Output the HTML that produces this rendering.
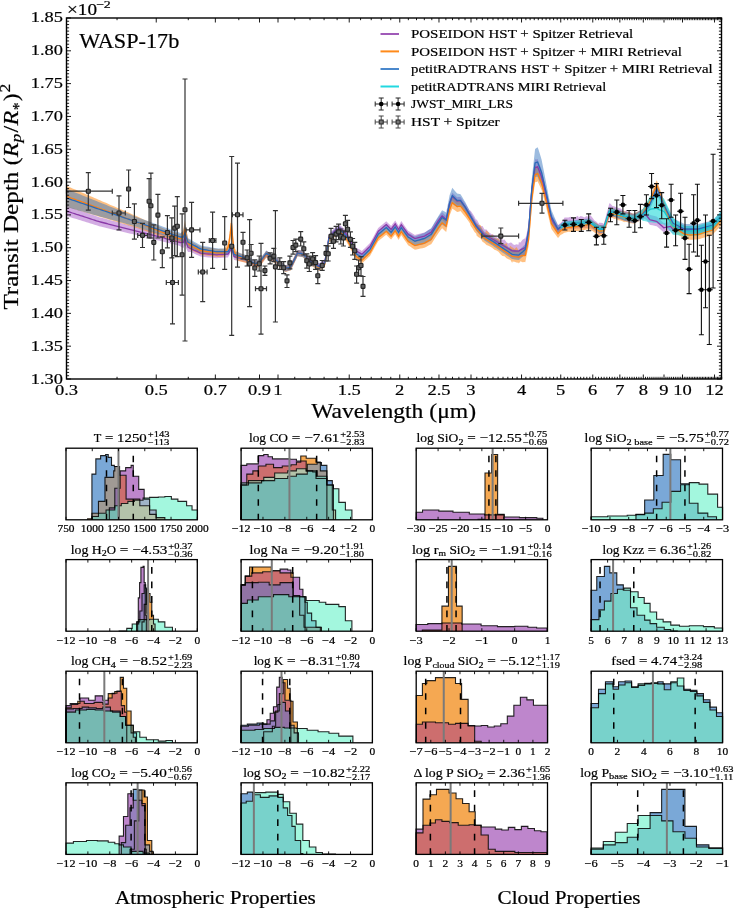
<!DOCTYPE html>
<html><head><meta charset="utf-8"><style>
html,body{margin:0;padding:0;background:#fff;width:735px;height:909px;overflow:hidden}
svg{display:block;will-change:transform}
text{font-family:"Liberation Serif", serif;white-space:pre}
.tk{stroke:#000;stroke-width:0.9}
</style></head><body>
<svg width="735" height="909" viewBox="0 0 735 909">
<rect width="735" height="909" fill="#fff"/>
<path d="M66.5 206.0 L68.5 206.7 L70.5 207.4 L72.5 208.0 L74.5 208.7 L76.5 209.4 L78.5 210.1 L80.5 210.8 L82.5 211.4 L84.5 212.1 L86.5 212.8 L88.5 213.5 L90.5 214.2 L92.5 214.8 L94.5 215.5 L96.5 216.2 L98.5 216.9 L100.0 217.4 L100.5 217.5 L102.5 218.1 L104.5 218.6 L106.5 219.1 L108.5 219.7 L110.5 220.2 L112.5 220.7 L114.5 221.3 L116.5 221.8 L118.5 222.3 L120.5 222.9 L122.5 223.4 L124.5 224.0 L126.5 224.5 L128.5 225.0 L130.5 225.6 L132.5 226.1 L134.0 226.5 L134.5 226.6 L136.5 227.2 L138.5 227.7 L140.5 228.2 L142.5 228.8 L144.5 229.3 L146.5 229.8 L148.5 230.3 L150.5 230.9 L152.5 231.4 L154.5 231.9 L156.5 232.5 L158.5 233.0 L160.0 233.4 L160.5 233.5 L162.5 234.1 L164.5 234.6 L166.5 235.1 L168.5 235.6 L170.5 236.2 L172.5 236.7 L174.5 237.3 L176.5 237.9 L178.5 238.5 L180.4 238.7 L180.5 238.7 L182.5 237.1 L183.3 236.5 L184.5 232.5 L184.9 231.2 L186.5 237.2 L188.0 242.4 L188.5 242.9 L190.5 244.9 L192.5 245.8 L194.5 246.8 L196.5 247.7 L198.5 248.7 L200.5 249.6 L200.8 249.7 L202.5 249.9 L204.5 250.1 L206.5 250.3 L208.5 250.6 L210.5 250.8 L212.5 251.0 L214.5 251.2 L216.5 251.4 L217.1 251.5 L218.5 251.4 L220.5 251.3 L222.5 251.1 L224.5 251.0 L226.5 250.9 L228.0 250.8 L228.5 250.0 L230.3 247.0 L230.5 246.2 L231.4 242.9 L232.5 247.4 L232.6 247.8 L234.0 253.1 L234.5 253.3 L236.5 253.8 L238.5 254.3 L240.5 254.8 L242.5 255.3 L244.5 255.8 L246.5 256.3 L247.0 256.5 L248.5 257.4 L250.5 258.6 L252.5 259.9 L254.5 261.2 L255.2 261.7 L256.5 261.1 L258.5 260.2 L260.0 259.5 L260.5 258.8 L262.5 256.1 L264.5 253.4 L266.3 250.9 L266.5 251.1 L268.5 252.3 L270.5 253.6 L272.5 254.9 L274.5 256.2 L276.5 257.9 L278.5 259.6 L280.5 261.3 L282.5 263.0 L284.5 264.7 L285.4 265.4 L286.5 265.1 L288.5 264.6 L290.5 264.0 L290.8 263.9 L292.5 260.4 L294.5 256.2 L296.5 252.1 L297.6 249.8 L298.5 249.9 L300.5 250.3 L302.5 250.6 L303.0 250.7 L304.5 252.3 L306.5 254.4 L308.5 256.6 L309.9 258.1 L310.5 258.4 L312.5 259.5 L314.5 260.5 L316.5 261.6 L318.5 262.7 L319.4 263.2 L320.5 262.3 L322.5 260.8 L324.5 259.2 L324.8 259.0 L326.5 248.8 L328.5 236.8 L328.9 234.4 L330.5 232.6 L332.5 230.2 L334.4 228.0 L334.5 228.0 L336.5 226.8 L338.5 225.7 L339.9 224.8 L340.5 225.4 L342.5 227.3 L344.5 229.1 L346.5 231.0 L348.5 234.4 L350.5 237.8 L352.5 241.2 L354.5 244.6 L356.4 247.9 L356.5 247.9 L358.5 249.0 L360.5 250.1 L361.9 250.9 L362.5 250.3 L364.5 248.4 L366.5 246.4 L368.5 244.5 L370.0 243.1 L370.5 242.1 L372.5 238.5 L374.5 234.8 L376.5 231.1 L378.2 228.0 L378.5 227.8 L380.5 226.1 L382.5 224.4 L384.5 222.7 L386.3 221.2 L386.5 221.4 L388.5 223.4 L390.5 225.3 L391.1 225.9 L392.5 224.1 L394.5 221.4 L395.2 220.4 L396.5 222.5 L398.5 225.7 L398.6 225.9 L400.5 222.5 L401.3 221.1 L402.5 222.8 L404.5 225.7 L406.5 228.5 L408.1 230.8 L408.5 231.0 L410.5 232.3 L412.5 233.5 L414.5 234.7 L414.9 235.0 L416.5 234.6 L418.5 234.0 L420.5 233.5 L422.5 233.0 L424.4 232.5 L424.5 232.4 L426.5 231.3 L428.5 230.1 L430.5 228.9 L431.2 228.5 L432.5 226.5 L434.5 223.3 L436.5 220.1 L438.0 217.8 L438.5 217.0 L440.5 214.2 L442.1 212.2 L442.5 212.6 L444.5 214.4 L446.2 215.9 L446.5 214.5 L448.5 205.0 L449.6 199.8 L450.5 197.5 L452.3 192.8 L452.5 193.0 L454.5 194.8 L456.5 196.7 L457.1 197.2 L458.5 197.1 L460.5 196.9 L462.5 199.7 L464.5 202.4 L465.2 203.4 L466.5 205.5 L468.5 208.7 L470.0 211.1 L470.5 210.4 L472.5 213.4 L474.5 216.8 L476.3 220.4 L476.5 219.1 L478.5 222.8 L480.5 226.2 L482.5 226.0 L484.5 229.6 L486.5 229.4 L488.5 232.1 L490.5 233.6 L492.5 234.8 L492.7 233.9 L494.5 235.7 L496.5 237.1 L498.5 238.5 L500.5 238.6 L502.4 237.8 L502.5 240.1 L504.5 239.5 L506.5 242.3 L508.5 243.4 L510.5 242.5 L512.2 243.1 L512.5 243.9 L514.5 244.9 L516.5 244.3 L518.5 244.7 L518.8 242.3 L520.5 242.5 L522.5 239.7 L524.5 238.5 L525.3 238.7 L526.5 234.5 L528.5 224.2 L528.6 223.7 L530.5 199.3 L531.8 183.0 L532.5 177.9 L534.5 163.6 L535.1 159.3 L536.5 159.4 L537.6 159.0 L538.5 161.4 L540.5 166.8 L541.6 169.7 L542.5 173.6 L544.5 182.2 L546.5 190.9 L548.5 200.2 L550.5 209.3 L551.4 213.4 L552.5 215.4 L554.5 218.9 L556.5 222.5 L558.0 225.2 L558.5 224.8 L560.5 223.1 L562.5 220.9 L564.3 218.0 L564.5 217.5 L566.5 217.5 L568.5 217.5 L570.5 216.8 L572.5 217.6 L574.5 218.3 L576.5 216.6 L578.1 215.8 L578.5 217.7 L580.5 216.0 L582.5 216.6 L584.5 217.5 L586.5 216.1 L588.5 217.0 L589.7 215.6 L590.5 215.3 L592.5 217.7 L594.5 220.5 L596.5 221.8 L598.5 224.1 L598.9 222.7 L600.5 222.7 L602.5 223.0 L603.6 223.9 L604.5 222.0 L606.5 213.7 L608.5 206.8 L609.3 203.3 L610.5 203.8 L612.5 206.1 L614.5 206.5 L615.1 206.8 L616.5 207.3 L618.5 208.0 L620.5 208.4 L622.5 209.9 L624.4 211.3 L624.5 211.8 L626.5 210.4 L628.5 212.4 L630.5 212.1 L632.5 213.9 L633.6 213.2 L634.5 214.1 L636.5 213.0 L638.5 211.0 L640.5 211.4 L642.5 211.3 L642.9 211.3 L644.5 209.9 L646.5 210.8 L648.5 213.2 L649.8 214.7 L650.5 214.9 L652.5 215.5 L654.5 216.0 L656.5 216.6 L656.8 216.7 L658.5 218.3 L660.5 220.1 L662.5 222.0 L663.7 223.1 L664.5 223.0 L666.5 222.6 L668.5 222.3 L670.5 222.0 L672.5 224.4 L673.0 225.1 L674.5 224.7 L676.5 224.3 L678.5 223.9 L680.5 223.8 L682.5 224.8 L684.5 225.9 L686.5 225.9 L688.5 225.9 L690.5 225.9 L692.5 225.9 L694.5 225.9 L696.5 225.9 L698.4 225.9 L698.5 225.9 L700.5 225.4 L702.5 224.9 L704.5 224.4 L706.5 223.9 L708.5 223.4 L710.5 222.9 L712.3 222.5 L712.5 222.3 L714.5 220.2 L716.5 218.2 L718.5 216.1 L720.5 214.0 L721.5 213.0 L721.5 219.0 L720.5 220.1 L718.5 222.2 L716.5 224.4 L714.5 226.6 L712.5 228.7 L712.3 229.0 L710.5 229.5 L708.5 230.1 L706.5 230.7 L704.5 231.3 L702.5 231.9 L700.5 232.6 L698.5 233.2 L698.4 233.2 L696.5 233.3 L694.5 233.4 L692.5 233.5 L690.5 233.6 L688.5 233.7 L686.5 233.8 L684.5 233.9 L682.5 233.0 L680.5 232.1 L678.5 232.3 L676.5 232.8 L674.5 233.4 L673.0 233.8 L672.5 233.2 L670.5 230.9 L668.5 231.3 L666.5 231.7 L664.5 232.1 L663.7 232.3 L662.5 231.3 L660.5 229.5 L658.5 227.8 L656.8 226.3 L656.5 226.2 L654.5 225.8 L652.5 225.3 L650.5 224.9 L649.8 224.7 L648.5 222.9 L646.5 220.1 L644.5 218.8 L642.9 219.9 L642.5 219.8 L640.5 219.5 L638.5 221.1 L636.5 221.3 L634.5 223.0 L633.6 223.1 L632.5 223.2 L630.5 222.3 L628.5 222.2 L626.5 220.9 L624.5 221.1 L624.4 220.6 L622.5 220.0 L620.5 219.1 L618.5 219.0 L616.5 217.4 L615.1 217.6 L614.5 217.0 L612.5 217.0 L610.5 218.1 L609.3 218.4 L608.5 220.7 L606.5 226.1 L604.5 230.8 L603.6 233.7 L602.5 233.3 L600.5 233.9 L598.9 234.3 L598.5 233.4 L596.5 231.8 L594.5 230.9 L592.5 229.1 L590.5 228.5 L589.7 227.5 L588.5 228.1 L586.5 228.0 L584.5 228.2 L582.5 227.9 L580.5 228.9 L578.5 228.3 L578.1 228.7 L576.5 228.6 L574.5 229.3 L572.5 229.4 L570.5 228.9 L568.5 228.6 L566.5 229.2 L564.5 229.2 L564.3 229.3 L562.5 230.4 L560.5 231.2 L558.5 233.3 L558.0 233.8 L556.5 231.7 L554.5 228.8 L552.5 225.9 L551.4 224.3 L550.5 220.5 L548.5 212.0 L546.5 203.4 L544.5 195.4 L542.5 187.4 L541.6 183.8 L540.5 181.3 L538.5 176.6 L537.6 174.5 L536.5 175.2 L535.1 175.1 L534.5 179.2 L532.5 193.2 L531.8 198.0 L530.5 214.0 L528.6 238.0 L528.5 238.5 L526.5 248.4 L525.3 254.6 L524.5 255.2 L522.5 256.4 L520.5 256.7 L518.8 258.2 L518.5 258.3 L516.5 257.0 L514.5 257.1 L512.5 256.7 L512.2 256.8 L510.5 255.1 L508.5 254.7 L506.5 253.2 L504.5 251.8 L502.5 250.3 L502.4 250.3 L500.5 248.1 L498.5 246.9 L496.5 246.3 L494.5 244.8 L492.7 244.3 L492.5 244.1 L490.5 242.8 L488.5 241.0 L486.5 240.2 L484.5 239.0 L482.5 236.7 L480.5 234.8 L478.5 232.9 L476.5 230.6 L476.3 230.1 L474.5 226.6 L472.5 224.1 L470.5 219.9 L470.0 219.7 L468.5 216.4 L466.5 213.1 L465.2 211.0 L464.5 210.0 L462.5 207.3 L460.5 204.5 L458.5 204.7 L457.1 204.8 L456.5 204.2 L454.5 202.4 L452.5 200.5 L452.3 200.3 L450.5 205.0 L449.6 207.2 L448.5 212.5 L446.5 222.0 L446.2 223.4 L444.5 221.8 L442.5 220.0 L442.1 219.6 L440.5 221.6 L438.5 224.4 L438.0 225.1 L436.5 227.5 L434.5 230.6 L432.5 233.8 L431.2 235.8 L430.5 236.2 L428.5 237.4 L426.5 238.5 L424.5 239.7 L424.4 239.7 L422.5 240.2 L420.5 240.7 L418.5 241.2 L416.5 241.7 L414.9 242.1 L414.5 241.9 L412.5 240.6 L410.5 239.4 L408.5 238.1 L408.1 237.8 L406.5 235.6 L404.5 232.7 L402.5 229.9 L401.3 228.1 L400.5 229.5 L398.6 232.9 L398.5 232.7 L396.5 229.5 L395.2 227.4 L394.5 228.3 L392.5 231.0 L391.1 232.9 L390.5 232.3 L388.5 230.2 L386.5 228.2 L386.3 228.0 L384.5 229.5 L382.5 231.2 L380.5 232.9 L378.5 234.5 L378.2 234.8 L376.5 237.9 L374.5 241.5 L372.5 245.2 L370.5 248.8 L370.0 249.8 L368.5 251.2 L366.5 253.1 L364.5 255.0 L362.5 256.9 L361.9 257.5 L360.5 256.7 L358.5 255.6 L356.5 254.5 L356.4 254.4 L354.5 251.2 L352.5 247.7 L350.5 244.3 L348.5 240.9 L346.5 237.4 L344.5 235.6 L342.5 233.7 L340.5 231.8 L339.9 231.2 L338.5 232.0 L336.5 233.2 L334.5 234.3 L334.4 234.4 L332.5 236.6 L330.5 238.9 L328.9 240.7 L328.5 243.1 L326.5 255.1 L324.8 265.3 L324.5 265.5 L322.5 267.0 L320.5 268.5 L319.4 269.4 L318.5 268.9 L316.5 267.8 L314.5 266.7 L312.5 265.6 L310.5 264.5 L309.9 264.2 L308.5 262.6 L306.5 260.5 L304.5 258.3 L303.0 256.7 L302.5 256.6 L300.5 256.3 L298.5 256.0 L297.6 255.8 L296.5 258.1 L294.5 262.3 L292.5 266.5 L290.8 270.0 L290.5 270.1 L288.5 270.7 L286.5 271.3 L285.4 271.6 L284.5 270.8 L282.5 269.1 L280.5 267.5 L278.5 265.8 L276.5 264.1 L274.5 262.4 L272.5 261.1 L270.5 259.9 L268.5 258.6 L266.5 257.4 L266.3 257.2 L264.5 259.7 L262.5 262.4 L260.5 265.2 L260.0 265.8 L258.5 266.5 L256.5 267.5 L255.2 268.1 L254.5 267.6 L252.5 266.3 L250.5 265.1 L248.5 263.8 L247.0 262.9 L246.5 262.8 L244.5 262.3 L242.5 261.8 L240.5 261.3 L238.5 260.8 L236.5 260.4 L234.5 259.9 L234.0 259.7 L232.6 254.4 L232.5 254.0 L231.4 249.5 L230.5 252.9 L230.3 253.6 L228.5 256.6 L228.0 257.5 L226.5 257.6 L224.5 257.7 L222.5 257.8 L220.5 258.0 L218.5 258.1 L217.1 258.2 L216.5 258.2 L214.5 258.0 L212.5 257.8 L210.5 257.6 L208.5 257.4 L206.5 257.2 L204.5 257.0 L202.5 256.8 L200.8 256.6 L200.5 256.5 L198.5 255.6 L196.5 254.7 L194.5 253.7 L192.5 252.8 L190.5 251.9 L188.5 252.0 L188.0 252.1 L186.5 249.0 L184.9 245.2 L184.5 246.0 L183.3 248.2 L182.5 247.7 L180.5 246.4 L180.4 246.3 L178.5 245.5 L176.5 245.0 L174.5 244.4 L172.5 243.9 L170.5 243.4 L168.5 242.9 L166.5 242.4 L164.5 241.9 L162.5 241.4 L160.5 241.0 L160.0 240.8 L158.5 240.5 L156.5 240.0 L154.5 239.5 L152.5 239.0 L150.5 238.5 L148.5 238.0 L146.5 237.5 L144.5 237.1 L142.5 236.6 L140.5 236.1 L138.5 235.6 L136.5 235.1 L134.5 234.6 L134.0 234.5 L132.5 234.1 L130.5 233.7 L128.5 233.2 L126.5 232.7 L124.5 232.2 L122.5 231.8 L120.5 231.3 L118.5 230.8 L116.5 230.3 L114.5 229.9 L112.5 229.4 L110.5 228.9 L108.5 228.4 L106.5 228.0 L104.5 227.5 L102.5 227.0 L100.5 226.5 L100.0 226.4 L98.5 225.9 L96.5 225.3 L94.5 224.7 L92.5 224.1 L90.5 223.5 L88.5 222.8 L86.5 222.2 L84.5 221.6 L82.5 221.0 L80.5 220.3 L78.5 219.7 L76.5 219.1 L74.5 218.5 L72.5 217.9 L70.5 217.2 L68.5 216.6 L66.5 216.0Z" fill="#a85cc8" fill-opacity="0.5"/>
<path d="M66.5 185.8 L68.5 186.7 L70.5 187.5 L72.5 188.4 L74.5 189.3 L76.5 190.1 L78.5 191.0 L80.5 191.9 L82.5 192.7 L84.5 193.6 L86.5 194.5 L88.5 195.3 L90.5 196.2 L92.5 197.1 L94.5 197.9 L96.5 198.8 L98.5 199.7 L100.0 200.3 L100.5 200.5 L102.5 201.4 L104.5 202.3 L106.5 203.1 L108.5 204.0 L110.5 204.9 L112.5 205.7 L114.5 206.6 L116.5 207.5 L118.5 208.3 L120.5 209.2 L122.5 210.0 L124.5 210.9 L126.5 211.8 L128.5 212.6 L130.5 213.5 L132.5 214.4 L134.0 215.0 L134.5 215.2 L136.5 216.1 L138.5 217.1 L140.5 218.0 L142.5 218.9 L144.5 219.8 L146.5 220.7 L148.5 221.6 L150.5 222.5 L152.5 223.4 L154.5 224.4 L156.5 225.3 L158.5 226.2 L160.0 226.9 L160.5 227.1 L162.5 227.9 L164.5 228.7 L166.5 229.4 L168.5 230.2 L170.5 231.0 L172.5 231.7 L174.5 232.4 L176.5 233.1 L178.5 233.8 L180.4 234.1 L180.5 234.0 L182.5 231.2 L183.3 229.0 L184.5 222.3 L184.9 220.0 L186.5 230.4 L188.0 238.4 L188.5 239.0 L190.5 241.1 L192.5 242.2 L194.5 243.3 L196.5 244.4 L198.5 245.5 L200.5 246.5 L200.8 246.7 L202.5 246.9 L204.5 247.2 L206.5 247.5 L208.5 247.7 L210.5 248.0 L212.5 248.3 L214.5 248.6 L216.5 248.8 L217.1 248.9 L218.5 248.9 L220.5 248.8 L222.5 248.8 L224.5 248.7 L226.5 246.1 L228.0 243.4 L228.5 241.0 L230.3 226.5 L230.5 224.2 L231.4 214.0 L232.5 229.4 L232.6 230.8 L234.0 246.6 L234.5 247.5 L236.5 251.1 L238.5 252.6 L240.5 253.4 L242.5 254.1 L244.5 254.9 L246.5 255.6 L247.0 255.8 L248.5 256.9 L250.5 258.4 L252.5 259.7 L254.5 261.1 L255.2 261.5 L256.5 261.0 L258.5 260.1 L260.0 259.5 L260.5 258.8 L262.5 256.1 L264.5 253.4 L266.3 250.9 L266.5 251.1 L268.5 252.4 L270.5 253.6 L272.5 254.9 L274.5 256.2 L276.5 257.9 L278.5 259.6 L280.5 261.3 L282.5 263.0 L284.5 264.7 L285.4 265.5 L286.5 265.2 L288.5 264.6 L290.5 264.1 L290.8 264.0 L292.5 260.5 L294.5 256.3 L296.5 252.1 L297.6 249.9 L298.5 250.0 L300.5 250.4 L302.5 250.9 L303.0 251.0 L304.5 252.7 L306.5 255.0 L308.5 257.3 L309.9 259.0 L310.5 259.3 L312.5 260.6 L314.5 261.8 L316.5 263.1 L318.5 264.3 L319.4 264.9 L320.5 264.2 L322.5 262.8 L324.5 261.4 L324.8 261.2 L326.5 251.1 L328.5 239.3 L328.9 236.9 L330.5 235.3 L332.5 233.2 L334.4 231.2 L334.5 231.1 L336.5 230.2 L338.5 229.3 L339.9 228.6 L340.5 229.3 L342.5 231.3 L344.5 233.4 L346.5 235.5 L348.5 239.1 L350.5 242.8 L352.5 246.4 L354.5 250.1 L356.4 253.5 L356.5 253.6 L358.5 254.9 L360.5 256.2 L361.9 257.0 L362.5 256.5 L364.5 254.6 L366.5 252.7 L368.5 250.8 L370.0 249.4 L370.5 248.5 L372.5 244.8 L374.5 241.2 L376.5 237.6 L378.2 234.5 L378.5 234.3 L380.5 232.6 L382.5 231.0 L384.5 229.3 L386.3 227.9 L386.5 228.1 L388.5 230.1 L390.5 232.1 L391.1 232.7 L392.5 230.9 L394.5 228.2 L395.2 227.3 L396.5 229.4 L398.5 232.7 L398.6 232.9 L400.5 229.5 L401.3 228.1 L402.5 229.7 L404.5 232.5 L406.5 235.2 L408.1 237.4 L408.5 237.6 L410.5 238.8 L412.5 240.0 L414.5 241.1 L414.9 241.4 L416.5 240.9 L418.5 240.2 L420.5 239.6 L422.5 239.0 L424.4 238.4 L424.5 238.4 L426.5 237.1 L428.5 235.9 L430.5 234.6 L431.2 234.2 L432.5 232.1 L434.5 228.8 L436.5 225.6 L438.0 223.1 L438.5 222.4 L440.5 219.4 L442.1 217.2 L442.5 217.5 L444.5 219.1 L446.2 220.4 L446.5 218.9 L448.5 209.2 L449.6 203.8 L450.5 201.4 L452.3 196.6 L452.5 196.8 L454.5 198.7 L456.5 200.6 L457.1 201.2 L458.5 201.1 L460.5 201.0 L462.5 203.8 L464.5 206.7 L465.2 207.6 L466.5 209.7 L468.5 213.0 L470.0 215.2 L470.5 216.0 L472.5 217.7 L474.5 221.5 L476.3 224.5 L476.5 223.8 L478.5 225.1 L480.5 225.1 L482.5 229.5 L484.5 233.6 L486.5 230.5 L488.5 232.3 L490.5 236.3 L492.5 233.9 L492.7 238.0 L494.5 237.7 L496.5 238.6 L498.5 238.8 L500.5 240.9 L502.4 243.3 L502.5 242.9 L504.5 244.5 L506.5 242.9 L508.5 248.7 L510.5 245.7 L512.2 247.7 L512.5 247.2 L514.5 249.1 L516.5 247.1 L518.5 250.2 L518.8 251.1 L520.5 250.6 L522.5 249.4 L524.5 247.6 L525.3 246.5 L526.5 243.5 L528.5 233.6 L528.6 233.1 L530.5 208.5 L531.8 191.7 L532.5 186.4 L534.5 171.2 L535.1 166.6 L536.5 166.3 L537.6 165.7 L538.5 168.0 L540.5 173.0 L541.6 175.8 L542.5 179.5 L544.5 187.8 L546.5 196.2 L548.5 205.1 L550.5 214.1 L551.4 218.1 L552.5 220.0 L554.5 223.4 L556.5 226.8 L558.0 229.3 L558.5 228.9 L560.5 227.1 L562.5 224.0 L564.3 222.8 L564.5 223.6 L566.5 221.9 L568.5 223.3 L570.5 221.5 L572.5 221.5 L574.5 221.0 L576.5 222.0 L578.1 221.8 L578.5 220.8 L580.5 220.2 L582.5 220.6 L584.5 219.9 L586.5 219.5 L588.5 219.6 L589.7 220.1 L590.5 219.3 L592.5 221.2 L594.5 222.2 L596.5 223.3 L598.5 224.6 L598.9 226.0 L600.5 224.9 L602.5 225.8 L603.6 225.4 L604.5 222.3 L606.5 217.2 L608.5 210.2 L609.3 208.4 L610.5 208.8 L612.5 207.7 L614.5 208.7 L615.1 209.4 L616.5 208.8 L618.5 210.6 L620.5 210.8 L622.5 211.6 L624.4 211.2 L624.5 211.0 L626.5 212.6 L628.5 211.7 L630.5 213.1 L632.5 213.3 L633.6 214.1 L634.5 213.3 L636.5 212.1 L638.5 211.6 L640.5 210.5 L642.5 209.0 L642.9 208.7 L644.5 206.1 L646.5 202.9 L648.5 199.8 L649.8 197.7 L650.5 195.9 L652.5 190.8 L654.5 185.6 L656.5 180.8 L656.8 180.3 L658.5 185.1 L660.5 190.8 L662.5 196.5 L663.7 199.9 L664.5 201.9 L666.5 206.9 L668.5 211.8 L670.5 216.6 L672.5 220.9 L673.0 221.9 L674.5 222.9 L676.5 224.2 L678.5 225.5 L680.5 226.8 L682.5 228.1 L684.5 229.4 L686.5 229.7 L688.5 230.0 L690.5 230.2 L692.5 230.0 L694.5 229.9 L696.5 229.7 L698.4 229.6 L698.5 229.6 L700.5 228.9 L702.5 228.3 L704.5 227.6 L706.5 227.0 L708.5 226.4 L710.5 225.7 L712.3 225.1 L712.5 224.9 L714.5 222.7 L716.5 220.5 L718.5 218.3 L720.5 216.1 L721.5 215.0 L721.5 225.0 L720.5 226.1 L718.5 228.3 L716.5 230.5 L714.5 232.6 L712.5 234.8 L712.3 235.0 L710.5 235.6 L708.5 236.2 L706.5 236.8 L704.5 237.4 L702.5 238.1 L700.5 238.7 L698.5 239.3 L698.4 239.3 L696.5 239.4 L694.5 239.5 L692.5 239.7 L690.5 239.8 L688.5 239.6 L686.5 239.3 L684.5 238.9 L682.5 237.6 L680.5 236.3 L678.5 235.0 L676.5 233.7 L674.5 232.3 L673.0 231.4 L672.5 230.3 L670.5 226.0 L668.5 221.2 L666.5 216.2 L664.5 211.2 L663.7 209.2 L662.5 205.8 L660.5 200.1 L658.5 194.4 L656.8 189.5 L656.5 190.0 L654.5 194.8 L652.5 199.9 L650.5 205.0 L649.8 206.8 L648.5 208.9 L646.5 212.0 L644.5 215.2 L642.9 217.7 L642.5 218.0 L640.5 219.5 L638.5 221.4 L636.5 222.1 L634.5 223.5 L633.6 223.8 L632.5 223.3 L630.5 223.2 L628.5 222.6 L626.5 222.1 L624.5 221.7 L624.4 222.2 L622.5 221.2 L620.5 220.6 L618.5 220.2 L616.5 219.4 L615.1 218.4 L614.5 219.0 L612.5 218.0 L610.5 217.8 L609.3 217.8 L608.5 220.3 L606.5 226.8 L604.5 232.7 L603.6 235.3 L602.5 235.5 L600.5 235.8 L598.9 236.0 L598.5 235.3 L596.5 234.2 L594.5 232.4 L592.5 231.1 L590.5 229.9 L589.7 228.9 L588.5 229.6 L586.5 229.5 L584.5 230.0 L582.5 229.9 L580.5 230.4 L578.5 230.7 L578.1 231.2 L576.5 231.1 L574.5 231.0 L572.5 231.7 L570.5 232.1 L568.5 231.7 L566.5 232.3 L564.5 232.7 L564.3 232.7 L562.5 234.1 L560.5 235.1 L558.5 237.4 L558.0 238.0 L556.5 236.0 L554.5 233.2 L552.5 230.5 L551.4 229.0 L550.5 225.3 L548.5 217.0 L546.5 208.7 L544.5 201.0 L542.5 193.3 L541.6 189.9 L540.5 187.5 L538.5 183.2 L537.6 181.2 L536.5 182.1 L535.1 182.3 L534.5 186.6 L532.5 201.1 L531.8 206.1 L530.5 222.4 L528.6 246.3 L528.5 246.8 L526.5 255.9 L525.3 262.2 L524.5 262.0 L522.5 262.2 L520.5 261.2 L518.8 263.5 L518.5 262.7 L516.5 262.4 L514.5 261.8 L512.5 261.5 L512.2 263.1 L510.5 260.1 L508.5 259.3 L506.5 258.2 L504.5 256.3 L502.5 256.0 L502.4 255.9 L500.5 254.3 L498.5 251.8 L496.5 250.5 L494.5 249.8 L492.7 248.2 L492.5 248.1 L490.5 246.8 L488.5 245.7 L486.5 245.1 L484.5 242.9 L482.5 241.8 L480.5 238.3 L478.5 237.3 L476.5 235.5 L476.3 233.8 L474.5 231.9 L472.5 228.5 L470.5 225.7 L470.0 223.5 L468.5 221.3 L466.5 218.5 L465.2 216.7 L464.5 215.9 L462.5 213.5 L460.5 211.1 L458.5 211.7 L457.1 212.0 L456.5 211.6 L454.5 210.1 L452.5 208.7 L452.3 208.5 L450.5 213.3 L449.6 215.6 L448.5 220.8 L446.5 230.4 L446.2 231.9 L444.5 230.4 L442.5 228.6 L442.1 228.3 L440.5 230.3 L438.5 233.1 L438.0 233.8 L436.5 236.1 L434.5 239.1 L432.5 242.2 L431.2 244.2 L430.5 244.6 L428.5 245.6 L426.5 246.7 L424.5 247.7 L424.4 247.8 L422.5 248.2 L420.5 248.6 L418.5 249.0 L416.5 249.5 L414.9 249.8 L414.5 249.5 L412.5 248.2 L410.5 246.8 L408.5 245.5 L408.1 245.2 L406.5 242.8 L404.5 239.9 L402.5 237.0 L401.3 235.2 L400.5 236.6 L398.6 239.9 L398.5 239.7 L396.5 236.4 L395.2 234.2 L394.5 235.2 L392.5 237.8 L391.1 239.6 L390.5 239.0 L388.5 236.9 L386.5 234.9 L386.3 234.7 L384.5 236.1 L382.5 237.7 L380.5 239.3 L378.5 241.0 L378.2 241.2 L376.5 244.3 L374.5 247.8 L372.5 251.4 L370.5 255.0 L370.0 255.9 L368.5 257.3 L366.5 259.2 L364.5 261.1 L362.5 262.9 L361.9 263.5 L360.5 262.6 L358.5 261.3 L356.5 260.0 L356.4 259.9 L354.5 256.4 L352.5 252.8 L350.5 249.1 L348.5 245.4 L346.5 241.7 L344.5 239.6 L342.5 237.5 L340.5 235.4 L339.9 234.8 L338.5 235.4 L336.5 236.3 L334.5 237.2 L334.4 237.3 L332.5 239.2 L330.5 241.3 L328.9 243.0 L328.5 245.3 L326.5 257.2 L324.8 267.3 L324.5 267.5 L322.5 268.9 L320.5 270.3 L319.4 271.0 L318.5 270.5 L316.5 269.3 L314.5 268.0 L312.5 266.8 L310.5 265.6 L309.9 265.2 L308.5 263.6 L306.5 261.3 L304.5 259.0 L303.0 257.3 L302.5 257.2 L300.5 256.7 L298.5 256.4 L297.6 256.3 L296.5 258.6 L294.5 262.7 L292.5 266.9 L290.8 270.5 L290.5 270.6 L288.5 271.1 L286.5 271.7 L285.4 272.0 L284.5 271.3 L282.5 269.6 L280.5 267.9 L278.5 266.2 L276.5 264.6 L274.5 262.9 L272.5 261.6 L270.5 260.4 L268.5 259.1 L266.5 257.9 L266.3 257.7 L264.5 260.2 L262.5 262.9 L260.5 265.7 L260.0 266.3 L258.5 267.0 L256.5 267.9 L255.2 268.5 L254.5 268.0 L252.5 266.7 L250.5 265.3 L248.5 264.1 L247.0 263.2 L246.5 263.1 L244.5 262.6 L242.5 262.0 L240.5 261.5 L238.5 261.0 L236.5 259.8 L234.5 256.5 L234.0 255.6 L232.6 244.6 L232.5 243.6 L231.4 232.0 L230.5 239.6 L230.3 241.3 L228.5 250.5 L228.0 251.4 L226.5 254.1 L224.5 256.7 L222.5 256.8 L220.5 256.8 L218.5 256.9 L217.1 256.9 L216.5 256.8 L214.5 256.6 L212.5 256.3 L210.5 256.0 L208.5 255.7 L206.5 255.5 L204.5 255.2 L202.5 254.9 L200.8 254.7 L200.5 254.5 L198.5 253.6 L196.5 252.7 L194.5 251.8 L192.5 250.8 L190.5 249.9 L188.5 247.9 L188.0 247.4 L186.5 243.7 L184.9 238.0 L184.5 239.0 L183.3 242.0 L182.5 241.8 L180.5 243.0 L180.4 243.1 L178.5 242.8 L176.5 242.1 L174.5 241.4 L172.5 240.7 L170.5 240.0 L168.5 239.2 L166.5 238.4 L164.5 237.7 L162.5 236.9 L160.5 236.1 L160.0 235.9 L158.5 235.4 L156.5 234.7 L154.5 234.0 L152.5 233.3 L150.5 232.6 L148.5 231.9 L146.5 231.3 L144.5 230.6 L142.5 229.9 L140.5 229.2 L138.5 228.5 L136.5 227.9 L134.5 227.2 L134.0 227.0 L132.5 226.6 L130.5 226.0 L128.5 225.4 L126.5 224.8 L124.5 224.2 L122.5 223.6 L120.5 223.0 L118.5 222.4 L116.5 221.8 L114.5 221.2 L112.5 220.6 L110.5 220.0 L108.5 219.4 L106.5 218.8 L104.5 218.2 L102.5 217.6 L100.5 217.0 L100.0 216.9 L98.5 216.4 L96.5 215.8 L94.5 215.2 L92.5 214.6 L90.5 214.0 L88.5 213.4 L86.5 212.8 L84.5 212.2 L82.5 211.6 L80.5 211.0 L78.5 210.4 L76.5 209.8 L74.5 209.2 L72.5 208.6 L70.5 208.0 L68.5 207.4 L66.5 206.8Z" fill="#ff8c1a" fill-opacity="0.55"/>
<path d="M66.5 189.0 L68.5 189.8 L70.5 190.6 L72.5 191.4 L74.5 192.2 L76.5 193.0 L78.5 193.8 L80.5 194.6 L82.5 195.4 L84.5 196.2 L86.5 197.1 L88.5 197.9 L90.5 198.7 L92.5 199.5 L94.5 200.3 L96.5 201.1 L98.5 201.9 L100.0 202.5 L100.5 202.7 L102.5 203.5 L104.5 204.3 L106.5 205.1 L108.5 205.9 L110.5 206.7 L112.5 207.5 L114.5 208.2 L116.5 209.0 L118.5 209.8 L120.5 210.6 L122.5 211.4 L124.5 212.2 L126.5 213.0 L128.5 213.8 L130.5 214.6 L132.5 215.4 L134.0 216.0 L134.5 216.2 L136.5 216.9 L138.5 217.7 L140.5 218.4 L142.5 219.1 L144.5 219.9 L146.5 220.6 L148.5 221.3 L150.5 222.1 L152.5 222.8 L154.5 223.5 L156.5 224.3 L158.5 225.0 L160.0 225.5 L160.5 225.7 L162.5 226.5 L164.5 227.2 L166.5 227.9 L168.5 228.6 L170.5 229.4 L172.5 230.1 L174.5 230.8 L176.5 231.5 L178.5 232.3 L180.4 233.0 L180.5 233.0 L182.5 232.0 L183.3 230.3 L184.5 224.8 L184.9 223.0 L186.5 231.1 L188.0 238.2 L188.5 238.5 L190.5 239.6 L192.5 240.8 L194.5 241.9 L196.5 243.1 L198.5 244.2 L200.5 245.3 L200.8 245.5 L202.5 245.8 L204.5 246.2 L206.5 246.5 L208.5 246.8 L210.5 247.2 L212.5 247.5 L214.5 247.9 L216.5 248.2 L217.1 248.3 L218.5 248.4 L220.5 248.4 L222.5 248.4 L224.5 248.4 L226.5 248.4 L228.0 248.4 L228.5 247.6 L230.3 244.8 L230.5 244.0 L231.4 240.8 L232.5 245.4 L232.6 245.8 L234.0 251.2 L234.5 251.3 L236.5 252.0 L238.5 252.6 L240.5 253.3 L242.5 253.9 L244.5 254.6 L246.5 255.2 L247.0 255.4 L248.5 256.4 L250.5 257.8 L252.5 259.1 L254.5 260.5 L255.2 261.0 L256.5 260.4 L258.5 259.5 L260.0 258.9 L260.5 258.2 L262.5 255.6 L264.5 252.9 L266.3 250.5 L266.5 250.6 L268.5 251.9 L270.5 253.2 L272.5 254.5 L274.5 255.8 L276.5 257.6 L278.5 259.3 L280.5 261.1 L282.5 262.8 L284.5 264.5 L285.4 265.3 L286.5 265.0 L288.5 264.5 L290.5 264.0 L290.8 263.9 L292.5 260.4 L294.5 256.3 L296.5 252.1 L297.6 249.9 L298.5 250.0 L300.5 250.4 L302.5 250.8 L303.0 250.8 L304.5 252.5 L306.5 254.7 L308.5 256.9 L309.9 258.4 L310.5 258.8 L312.5 259.9 L314.5 261.0 L316.5 262.1 L318.5 263.3 L319.4 263.8 L320.5 263.0 L322.5 261.5 L324.5 260.0 L324.8 259.8 L326.5 249.6 L328.5 237.6 L328.9 235.3 L330.5 233.5 L332.5 231.3 L334.4 229.2 L334.5 229.2 L336.5 228.2 L338.5 227.1 L339.9 226.4 L340.5 227.0 L342.5 229.0 L344.5 231.0 L346.5 233.0 L348.5 236.5 L350.5 240.1 L352.5 243.6 L354.5 247.2 L356.4 250.6 L356.5 250.6 L358.5 251.8 L360.5 253.0 L361.9 253.8 L362.5 253.3 L364.5 251.3 L366.5 249.4 L368.5 247.5 L370.0 246.0 L370.5 245.1 L372.5 241.4 L374.5 237.8 L376.5 234.1 L378.2 231.0 L378.5 230.7 L380.5 229.0 L382.5 227.4 L384.5 225.7 L386.3 224.1 L386.5 224.3 L388.5 226.3 L390.5 228.3 L391.1 228.9 L392.5 227.0 L394.5 224.4 L395.2 223.4 L396.5 225.5 L398.5 228.7 L398.6 228.9 L400.5 225.5 L401.3 224.0 L402.5 225.6 L404.5 228.2 L406.5 230.8 L408.1 232.9 L408.5 233.1 L410.5 234.1 L412.5 235.2 L414.5 236.2 L414.9 236.4 L416.5 235.8 L418.5 235.1 L420.5 234.3 L422.5 233.6 L424.4 232.9 L424.5 232.8 L426.5 231.4 L428.5 230.1 L430.5 228.7 L431.2 228.2 L432.5 226.0 L434.5 222.6 L436.5 219.2 L438.0 216.7 L438.5 215.9 L440.5 212.8 L442.1 210.3 L442.5 210.5 L444.5 211.6 L446.2 212.6 L446.5 211.1 L448.5 200.9 L449.6 195.3 L450.5 192.7 L452.3 187.7 L452.5 187.9 L454.5 190.4 L456.5 192.8 L457.1 193.5 L458.5 193.8 L460.5 194.3 L462.5 197.6 L464.5 201.0 L465.2 202.1 L466.5 204.6 L468.5 208.5 L470.0 211.4 L470.5 212.3 L472.5 215.8 L474.5 219.2 L476.3 222.4 L476.5 222.6 L478.5 225.0 L480.5 227.3 L482.5 229.7 L484.5 232.0 L486.5 233.2 L488.5 234.4 L490.5 235.5 L492.5 236.7 L492.7 236.8 L494.5 238.0 L496.5 239.3 L498.5 240.6 L500.5 242.0 L502.4 243.2 L502.5 243.3 L504.5 244.6 L506.5 245.9 L508.5 247.1 L510.5 248.4 L512.2 249.5 L512.5 249.6 L514.5 249.8 L516.5 250.0 L518.5 250.2 L518.8 250.2 L520.5 248.7 L522.5 246.9 L524.5 245.1 L525.3 244.2 L526.5 236.9 L528.5 224.6 L528.6 224.0 L530.5 197.6 L531.8 179.0 L532.5 172.6 L534.5 154.3 L535.1 148.9 L536.5 148.0 L537.6 147.3 L538.5 149.5 L540.5 155.9 L541.6 159.7 L542.5 164.2 L544.5 174.4 L546.5 184.7 L548.5 195.4 L550.5 205.6 L551.4 210.1 L552.5 212.6 L554.5 217.2 L556.5 221.7 L558.0 225.2 L558.5 225.0 L560.5 224.1 L562.5 222.6 L564.3 221.2 L564.5 221.2 L566.5 221.0 L568.5 220.8 L570.5 220.6 L572.5 220.4 L574.5 220.2 L576.5 220.0 L578.1 219.8 L578.5 219.7 L580.5 219.5 L582.5 219.2 L584.5 219.0 L586.5 218.7 L588.5 218.5 L589.7 218.3 L590.5 218.9 L592.5 220.4 L594.5 221.9 L596.5 223.4 L598.5 224.8 L598.9 225.1 L600.5 225.1 L602.5 225.1 L603.6 225.0 L604.5 222.3 L606.5 216.1 L608.5 210.0 L609.3 207.5 L610.5 207.7 L612.5 208.1 L614.5 208.5 L615.1 208.6 L616.5 209.1 L618.5 209.8 L620.5 210.5 L622.5 211.2 L624.4 211.9 L624.5 211.9 L626.5 212.3 L628.5 212.8 L630.5 213.3 L632.5 213.7 L633.6 214.0 L634.5 213.5 L636.5 212.4 L638.5 211.4 L640.5 210.3 L642.5 209.3 L642.9 209.1 L644.5 206.9 L646.5 204.2 L648.5 201.5 L649.8 199.7 L650.5 198.1 L652.5 193.5 L654.5 188.8 L656.5 184.2 L656.8 183.5 L658.5 187.5 L660.5 192.2 L662.5 196.9 L663.7 199.7 L664.5 201.3 L666.5 205.3 L668.5 209.2 L670.5 213.2 L672.5 217.2 L673.0 218.2 L674.5 219.0 L676.5 220.0 L678.5 221.0 L680.5 222.0 L682.5 223.0 L684.5 224.0 L686.5 224.0 L688.5 224.0 L690.5 224.0 L692.5 224.0 L694.5 224.0 L696.5 224.0 L698.4 224.0 L698.5 224.0 L700.5 223.5 L702.5 223.0 L704.5 222.5 L706.5 222.0 L708.5 221.5 L710.5 221.0 L712.3 220.5 L712.5 220.3 L714.5 218.2 L716.5 216.2 L718.5 214.1 L720.5 212.0 L721.5 211.0 L721.5 221.0 L720.5 222.0 L718.5 224.1 L716.5 226.2 L714.5 228.2 L712.5 230.3 L712.3 230.5 L710.5 231.0 L708.5 231.5 L706.5 232.0 L704.5 232.5 L702.5 233.0 L700.5 233.5 L698.5 234.0 L698.4 234.0 L696.5 234.0 L694.5 234.0 L692.5 234.0 L690.5 234.0 L688.5 234.0 L686.5 234.0 L684.5 234.0 L682.5 233.0 L680.5 232.0 L678.5 231.0 L676.5 230.0 L674.5 229.0 L673.0 228.2 L672.5 227.2 L670.5 223.2 L668.5 219.2 L666.5 215.3 L664.5 211.3 L663.7 209.7 L662.5 206.9 L660.5 202.2 L658.5 197.5 L656.8 193.5 L656.5 194.2 L654.5 198.8 L652.5 203.5 L650.5 208.1 L649.8 209.7 L648.5 211.4 L646.5 214.0 L644.5 216.6 L642.9 218.7 L642.5 218.9 L640.5 219.9 L638.5 220.9 L636.5 221.8 L634.5 222.8 L633.6 223.2 L632.5 222.9 L630.5 222.4 L628.5 221.8 L626.5 221.3 L624.5 220.8 L624.4 220.7 L622.5 220.0 L620.5 219.2 L618.5 218.4 L616.5 217.6 L615.1 217.0 L614.5 216.9 L612.5 216.4 L610.5 216.0 L609.3 215.7 L608.5 218.1 L606.5 224.2 L604.5 230.2 L603.6 233.0 L602.5 232.9 L600.5 232.9 L598.9 232.9 L598.5 232.6 L596.5 231.0 L594.5 229.4 L592.5 227.9 L590.5 226.3 L589.7 225.7 L588.5 225.8 L586.5 225.9 L584.5 226.1 L582.5 226.2 L580.5 226.4 L578.5 226.6 L578.1 226.6 L576.5 226.7 L574.5 226.8 L572.5 226.9 L570.5 227.0 L568.5 227.2 L566.5 227.3 L564.5 227.4 L564.3 227.4 L562.5 228.7 L560.5 230.1 L558.5 232.3 L558.0 232.8 L556.5 230.7 L554.5 227.8 L552.5 224.9 L551.4 223.3 L550.5 219.5 L548.5 211.0 L546.5 203.1 L544.5 196.0 L542.5 189.0 L541.6 185.7 L540.5 183.6 L538.5 179.3 L537.6 176.7 L536.5 176.8 L535.1 176.9 L534.5 181.0 L532.5 194.3 L531.8 199.0 L530.5 214.9 L528.6 238.8 L528.5 239.3 L526.5 248.9 L525.3 254.6 L524.5 255.1 L522.5 256.8 L520.5 258.5 L518.8 260.0 L518.5 259.9 L516.5 259.7 L514.5 259.4 L512.5 259.1 L512.2 259.1 L510.5 257.9 L508.5 256.5 L506.5 255.2 L504.5 253.8 L502.5 252.5 L502.4 252.4 L500.5 251.1 L498.5 249.7 L496.5 248.3 L494.5 246.9 L492.7 245.6 L492.5 245.5 L490.5 244.3 L488.5 243.0 L486.5 241.8 L484.5 240.6 L482.5 238.1 L480.5 235.7 L478.5 233.3 L476.5 230.9 L476.3 230.6 L474.5 227.4 L472.5 223.9 L470.5 220.3 L470.0 219.4 L468.5 217.2 L466.5 214.2 L465.2 212.3 L464.5 211.4 L462.5 209.0 L460.5 206.5 L458.5 207.0 L457.1 207.3 L456.5 206.8 L454.5 205.2 L452.5 203.7 L452.3 203.5 L450.5 208.5 L449.6 210.9 L448.5 216.3 L446.5 226.1 L446.2 227.6 L444.5 226.3 L442.5 224.8 L442.1 224.5 L440.5 226.8 L438.5 229.6 L438.0 230.3 L436.5 232.6 L434.5 235.6 L432.5 238.6 L431.2 240.6 L430.5 241.0 L428.5 242.0 L426.5 243.0 L424.5 244.1 L424.4 244.1 L422.5 244.5 L420.5 244.9 L418.5 245.3 L416.5 245.7 L414.9 246.0 L414.5 245.7 L412.5 244.3 L410.5 243.0 L408.5 241.6 L408.1 241.3 L406.5 238.9 L404.5 236.0 L402.5 233.0 L401.3 231.2 L400.5 232.6 L398.6 235.9 L398.5 235.7 L396.5 232.5 L395.2 230.4 L394.5 231.3 L392.5 234.0 L391.1 235.9 L390.5 235.3 L388.5 233.3 L386.5 231.3 L386.3 231.1 L384.5 232.6 L382.5 234.2 L380.5 235.9 L378.5 237.6 L378.2 237.8 L376.5 240.9 L374.5 244.6 L372.5 248.2 L370.5 251.9 L370.0 252.8 L368.5 254.2 L366.5 256.2 L364.5 258.1 L362.5 260.0 L361.9 260.6 L360.5 259.7 L358.5 258.5 L356.5 257.3 L356.4 257.2 L354.5 253.9 L352.5 250.3 L350.5 246.7 L348.5 243.2 L346.5 239.6 L344.5 237.6 L342.5 235.6 L340.5 233.6 L339.9 233.0 L338.5 233.7 L336.5 234.7 L334.5 235.7 L334.4 235.8 L332.5 237.8 L330.5 240.0 L328.9 241.7 L328.5 244.1 L326.5 256.1 L324.8 266.2 L324.5 266.5 L322.5 267.9 L320.5 269.4 L319.4 270.2 L318.5 269.7 L316.5 268.6 L314.5 267.4 L312.5 266.3 L310.5 265.1 L309.9 264.8 L308.5 263.2 L306.5 261.0 L304.5 258.8 L303.0 257.2 L302.5 257.1 L300.5 256.7 L298.5 256.3 L297.6 256.1 L296.5 258.4 L294.5 262.5 L292.5 266.6 L290.8 270.1 L290.5 270.2 L288.5 270.7 L286.5 271.2 L285.4 271.5 L284.5 270.7 L282.5 269.0 L280.5 267.2 L278.5 265.5 L276.5 263.7 L274.5 262.0 L272.5 260.6 L270.5 259.3 L268.5 258.0 L266.5 256.7 L266.3 256.5 L264.5 258.9 L262.5 261.6 L260.5 264.2 L260.0 264.9 L258.5 265.6 L256.5 266.5 L255.2 267.0 L254.5 266.6 L252.5 265.3 L250.5 263.9 L248.5 262.6 L247.0 261.6 L246.5 261.5 L244.5 260.8 L242.5 260.2 L240.5 259.6 L238.5 259.0 L236.5 258.4 L234.5 257.8 L234.0 257.6 L232.6 252.2 L232.5 251.8 L231.4 247.2 L230.5 250.5 L230.3 251.2 L228.5 254.2 L228.0 255.0 L226.5 255.0 L224.5 255.0 L222.5 255.0 L220.5 255.0 L218.5 255.0 L217.1 255.1 L216.5 255.0 L214.5 254.6 L212.5 254.3 L210.5 254.0 L208.5 253.7 L206.5 253.4 L204.5 253.1 L202.5 252.8 L200.8 252.5 L200.5 252.3 L198.5 251.3 L196.5 250.4 L194.5 249.4 L192.5 248.4 L190.5 247.4 L188.5 246.4 L188.0 246.2 L186.5 244.9 L184.9 243.0 L184.5 243.2 L183.3 243.7 L182.5 242.0 L180.5 241.0 L180.4 241.0 L178.5 240.4 L176.5 239.8 L174.5 239.1 L172.5 238.5 L170.5 237.8 L168.5 237.2 L166.5 236.6 L164.5 235.9 L162.5 235.3 L160.5 234.6 L160.0 234.5 L158.5 234.0 L156.5 233.3 L154.5 232.7 L152.5 232.0 L150.5 231.4 L148.5 230.7 L146.5 230.1 L144.5 229.4 L142.5 228.8 L140.5 228.1 L138.5 227.5 L136.5 226.8 L134.5 226.2 L134.0 226.0 L132.5 225.6 L130.5 225.0 L128.5 224.5 L126.5 223.9 L124.5 223.3 L122.5 222.8 L120.5 222.2 L118.5 221.7 L116.5 221.1 L114.5 220.6 L112.5 220.0 L110.5 219.4 L108.5 218.9 L106.5 218.3 L104.5 217.8 L102.5 217.2 L100.5 216.7 L100.0 216.5 L98.5 216.1 L96.5 215.5 L94.5 215.0 L92.5 214.4 L90.5 213.8 L88.5 213.2 L86.5 212.7 L84.5 212.1 L82.5 211.5 L80.5 211.0 L78.5 210.4 L76.5 209.8 L74.5 209.3 L72.5 208.7 L70.5 208.1 L68.5 207.6 L66.5 207.0Z" fill="#3a78c0" fill-opacity="0.5"/>
<path d="M560.5 224.6 L562.5 223.1 L564.3 221.8 L564.5 221.8 L566.5 221.6 L568.5 221.4 L570.5 221.2 L572.5 221.1 L574.5 220.9 L576.5 220.7 L578.1 220.6 L578.5 220.5 L580.5 220.3 L582.5 220.1 L584.5 219.9 L586.5 219.7 L588.5 219.4 L589.7 219.3 L590.5 219.9 L592.5 221.4 L594.5 222.9 L596.5 224.4 L598.5 226.0 L598.9 226.3 L600.5 226.2 L602.5 226.2 L603.6 226.2 L604.5 223.5 L606.5 217.4 L608.5 211.2 L609.3 208.8 L610.5 209.0 L612.5 209.4 L614.5 209.8 L615.1 210.0 L616.5 210.5 L618.5 211.2 L620.5 212.0 L622.5 212.7 L624.4 213.4 L624.5 213.4 L626.5 213.9 L628.5 214.4 L630.5 214.9 L632.5 215.4 L633.6 215.6 L634.5 215.2 L636.5 214.2 L638.5 213.1 L640.5 211.8 L642.5 209.6 L642.9 209.2 L644.5 206.1 L646.5 202.5 L648.5 199.0 L649.8 196.8 L650.5 196.0 L652.5 195.1 L654.5 194.2 L656.5 193.3 L656.8 193.1 L658.5 194.9 L660.5 196.2 L662.5 197.5 L663.7 198.2 L664.5 199.4 L666.5 203.7 L668.5 208.0 L670.5 212.3 L672.5 216.6 L673.0 217.6 L674.5 218.8 L676.5 220.4 L678.5 222.1 L680.5 223.6 L682.5 224.7 L684.5 225.8 L686.5 225.9 L688.5 225.9 L690.5 226.0 L692.5 225.8 L694.5 225.7 L696.5 225.6 L698.4 225.5 L698.5 225.4 L700.5 224.8 L702.5 224.2 L704.5 223.5 L706.5 222.9 L708.5 222.3 L710.5 221.7 L712.3 221.1 L712.5 220.9 L714.5 218.7 L716.5 216.5 L718.5 214.3 L720.5 212.1 L721.5 211.0 L721.5 221.0 L720.5 222.1 L718.5 224.3 L716.5 226.5 L714.5 228.7 L712.5 230.9 L712.3 231.1 L710.5 231.7 L708.5 232.3 L706.5 232.9 L704.5 233.5 L702.5 234.2 L700.5 234.8 L698.5 235.4 L698.4 235.5 L696.5 235.6 L694.5 235.7 L692.5 235.8 L690.5 236.0 L688.5 236.2 L686.5 236.6 L684.5 236.9 L682.5 236.2 L680.5 235.5 L678.5 235.2 L676.5 235.1 L674.5 234.9 L673.0 234.8 L672.5 234.2 L670.5 231.8 L668.5 229.5 L666.5 227.2 L664.5 224.9 L663.7 224.4 L662.5 224.3 L660.5 224.2 L658.5 224.1 L656.8 223.0 L656.5 223.0 L654.5 222.8 L652.5 222.5 L650.5 222.3 L649.8 222.4 L648.5 222.0 L646.5 221.5 L644.5 221.1 L642.9 221.0 L642.5 220.6 L640.5 218.8 L638.5 219.1 L636.5 220.1 L634.5 221.1 L633.6 221.6 L632.5 221.3 L630.5 220.8 L628.5 220.3 L626.5 219.7 L624.5 219.2 L624.4 219.2 L622.5 218.5 L620.5 217.7 L618.5 216.9 L616.5 216.2 L615.1 215.6 L614.5 215.5 L612.5 215.1 L610.5 214.7 L609.3 214.4 L608.5 216.8 L606.5 222.9 L604.5 229.0 L603.6 231.8 L602.5 231.8 L600.5 231.8 L598.9 231.7 L598.5 231.4 L596.5 229.9 L594.5 228.4 L592.5 226.8 L590.5 225.3 L589.7 224.7 L588.5 224.8 L586.5 225.0 L584.5 225.2 L582.5 225.4 L580.5 225.6 L578.5 225.8 L578.1 225.8 L576.5 225.9 L574.5 226.1 L572.5 226.2 L570.5 226.4 L568.5 226.5 L566.5 226.7 L564.5 226.8 L564.3 226.8 L562.5 228.2 L560.5 229.6Z" fill="#20d8d8" fill-opacity="0.6"/>
<path d="M66.5 211.0 L68.5 211.7 L70.5 212.3 L72.5 213.0 L74.5 213.6 L76.5 214.3 L78.5 214.9 L80.5 215.6 L82.5 216.2 L84.5 216.9 L86.5 217.5 L88.5 218.2 L90.5 218.8 L92.5 219.5 L94.5 220.1 L96.5 220.8 L98.5 221.4 L100.0 221.9 L100.5 222.0 L102.5 222.5 L104.5 223.0 L106.5 223.5 L108.5 224.1 L110.5 224.6 L112.5 225.1 L114.5 225.6 L116.5 226.1 L118.5 226.6 L120.5 227.1 L122.5 227.6 L124.5 228.1 L126.5 228.6 L128.5 229.1 L130.5 229.6 L132.5 230.1 L134.0 230.5 L134.5 230.6 L136.5 231.1 L138.5 231.6 L140.5 232.2 L142.5 232.7 L144.5 233.2 L146.5 233.7 L148.5 234.2 L150.5 234.7 L152.5 235.2 L154.5 235.7 L156.5 236.2 L158.5 236.7 L160.0 237.1 L160.5 237.2 L162.5 237.7 L164.5 238.2 L166.5 238.8 L168.5 239.3 L170.5 239.8 L172.5 240.3 L174.5 240.9 L176.5 241.4 L178.5 242.0 L180.4 242.5 L180.5 242.5 L182.5 242.4 L183.3 242.3 L184.5 239.3 L184.9 238.2 L186.5 243.1 L188.0 247.2 L188.5 247.5 L190.5 248.4 L192.5 249.3 L194.5 250.3 L196.5 251.2 L198.5 252.1 L200.5 253.1 L200.8 253.2 L202.5 253.4 L204.5 253.6 L206.5 253.8 L208.5 254.0 L210.5 254.2 L212.5 254.4 L214.5 254.6 L216.5 254.8 L217.1 254.8 L218.5 254.7 L220.5 254.6 L222.5 254.5 L224.5 254.4 L226.5 254.2 L228.0 254.1 L228.5 253.3 L230.3 250.3 L230.5 249.5 L231.4 246.2 L232.5 250.7 L232.6 251.1 L234.0 256.4 L234.5 256.6 L236.5 257.1 L238.5 257.6 L240.5 258.1 L242.5 258.6 L244.5 259.1 L246.5 259.6 L247.0 259.7 L248.5 260.6 L250.5 261.8 L252.5 263.1 L254.5 264.4 L255.2 264.9 L256.5 264.3 L258.5 263.3 L260.0 262.6 L260.5 262.0 L262.5 259.3 L264.5 256.5 L266.3 254.1 L266.5 254.2 L268.5 255.5 L270.5 256.8 L272.5 258.0 L274.5 259.3 L276.5 261.0 L278.5 262.7 L280.5 264.4 L282.5 266.1 L284.5 267.8 L285.4 268.5 L286.5 268.2 L288.5 267.6 L290.5 267.1 L290.8 267.0 L292.5 263.4 L294.5 259.3 L296.5 255.1 L297.6 252.8 L298.5 253.0 L300.5 253.3 L302.5 253.6 L303.0 253.7 L304.5 255.3 L306.5 257.4 L308.5 259.6 L309.9 261.1 L310.5 261.4 L312.5 262.5 L314.5 263.6 L316.5 264.7 L318.5 265.8 L319.4 266.3 L320.5 265.4 L322.5 263.9 L324.5 262.4 L324.8 262.1 L326.5 251.9 L328.5 239.9 L328.9 237.5 L330.5 235.7 L332.5 233.4 L334.4 231.2 L334.5 231.1 L336.5 230.0 L338.5 228.8 L339.9 228.0 L340.5 228.6 L342.5 230.5 L344.5 232.3 L346.5 234.2 L348.5 237.6 L350.5 241.0 L352.5 244.5 L354.5 247.9 L356.4 251.1 L356.5 251.2 L358.5 252.3 L360.5 253.4 L361.9 254.2 L362.5 253.6 L364.5 251.7 L366.5 249.8 L368.5 247.8 L370.0 246.4 L370.5 245.5 L372.5 241.8 L374.5 238.2 L376.5 234.5 L378.2 231.4 L378.5 231.1 L380.5 229.5 L382.5 227.8 L384.5 226.1 L386.3 224.6 L386.5 224.8 L388.5 226.8 L390.5 228.8 L391.1 229.4 L392.5 227.5 L394.5 224.8 L395.2 223.9 L396.5 226.0 L398.5 229.2 L398.6 229.4 L400.5 226.0 L401.3 224.6 L402.5 226.3 L404.5 229.2 L406.5 232.0 L408.1 234.3 L408.5 234.6 L410.5 235.8 L412.5 237.1 L414.5 238.3 L414.9 238.6 L416.5 238.2 L418.5 237.6 L420.5 237.1 L422.5 236.6 L424.4 236.1 L424.5 236.1 L426.5 234.9 L428.5 233.7 L430.5 232.6 L431.2 232.2 L432.5 230.1 L434.5 227.0 L436.5 223.8 L438.0 221.4 L438.5 220.7 L440.5 217.9 L442.1 215.9 L442.5 216.3 L444.5 218.1 L446.2 219.6 L446.5 218.2 L448.5 208.7 L449.6 203.5 L450.5 201.2 L452.3 196.6 L452.5 196.8 L454.5 198.6 L456.5 200.5 L457.1 201.0 L458.5 200.9 L460.5 200.7 L462.5 203.5 L464.5 206.2 L465.2 207.2 L466.5 209.3 L468.5 212.6 L470.0 215.0 L470.5 215.9 L472.5 219.3 L474.5 222.6 L476.3 225.7 L476.5 225.9 L478.5 228.1 L480.5 230.4 L482.5 232.6 L484.5 234.9 L486.5 235.9 L488.5 237.0 L490.5 238.0 L492.5 239.1 L492.7 239.2 L494.5 240.3 L496.5 241.5 L498.5 242.7 L500.5 243.9 L502.4 245.1 L502.5 245.1 L504.5 246.3 L506.5 247.5 L508.5 248.7 L510.5 249.9 L512.2 250.9 L512.5 250.9 L514.5 251.0 L516.5 251.1 L518.5 251.2 L518.8 251.2 L520.5 249.8 L522.5 248.9 L524.5 247.9 L525.3 247.5 L526.5 241.5 L528.5 231.3 L528.6 230.8 L530.5 206.6 L531.8 190.5 L532.5 185.5 L534.5 171.4 L535.1 167.2 L536.5 167.3 L537.6 166.7 L538.5 169.0 L540.5 174.0 L541.6 176.8 L542.5 180.5 L544.5 188.8 L546.5 197.2 L548.5 206.1 L550.5 214.9 L551.4 218.8 L552.5 220.6 L554.5 223.9 L556.5 227.1 L558.0 229.5 L558.5 229.0 L560.5 227.1 L562.5 225.6 L564.3 224.3 L564.5 224.3 L566.5 224.1 L568.5 224.0 L570.5 223.8 L572.5 223.6 L574.5 223.5 L576.5 223.3 L578.1 223.2 L578.5 223.2 L580.5 223.0 L582.5 222.7 L584.5 222.5 L586.5 222.3 L588.5 222.1 L589.7 222.0 L590.5 222.6 L592.5 224.1 L594.5 225.7 L596.5 227.2 L598.5 228.7 L598.9 229.0 L600.5 229.0 L602.5 229.0 L603.6 229.0 L604.5 226.3 L606.5 220.1 L608.5 214.0 L609.3 211.6 L610.5 211.8 L612.5 212.3 L614.5 212.7 L615.1 212.8 L616.5 213.3 L618.5 214.1 L620.5 214.8 L622.5 215.6 L624.4 216.3 L624.5 216.3 L626.5 216.8 L628.5 217.3 L630.5 217.8 L632.5 218.3 L633.6 218.6 L634.5 218.1 L636.5 217.1 L638.5 216.1 L640.5 215.4 L642.5 215.5 L642.9 215.6 L644.5 214.4 L646.5 215.5 L648.5 218.0 L649.8 219.7 L650.5 219.9 L652.5 220.4 L654.5 220.9 L656.5 221.4 L656.8 221.5 L658.5 223.0 L660.5 224.8 L662.5 226.6 L663.7 227.7 L664.5 227.6 L666.5 227.2 L668.5 226.8 L670.5 226.4 L672.5 228.8 L673.0 229.4 L674.5 229.1 L676.5 228.6 L678.5 228.1 L680.5 228.0 L682.5 228.9 L684.5 229.9 L686.5 229.8 L688.5 229.8 L690.5 229.7 L692.5 229.7 L694.5 229.7 L696.5 229.6 L698.4 229.6 L698.5 229.5 L700.5 229.0 L702.5 228.4 L704.5 227.9 L706.5 227.3 L708.5 226.8 L710.5 226.2 L712.3 225.7 L712.5 225.5 L714.5 223.4 L716.5 221.3 L718.5 219.2 L720.5 217.1 L721.5 216.0" fill="none" stroke="#8a3aa8" stroke-width="1.3"/>
<path d="M66.5 196.3 L68.5 197.0 L70.5 197.8 L72.5 198.5 L74.5 199.2 L76.5 200.0 L78.5 200.7 L80.5 201.4 L82.5 202.2 L84.5 202.9 L86.5 203.6 L88.5 204.4 L90.5 205.1 L92.5 205.8 L94.5 206.6 L96.5 207.3 L98.5 208.0 L100.0 208.6 L100.5 208.8 L102.5 209.5 L104.5 210.2 L106.5 211.0 L108.5 211.7 L110.5 212.4 L112.5 213.2 L114.5 213.9 L116.5 214.6 L118.5 215.3 L120.5 216.1 L122.5 216.8 L124.5 217.5 L126.5 218.3 L128.5 219.0 L130.5 219.7 L132.5 220.5 L134.0 221.0 L134.5 221.2 L136.5 222.0 L138.5 222.8 L140.5 223.6 L142.5 224.4 L144.5 225.2 L146.5 226.0 L148.5 226.8 L150.5 227.6 L152.5 228.4 L154.5 229.2 L156.5 230.0 L158.5 230.8 L160.0 231.4 L160.5 231.6 L162.5 232.4 L164.5 233.2 L166.5 233.9 L168.5 234.7 L170.5 235.5 L172.5 236.2 L174.5 236.9 L176.5 237.6 L178.5 238.3 L180.4 238.6 L180.5 238.5 L182.5 236.5 L183.3 235.5 L184.5 230.6 L184.9 229.0 L186.5 237.0 L188.0 242.9 L188.5 243.5 L190.5 245.5 L192.5 246.5 L194.5 247.5 L196.5 248.5 L198.5 249.5 L200.5 250.5 L200.8 250.7 L202.5 250.9 L204.5 251.2 L206.5 251.5 L208.5 251.7 L210.5 252.0 L212.5 252.3 L214.5 252.6 L216.5 252.8 L217.1 252.9 L218.5 252.9 L220.5 252.8 L222.5 252.8 L224.5 252.7 L226.5 250.1 L228.0 247.4 L228.5 245.8 L230.3 233.9 L230.5 231.9 L231.4 223.0 L232.5 236.5 L232.6 237.7 L234.0 251.1 L234.5 252.0 L236.5 255.5 L238.5 256.8 L240.5 257.4 L242.5 258.1 L244.5 258.7 L246.5 259.3 L247.0 259.5 L248.5 260.5 L250.5 261.8 L252.5 263.2 L254.5 264.5 L255.2 265.0 L256.5 264.4 L258.5 263.6 L260.0 262.9 L260.5 262.2 L262.5 259.5 L264.5 256.8 L266.3 254.3 L266.5 254.5 L268.5 255.7 L270.5 257.0 L272.5 258.3 L274.5 259.5 L276.5 261.2 L278.5 262.9 L280.5 264.6 L282.5 266.3 L284.5 268.0 L285.4 268.8 L286.5 268.5 L288.5 267.9 L290.5 267.3 L290.8 267.2 L292.5 263.7 L294.5 259.5 L296.5 255.4 L297.6 253.1 L298.5 253.2 L300.5 253.6 L302.5 254.0 L303.0 254.2 L304.5 255.9 L306.5 258.2 L308.5 260.5 L309.9 262.1 L310.5 262.5 L312.5 263.7 L314.5 264.9 L316.5 266.2 L318.5 267.4 L319.4 268.0 L320.5 267.2 L322.5 265.8 L324.5 264.4 L324.8 264.2 L326.5 254.2 L328.5 242.3 L328.9 239.9 L330.5 238.3 L332.5 236.2 L334.4 234.2 L334.5 234.2 L336.5 233.3 L338.5 232.3 L339.9 231.7 L340.5 232.3 L342.5 234.4 L344.5 236.5 L346.5 238.6 L348.5 242.3 L350.5 245.9 L352.5 249.6 L354.5 253.2 L356.4 256.7 L356.5 256.8 L358.5 258.1 L360.5 259.4 L361.9 260.2 L362.5 259.7 L364.5 257.8 L366.5 255.9 L368.5 254.1 L370.0 252.7 L370.5 251.7 L372.5 248.1 L374.5 244.5 L376.5 240.9 L378.2 237.9 L378.5 237.6 L380.5 236.0 L382.5 234.4 L384.5 232.7 L386.3 231.3 L386.5 231.5 L388.5 233.5 L390.5 235.6 L391.1 236.2 L392.5 234.3 L394.5 231.7 L395.2 230.8 L396.5 232.9 L398.5 236.2 L398.6 236.4 L400.5 233.0 L401.3 231.6 L402.5 233.3 L404.5 236.2 L406.5 239.0 L408.1 241.3 L408.5 241.6 L410.5 242.8 L412.5 244.1 L414.5 245.3 L414.9 245.6 L416.5 245.2 L418.5 244.6 L420.5 244.1 L422.5 243.6 L424.4 243.1 L424.5 243.1 L426.5 241.9 L428.5 240.7 L430.5 239.6 L431.2 239.2 L432.5 237.1 L434.5 234.0 L436.5 230.8 L438.0 228.4 L438.5 227.7 L440.5 224.9 L442.1 222.8 L442.5 223.1 L444.5 224.7 L446.2 226.1 L446.5 224.7 L448.5 215.0 L449.6 209.7 L450.5 207.4 L452.3 202.6 L452.5 202.7 L454.5 204.4 L456.5 206.1 L457.1 206.6 L458.5 206.4 L460.5 206.1 L462.5 208.7 L464.5 211.3 L465.2 212.2 L466.5 214.1 L468.5 217.1 L470.0 219.4 L470.5 220.2 L472.5 223.3 L474.5 226.4 L476.3 229.2 L476.5 229.4 L478.5 231.4 L480.5 233.5 L482.5 235.9 L484.5 238.3 L486.5 239.5 L488.5 240.7 L490.5 241.9 L492.5 243.1 L492.7 243.2 L494.5 244.4 L496.5 245.8 L498.5 247.1 L500.5 248.5 L502.4 249.8 L502.5 249.9 L504.5 251.2 L506.5 252.5 L508.5 253.8 L510.5 255.2 L512.2 256.3 L512.5 256.3 L514.5 256.6 L516.5 256.8 L518.5 257.1 L518.8 257.1 L520.5 256.0 L522.5 255.7 L524.5 255.5 L525.3 255.4 L526.5 249.7 L528.5 240.2 L528.6 239.7 L530.5 215.5 L531.8 198.9 L532.5 193.7 L534.5 178.9 L535.1 174.5 L536.5 174.2 L537.6 173.5 L538.5 175.6 L540.5 180.3 L541.6 182.8 L542.5 186.4 L544.5 194.4 L546.5 202.4 L548.5 211.0 L550.5 219.7 L551.4 223.6 L552.5 225.3 L554.5 228.3 L556.5 231.4 L558.0 233.7 L558.5 233.1 L560.5 231.1 L562.5 229.5 L564.3 228.1 L564.5 228.1 L566.5 227.8 L568.5 227.5 L570.5 227.3 L572.5 227.0 L574.5 226.8 L576.5 226.5 L578.1 226.3 L578.5 226.2 L580.5 225.9 L582.5 225.6 L584.5 225.3 L586.5 225.0 L588.5 224.7 L589.7 224.5 L590.5 225.1 L592.5 226.5 L594.5 227.9 L596.5 229.3 L598.5 230.8 L598.9 231.1 L600.5 231.0 L602.5 230.9 L603.6 230.8 L604.5 228.0 L606.5 221.8 L608.5 215.6 L609.3 213.1 L610.5 213.3 L612.5 213.6 L614.5 214.0 L615.1 214.0 L616.5 214.5 L618.5 215.2 L620.5 215.8 L622.5 216.5 L624.4 217.1 L624.5 217.1 L626.5 217.5 L628.5 217.9 L630.5 218.3 L632.5 218.7 L633.6 218.9 L634.5 218.4 L636.5 217.3 L638.5 216.2 L640.5 215.0 L642.5 213.5 L642.9 213.2 L644.5 210.6 L646.5 207.5 L648.5 204.3 L649.8 202.2 L650.5 200.5 L652.5 195.3 L654.5 190.2 L656.5 185.4 L656.8 184.9 L658.5 189.7 L660.5 195.4 L662.5 201.1 L663.7 204.6 L664.5 206.5 L666.5 211.5 L668.5 216.5 L670.5 221.3 L672.5 225.6 L673.0 226.6 L674.5 227.6 L676.5 228.9 L678.5 230.2 L680.5 231.6 L682.5 232.9 L684.5 234.2 L686.5 234.5 L688.5 234.8 L690.5 235.0 L692.5 234.8 L694.5 234.7 L696.5 234.6 L698.4 234.5 L698.5 234.4 L700.5 233.8 L702.5 233.2 L704.5 232.5 L706.5 231.9 L708.5 231.3 L710.5 230.7 L712.3 230.1 L712.5 229.9 L714.5 227.7 L716.5 225.5 L718.5 223.3 L720.5 221.1 L721.5 220.0" fill="none" stroke="#ff7f0e" stroke-width="1.3"/>
<path d="M66.5 198.0 L68.5 198.7 L70.5 199.4 L72.5 200.1 L74.5 200.7 L76.5 201.4 L78.5 202.1 L80.5 202.8 L82.5 203.5 L84.5 204.2 L86.5 204.9 L88.5 205.6 L90.5 206.2 L92.5 206.9 L94.5 207.6 L96.5 208.3 L98.5 209.0 L100.0 209.5 L100.5 209.7 L102.5 210.3 L104.5 211.0 L106.5 211.7 L108.5 212.4 L110.5 213.1 L112.5 213.7 L114.5 214.4 L116.5 215.1 L118.5 215.8 L120.5 216.4 L122.5 217.1 L124.5 217.8 L126.5 218.5 L128.5 219.1 L130.5 219.8 L132.5 220.5 L134.0 221.0 L134.5 221.2 L136.5 221.9 L138.5 222.6 L140.5 223.2 L142.5 223.9 L144.5 224.6 L146.5 225.3 L148.5 226.0 L150.5 226.7 L152.5 227.4 L154.5 228.1 L156.5 228.8 L158.5 229.5 L160.0 230.0 L160.5 230.2 L162.5 230.9 L164.5 231.5 L166.5 232.2 L168.5 232.9 L170.5 233.6 L172.5 234.3 L174.5 235.0 L176.5 235.7 L178.5 236.3 L180.4 237.0 L180.5 237.0 L182.5 237.0 L183.3 237.0 L184.5 234.0 L184.9 233.0 L186.5 238.0 L188.0 242.2 L188.5 242.5 L190.5 243.5 L192.5 244.6 L194.5 245.7 L196.5 246.7 L198.5 247.8 L200.5 248.8 L200.8 249.0 L202.5 249.3 L204.5 249.6 L206.5 249.9 L208.5 250.3 L210.5 250.6 L212.5 250.9 L214.5 251.3 L216.5 251.6 L217.1 251.7 L218.5 251.7 L220.5 251.7 L222.5 251.7 L224.5 251.7 L226.5 251.7 L228.0 251.7 L228.5 250.9 L230.3 248.0 L230.5 247.3 L231.4 244.0 L232.5 248.6 L232.6 249.0 L234.0 254.4 L234.5 254.6 L236.5 255.2 L238.5 255.8 L240.5 256.4 L242.5 257.1 L244.5 257.7 L246.5 258.3 L247.0 258.5 L248.5 259.5 L250.5 260.8 L252.5 262.2 L254.5 263.5 L255.2 264.0 L256.5 263.4 L258.5 262.6 L260.0 261.9 L260.5 261.2 L262.5 258.6 L264.5 255.9 L266.3 253.5 L266.5 253.6 L268.5 254.9 L270.5 256.3 L272.5 257.6 L274.5 258.9 L276.5 260.6 L278.5 262.4 L280.5 264.1 L282.5 265.9 L284.5 267.6 L285.4 268.4 L286.5 268.1 L288.5 267.6 L290.5 267.1 L290.8 267.0 L292.5 263.5 L294.5 259.4 L296.5 255.3 L297.6 253.0 L298.5 253.2 L300.5 253.5 L302.5 253.9 L303.0 254.0 L304.5 255.7 L306.5 257.9 L308.5 260.1 L309.9 261.6 L310.5 261.9 L312.5 263.1 L314.5 264.2 L316.5 265.4 L318.5 266.5 L319.4 267.0 L320.5 266.2 L322.5 264.7 L324.5 263.2 L324.8 263.0 L326.5 252.8 L328.5 240.9 L328.9 238.5 L330.5 236.8 L332.5 234.6 L334.4 232.5 L334.5 232.4 L336.5 231.4 L338.5 230.4 L339.9 229.7 L340.5 230.3 L342.5 232.3 L344.5 234.3 L346.5 236.3 L348.5 239.9 L350.5 243.4 L352.5 247.0 L354.5 250.5 L356.4 253.9 L356.5 254.0 L358.5 255.2 L360.5 256.4 L361.9 257.2 L362.5 256.6 L364.5 254.7 L366.5 252.8 L368.5 250.8 L370.0 249.4 L370.5 248.5 L372.5 244.8 L374.5 241.2 L376.5 237.5 L378.2 234.4 L378.5 234.1 L380.5 232.5 L382.5 230.8 L384.5 229.1 L386.3 227.6 L386.5 227.8 L388.5 229.8 L390.5 231.8 L391.1 232.4 L392.5 230.5 L394.5 227.8 L395.2 226.9 L396.5 229.0 L398.5 232.2 L398.6 232.4 L400.5 229.0 L401.3 227.6 L402.5 229.3 L404.5 232.1 L406.5 234.9 L408.1 237.1 L408.5 237.3 L410.5 238.5 L412.5 239.8 L414.5 241.0 L414.9 241.2 L416.5 240.7 L418.5 240.2 L420.5 239.6 L422.5 239.0 L424.4 238.5 L424.5 238.4 L426.5 237.2 L428.5 236.0 L430.5 234.8 L431.2 234.4 L432.5 232.3 L434.5 229.1 L436.5 225.9 L438.0 223.5 L438.5 222.8 L440.5 219.8 L442.1 217.4 L442.5 217.7 L444.5 219.0 L446.2 220.1 L446.5 218.6 L448.5 208.6 L449.6 203.1 L450.5 200.6 L452.3 195.6 L452.5 195.8 L454.5 197.8 L456.5 199.8 L457.1 200.4 L458.5 200.4 L460.5 200.4 L462.5 203.3 L464.5 206.2 L465.2 207.2 L466.5 209.4 L468.5 212.8 L470.0 215.4 L470.5 216.3 L472.5 219.8 L474.5 223.3 L476.3 226.5 L476.5 226.7 L478.5 229.1 L480.5 231.5 L482.5 233.9 L484.5 236.3 L486.5 237.5 L488.5 238.7 L490.5 239.9 L492.5 241.1 L492.7 241.2 L494.5 242.4 L496.5 243.8 L498.5 245.1 L500.5 246.5 L502.4 247.8 L502.5 247.9 L504.5 249.2 L506.5 250.5 L508.5 251.8 L510.5 253.2 L512.2 254.3 L512.5 254.3 L514.5 254.6 L516.5 254.8 L518.5 255.1 L518.8 255.1 L520.5 253.6 L522.5 251.9 L524.5 250.1 L525.3 249.4 L526.5 242.9 L528.5 231.9 L528.6 231.4 L530.5 206.2 L531.8 189.0 L532.5 183.5 L534.5 167.6 L535.1 162.9 L536.5 162.4 L537.6 162.0 L538.5 164.4 L540.5 169.8 L541.6 172.7 L542.5 176.6 L544.5 185.2 L546.5 193.9 L548.5 203.2 L550.5 212.5 L551.4 216.7 L552.5 218.8 L554.5 222.5 L556.5 226.2 L558.0 229.0 L558.5 228.6 L560.5 227.1 L562.5 225.6 L564.3 224.3 L564.5 224.3 L566.5 224.1 L568.5 224.0 L570.5 223.8 L572.5 223.6 L574.5 223.5 L576.5 223.3 L578.1 223.2 L578.5 223.2 L580.5 223.0 L582.5 222.7 L584.5 222.5 L586.5 222.3 L588.5 222.1 L589.7 222.0 L590.5 222.6 L592.5 224.1 L594.5 225.7 L596.5 227.2 L598.5 228.7 L598.9 229.0 L600.5 229.0 L602.5 229.0 L603.6 229.0 L604.5 226.3 L606.5 220.1 L608.5 214.0 L609.3 211.6 L610.5 211.8 L612.5 212.3 L614.5 212.7 L615.1 212.8 L616.5 213.3 L618.5 214.1 L620.5 214.8 L622.5 215.6 L624.4 216.3 L624.5 216.3 L626.5 216.8 L628.5 217.3 L630.5 217.8 L632.5 218.3 L633.6 218.6 L634.5 218.1 L636.5 217.1 L638.5 216.1 L640.5 215.1 L642.5 214.1 L642.9 213.9 L644.5 211.8 L646.5 209.1 L648.5 206.4 L649.8 204.7 L650.5 203.1 L652.5 198.5 L654.5 193.8 L656.5 189.2 L656.8 188.5 L658.5 192.5 L660.5 197.2 L662.5 201.9 L663.7 204.7 L664.5 206.3 L666.5 210.3 L668.5 214.2 L670.5 218.2 L672.5 222.2 L673.0 223.2 L674.5 224.0 L676.5 225.0 L678.5 226.0 L680.5 227.0 L682.5 228.0 L684.5 229.0 L686.5 229.0 L688.5 229.0 L690.5 229.0 L692.5 229.0 L694.5 229.0 L696.5 229.0 L698.4 229.0 L698.5 229.0 L700.5 228.5 L702.5 228.0 L704.5 227.5 L706.5 227.0 L708.5 226.5 L710.5 226.0 L712.3 225.5 L712.5 225.3 L714.5 223.2 L716.5 221.2 L718.5 219.1 L720.5 217.0 L721.5 216.0" fill="none" stroke="#2a6ab8" stroke-width="1.3"/>
<path d="M560.5 227.1 L562.5 225.6 L564.3 224.3 L564.5 224.3 L566.5 224.1 L568.5 224.0 L570.5 223.8 L572.5 223.6 L574.5 223.5 L576.5 223.3 L578.1 223.2 L578.5 223.2 L580.5 223.0 L582.5 222.7 L584.5 222.5 L586.5 222.3 L588.5 222.1 L589.7 222.0 L590.5 222.6 L592.5 224.1 L594.5 225.7 L596.5 227.2 L598.5 228.7 L598.9 229.0 L600.5 229.0 L602.5 229.0 L603.6 229.0 L604.5 226.3 L606.5 220.1 L608.5 214.0 L609.3 211.6 L610.5 211.8 L612.5 212.3 L614.5 212.7 L615.1 212.8 L616.5 213.3 L618.5 214.1 L620.5 214.8 L622.5 215.6 L624.4 216.3 L624.5 216.3 L626.5 216.8 L628.5 217.3 L630.5 217.8 L632.5 218.3 L633.6 218.6 L634.5 218.1 L636.5 217.1 L638.5 216.1 L640.5 215.3 L642.5 215.1 L642.9 215.1 L644.5 213.6 L646.5 212.0 L648.5 210.5 L649.8 209.6 L650.5 209.2 L652.5 208.8 L654.5 208.5 L656.5 208.1 L656.8 208.1 L658.5 209.5 L660.5 210.2 L662.5 210.9 L663.7 211.3 L664.5 212.1 L666.5 215.4 L668.5 218.7 L670.5 222.1 L672.5 225.4 L673.0 226.2 L674.5 226.9 L676.5 227.8 L678.5 228.7 L680.5 229.5 L682.5 230.4 L684.5 231.3 L686.5 231.2 L688.5 231.1 L690.5 231.0 L692.5 230.8 L694.5 230.7 L696.5 230.6 L698.4 230.5 L698.5 230.4 L700.5 229.8 L702.5 229.2 L704.5 228.5 L706.5 227.9 L708.5 227.3 L710.5 226.7 L712.3 226.1 L712.5 225.9 L714.5 223.7 L716.5 221.5 L718.5 219.3 L720.5 217.1 L721.5 216.0" fill="none" stroke="#18c8d0" stroke-width="1.3"/>
<path d="M88.3 172.7V210.2M85.8 172.7H90.8M85.8 210.2H90.8M66.5 191.2H112.3M66.5 188.7V193.7M112.3 188.7V193.7" stroke="#333" stroke-width="1.2" fill="none"/>
<path d="M128.6 170.0V207.5M126.1 170.0H131.1M126.1 207.5H131.1" stroke="#333" stroke-width="1.2" fill="none"/>
<path d="M119.0 195.8V229.8M116.5 195.8H121.5M116.5 229.8H121.5M112.3 213.0H125.3M112.3 210.5V215.5M125.3 210.5V215.5" stroke="#333" stroke-width="1.2" fill="none"/>
<path d="M134.4 203.9V239.1M131.9 203.9H136.9M131.9 239.1H136.9" stroke="#333" stroke-width="1.2" fill="none"/>
<path d="M142.5 223.3V247.5M140.0 223.3H145.0M140.0 247.5H145.0M137.7 235.4H147.6M137.7 232.9V237.9M147.6 232.9V237.9" stroke="#333" stroke-width="1.2" fill="none"/>
<path d="M149.1 178.6V238.0M146.6 178.6H151.6M146.6 238.0H151.6" stroke="#333" stroke-width="1.2" fill="none"/>
<path d="M150.9 173.1V238.0M148.4 173.1H153.4M148.4 238.0H153.4" stroke="#333" stroke-width="1.2" fill="none"/>
<path d="M153.8 224.8V260.0M151.3 224.8H156.3M151.3 260.0H156.3" stroke="#333" stroke-width="1.2" fill="none"/>
<path d="M157.9 194.4V238.0M155.4 194.4H160.4M155.4 238.0H160.4" stroke="#333" stroke-width="1.2" fill="none"/>
<path d="M162.3 236.9V267.7M159.8 236.9H164.8M159.8 267.7H164.8" stroke="#333" stroke-width="1.2" fill="none"/>
<path d="M167.4 215.6V247.9M164.9 215.6H169.9M164.9 247.9H169.9" stroke="#333" stroke-width="1.2" fill="none"/>
<path d="M171.8 217.8V257.8M169.3 217.8H174.3M169.3 257.8H174.3" stroke="#333" stroke-width="1.2" fill="none"/>
<path d="M172.5 241.3V323.8M170.0 241.3H175.0M170.0 323.8H175.0M166.3 282.5H178.4M166.3 280.0V285.0M178.4 280.0V285.0" stroke="#333" stroke-width="1.2" fill="none"/>
<path d="M174.7 206.1V255.6M172.2 206.1H177.2M172.2 255.6H177.2" stroke="#333" stroke-width="1.2" fill="none"/>
<path d="M177.3 196.6V256.7M174.8 196.6H179.8M174.8 256.7H179.8" stroke="#333" stroke-width="1.2" fill="none"/>
<path d="M182.1 213.8V295.2M179.6 213.8H184.6M179.6 295.2H184.6" stroke="#333" stroke-width="1.2" fill="none"/>
<path d="M185.0 79.0V341.0M182.5 79.0H187.5M182.5 341.0H187.5" stroke="#333" stroke-width="1.2" fill="none"/>
<path d="M191.6 202.4V257.4M189.1 202.4H194.1M189.1 257.4H194.1M186.1 229.9H200.0M186.1 227.4V232.4M200.0 227.4V232.4" stroke="#333" stroke-width="1.2" fill="none"/>
<path d="M202.7 242.3V301.7M200.2 242.3H205.2M200.2 301.7H205.2M198.3 272.0H207.1M198.3 269.5V274.5M207.1 269.5V274.5" stroke="#333" stroke-width="1.2" fill="none"/>
<path d="M212.6 212.2V268.3M210.1 212.2H215.1M210.1 268.3H215.1M209.3 240.5H215.9M209.3 238.0V243.0M215.9 238.0V243.0" stroke="#333" stroke-width="1.2" fill="none"/>
<path d="M224.7 216.6V269.4M222.2 216.6H227.2M222.2 269.4H227.2" stroke="#333" stroke-width="1.2" fill="none"/>
<path d="M231.7 156.5V335.4M229.2 156.5H234.2M229.2 335.4H234.2" stroke="#333" stroke-width="1.2" fill="none"/>
<path d="M237.5 163.1V267.2M235.0 163.1H240.0M235.0 267.2H240.0M232.4 214.8H243.0M232.4 212.3V217.3M243.0 212.3V217.3" stroke="#333" stroke-width="1.2" fill="none"/>
<path d="M243.0 232.4V258.8M240.5 232.4H245.5M240.5 258.8H245.5" stroke="#333" stroke-width="1.2" fill="none"/>
<path d="M247.1 250.0V266.0M244.6 250.0H249.6M244.6 266.0H249.6" stroke="#333" stroke-width="1.2" fill="none"/>
<path d="M249.6 219.6V306.6M247.1 219.6H252.1M247.1 306.6H252.1" stroke="#333" stroke-width="1.2" fill="none"/>
<path d="M251.1 244.5V263.2M248.6 244.5H253.6M248.6 263.2H253.6" stroke="#333" stroke-width="1.2" fill="none"/>
<path d="M254.8 259.9V276.4M252.3 259.9H257.3M252.3 276.4H257.3" stroke="#333" stroke-width="1.2" fill="none"/>
<path d="M259.2 256.0V271.0M256.7 256.0H261.7M256.7 271.0H261.7" stroke="#333" stroke-width="1.2" fill="none"/>
<path d="M261.0 243.4V334.1M258.5 243.4H263.5M258.5 334.1H263.5M255.5 288.7H266.5M255.5 286.2V291.2M266.5 286.2V291.2" stroke="#333" stroke-width="1.2" fill="none"/>
<path d="M264.9 266.0V275.4M262.4 266.0H267.4M262.4 275.4H267.4" stroke="#333" stroke-width="1.2" fill="none"/>
<path d="M270.1 252.8V263.8M267.6 252.8H272.6M267.6 263.8H272.6" stroke="#333" stroke-width="1.2" fill="none"/>
<path d="M273.8 248.4V261.6M271.3 248.4H276.3M271.3 261.6H276.3" stroke="#333" stroke-width="1.2" fill="none"/>
<path d="M275.4 210.7V322.0M272.9 210.7H277.9M272.9 322.0H277.9" stroke="#333" stroke-width="1.2" fill="none"/>
<path d="M279.8 257.8V269.3M277.3 257.8H282.3M277.3 269.3H282.3" stroke="#333" stroke-width="1.2" fill="none"/>
<path d="M283.7 261.6V273.7M281.2 261.6H286.2M281.2 273.7H286.2" stroke="#333" stroke-width="1.2" fill="none"/>
<path d="M287.0 274.8V287.5M284.5 274.8H289.5M284.5 287.5H289.5" stroke="#333" stroke-width="1.2" fill="none"/>
<path d="M289.9 256.1V268.8M287.4 256.1H292.4M287.4 268.8H292.4" stroke="#333" stroke-width="1.2" fill="none"/>
<path d="M293.0 240.5V254.1M290.5 240.5H295.5M290.5 254.1H295.5" stroke="#333" stroke-width="1.2" fill="none"/>
<path d="M295.8 239.1V251.7M293.3 239.1H298.3M293.3 251.7H298.3" stroke="#333" stroke-width="1.2" fill="none"/>
<path d="M300.7 231.7V246.0M298.2 231.7H303.2M298.2 246.0H303.2" stroke="#333" stroke-width="1.2" fill="none"/>
<path d="M303.8 241.8V255.0M301.3 241.8H306.3M301.3 255.0H306.3" stroke="#333" stroke-width="1.2" fill="none"/>
<path d="M306.8 253.9V268.2M304.3 253.9H309.3M304.3 268.2H309.3" stroke="#333" stroke-width="1.2" fill="none"/>
<path d="M309.3 256.1V271.5M306.8 256.1H311.8M306.8 271.5H311.8" stroke="#333" stroke-width="1.2" fill="none"/>
<path d="M312.6 252.6V264.9M310.1 252.6H315.1M310.1 264.9H315.1" stroke="#333" stroke-width="1.2" fill="none"/>
<path d="M315.6 255.6V269.3M313.1 255.6H318.1M313.1 269.3H318.1" stroke="#333" stroke-width="1.2" fill="none"/>
<path d="M317.8 268.8V283.6M315.3 268.8H320.3M315.3 283.6H320.3" stroke="#333" stroke-width="1.2" fill="none"/>
<path d="M322.2 260.5V270.4M319.7 260.5H324.7M319.7 270.4H324.7" stroke="#333" stroke-width="1.2" fill="none"/>
<path d="M326.0 245.7V261.0M323.5 245.7H328.5M323.5 261.0H328.5" stroke="#333" stroke-width="1.2" fill="none"/>
<path d="M328.2 246.0V261.0M325.7 246.0H330.7M325.7 261.0H330.7" stroke="#333" stroke-width="1.2" fill="none"/>
<path d="M331.0 228.4V243.5M328.5 228.4H333.5M328.5 243.5H333.5" stroke="#333" stroke-width="1.2" fill="none"/>
<path d="M333.5 234.1V248.4M331.0 234.1H336.0M331.0 248.4H336.0" stroke="#333" stroke-width="1.2" fill="none"/>
<path d="M336.1 226.4V241.8M333.6 226.4H338.6M333.6 241.8H338.6" stroke="#333" stroke-width="1.2" fill="none"/>
<path d="M338.6 224.2V239.6M336.1 224.2H341.1M336.1 239.6H341.1" stroke="#333" stroke-width="1.2" fill="none"/>
<path d="M340.8 229.0V244.0M338.3 229.0H343.3M338.3 244.0H343.3" stroke="#333" stroke-width="1.2" fill="none"/>
<path d="M343.4 230.8V246.0M340.9 230.8H345.9M340.9 246.0H345.9" stroke="#333" stroke-width="1.2" fill="none"/>
<path d="M345.4 215.4V231.9M342.9 215.4H347.9M342.9 231.9H347.9" stroke="#333" stroke-width="1.2" fill="none"/>
<path d="M347.6 220.4V237.4M345.1 220.4H350.1M345.1 237.4H350.1" stroke="#333" stroke-width="1.2" fill="none"/>
<path d="M350.4 231.9V247.3M347.9 231.9H352.9M347.9 247.3H352.9" stroke="#333" stroke-width="1.2" fill="none"/>
<path d="M352.6 238.5V255.0M350.1 238.5H355.1M350.1 255.0H355.1" stroke="#333" stroke-width="1.2" fill="none"/>
<path d="M354.8 242.4V259.4M352.3 242.4H357.3M352.3 259.4H357.3" stroke="#333" stroke-width="1.2" fill="none"/>
<path d="M356.6 266.0V283.1M354.1 266.0H359.1M354.1 283.1H359.1" stroke="#333" stroke-width="1.2" fill="none"/>
<path d="M358.6 260.0V275.9M356.1 260.0H361.1M356.1 275.9H361.1" stroke="#333" stroke-width="1.2" fill="none"/>
<path d="M361.0 256.7V275.9M358.5 256.7H363.5M358.5 275.9H363.5" stroke="#333" stroke-width="1.2" fill="none"/>
<path d="M363.0 276.5V296.3M360.5 276.5H365.5M360.5 296.3H365.5" stroke="#333" stroke-width="1.2" fill="none"/>
<path d="M500.8 228.0V243.7M498.3 228.0H503.3M498.3 243.7H503.3M481.8 236.1H518.6M481.8 233.6V238.6M518.6 233.6V238.6" stroke="#333" stroke-width="1.2" fill="none"/>
<path d="M542.0 193.3V213.1M539.5 193.3H544.5M539.5 213.1H544.5M518.6 203.3H562.9M518.6 200.8V205.8M562.9 200.8V205.8" stroke="#333" stroke-width="1.2" fill="none"/>
<rect x="86.3" y="189.2" width="4.0" height="4.0" rx="0.8" fill="#606060" stroke="#222" stroke-width="1.1"/>
<rect x="126.6" y="187.0" width="4.0" height="4.0" rx="0.8" fill="#606060" stroke="#222" stroke-width="1.1"/>
<rect x="117.0" y="211.0" width="4.0" height="4.0" rx="0.8" fill="#606060" stroke="#222" stroke-width="1.1"/>
<rect x="132.4" y="219.5" width="4.0" height="4.0" rx="0.8" fill="#606060" stroke="#222" stroke-width="1.1"/>
<rect x="140.5" y="233.4" width="4.0" height="4.0" rx="0.8" fill="#606060" stroke="#222" stroke-width="1.1"/>
<rect x="147.1" y="199.3" width="4.0" height="4.0" rx="0.8" fill="#606060" stroke="#222" stroke-width="1.1"/>
<rect x="148.9" y="203.7" width="4.0" height="4.0" rx="0.8" fill="#606060" stroke="#222" stroke-width="1.1"/>
<rect x="151.8" y="240.4" width="4.0" height="4.0" rx="0.8" fill="#606060" stroke="#222" stroke-width="1.1"/>
<rect x="155.9" y="213.1" width="4.0" height="4.0" rx="0.8" fill="#606060" stroke="#222" stroke-width="1.1"/>
<rect x="160.3" y="249.7" width="4.0" height="4.0" rx="0.8" fill="#606060" stroke="#222" stroke-width="1.1"/>
<rect x="165.4" y="230.5" width="4.0" height="4.0" rx="0.8" fill="#606060" stroke="#222" stroke-width="1.1"/>
<rect x="169.8" y="236.0" width="4.0" height="4.0" rx="0.8" fill="#606060" stroke="#222" stroke-width="1.1"/>
<rect x="170.5" y="280.5" width="4.0" height="4.0" rx="0.8" fill="#606060" stroke="#222" stroke-width="1.1"/>
<rect x="172.7" y="226.1" width="4.0" height="4.0" rx="0.8" fill="#606060" stroke="#222" stroke-width="1.1"/>
<rect x="175.3" y="224.3" width="4.0" height="4.0" rx="0.8" fill="#606060" stroke="#222" stroke-width="1.1"/>
<rect x="180.1" y="252.7" width="4.0" height="4.0" rx="0.8" fill="#606060" stroke="#222" stroke-width="1.1"/>
<rect x="183.0" y="207.8" width="4.0" height="4.0" rx="0.8" fill="#606060" stroke="#222" stroke-width="1.1"/>
<rect x="189.6" y="227.9" width="4.0" height="4.0" rx="0.8" fill="#606060" stroke="#222" stroke-width="1.1"/>
<rect x="200.7" y="270.0" width="4.0" height="4.0" rx="0.8" fill="#606060" stroke="#222" stroke-width="1.1"/>
<rect x="210.6" y="238.5" width="4.0" height="4.0" rx="0.8" fill="#606060" stroke="#222" stroke-width="1.1"/>
<rect x="222.7" y="241.0" width="4.0" height="4.0" rx="0.8" fill="#606060" stroke="#222" stroke-width="1.1"/>
<rect x="229.7" y="244.3" width="4.0" height="4.0" rx="0.8" fill="#606060" stroke="#222" stroke-width="1.1"/>
<rect x="235.5" y="212.8" width="4.0" height="4.0" rx="0.8" fill="#606060" stroke="#222" stroke-width="1.1"/>
<rect x="241.0" y="240.3" width="4.0" height="4.0" rx="0.8" fill="#606060" stroke="#222" stroke-width="1.1"/>
<rect x="245.1" y="255.7" width="4.0" height="4.0" rx="0.8" fill="#606060" stroke="#222" stroke-width="1.1"/>
<rect x="247.6" y="261.7" width="4.0" height="4.0" rx="0.8" fill="#606060" stroke="#222" stroke-width="1.1"/>
<rect x="249.1" y="251.3" width="4.0" height="4.0" rx="0.8" fill="#606060" stroke="#222" stroke-width="1.1"/>
<rect x="252.8" y="266.0" width="4.0" height="4.0" rx="0.8" fill="#606060" stroke="#222" stroke-width="1.1"/>
<rect x="257.2" y="261.7" width="4.0" height="4.0" rx="0.8" fill="#606060" stroke="#222" stroke-width="1.1"/>
<rect x="259.0" y="286.7" width="4.0" height="4.0" rx="0.8" fill="#606060" stroke="#222" stroke-width="1.1"/>
<rect x="262.9" y="268.6" width="4.0" height="4.0" rx="0.8" fill="#606060" stroke="#222" stroke-width="1.1"/>
<rect x="268.1" y="256.3" width="4.0" height="4.0" rx="0.8" fill="#606060" stroke="#222" stroke-width="1.1"/>
<rect x="271.8" y="254.1" width="4.0" height="4.0" rx="0.8" fill="#606060" stroke="#222" stroke-width="1.1"/>
<rect x="273.4" y="264.9" width="4.0" height="4.0" rx="0.8" fill="#606060" stroke="#222" stroke-width="1.1"/>
<rect x="277.8" y="261.8" width="4.0" height="4.0" rx="0.8" fill="#606060" stroke="#222" stroke-width="1.1"/>
<rect x="281.7" y="265.7" width="4.0" height="4.0" rx="0.8" fill="#606060" stroke="#222" stroke-width="1.1"/>
<rect x="285.0" y="278.9" width="4.0" height="4.0" rx="0.8" fill="#606060" stroke="#222" stroke-width="1.1"/>
<rect x="287.9" y="260.9" width="4.0" height="4.0" rx="0.8" fill="#606060" stroke="#222" stroke-width="1.1"/>
<rect x="291.0" y="245.5" width="4.0" height="4.0" rx="0.8" fill="#606060" stroke="#222" stroke-width="1.1"/>
<rect x="293.8" y="243.1" width="4.0" height="4.0" rx="0.8" fill="#606060" stroke="#222" stroke-width="1.1"/>
<rect x="298.7" y="237.1" width="4.0" height="4.0" rx="0.8" fill="#606060" stroke="#222" stroke-width="1.1"/>
<rect x="301.8" y="246.7" width="4.0" height="4.0" rx="0.8" fill="#606060" stroke="#222" stroke-width="1.1"/>
<rect x="304.8" y="258.7" width="4.0" height="4.0" rx="0.8" fill="#606060" stroke="#222" stroke-width="1.1"/>
<rect x="307.3" y="262.0" width="4.0" height="4.0" rx="0.8" fill="#606060" stroke="#222" stroke-width="1.1"/>
<rect x="310.6" y="256.9" width="4.0" height="4.0" rx="0.8" fill="#606060" stroke="#222" stroke-width="1.1"/>
<rect x="313.6" y="260.5" width="4.0" height="4.0" rx="0.8" fill="#606060" stroke="#222" stroke-width="1.1"/>
<rect x="315.8" y="273.7" width="4.0" height="4.0" rx="0.8" fill="#606060" stroke="#222" stroke-width="1.1"/>
<rect x="320.2" y="263.5" width="4.0" height="4.0" rx="0.8" fill="#606060" stroke="#222" stroke-width="1.1"/>
<rect x="324.0" y="251.4" width="4.0" height="4.0" rx="0.8" fill="#606060" stroke="#222" stroke-width="1.1"/>
<rect x="326.2" y="251.7" width="4.0" height="4.0" rx="0.8" fill="#606060" stroke="#222" stroke-width="1.1"/>
<rect x="329.0" y="234.3" width="4.0" height="4.0" rx="0.8" fill="#606060" stroke="#222" stroke-width="1.1"/>
<rect x="331.5" y="239.3" width="4.0" height="4.0" rx="0.8" fill="#606060" stroke="#222" stroke-width="1.1"/>
<rect x="334.1" y="232.1" width="4.0" height="4.0" rx="0.8" fill="#606060" stroke="#222" stroke-width="1.1"/>
<rect x="336.6" y="229.9" width="4.0" height="4.0" rx="0.8" fill="#606060" stroke="#222" stroke-width="1.1"/>
<rect x="338.8" y="234.3" width="4.0" height="4.0" rx="0.8" fill="#606060" stroke="#222" stroke-width="1.1"/>
<rect x="341.4" y="236.0" width="4.0" height="4.0" rx="0.8" fill="#606060" stroke="#222" stroke-width="1.1"/>
<rect x="343.4" y="221.7" width="4.0" height="4.0" rx="0.8" fill="#606060" stroke="#222" stroke-width="1.1"/>
<rect x="345.6" y="227.2" width="4.0" height="4.0" rx="0.8" fill="#606060" stroke="#222" stroke-width="1.1"/>
<rect x="348.4" y="237.4" width="4.0" height="4.0" rx="0.8" fill="#606060" stroke="#222" stroke-width="1.1"/>
<rect x="350.6" y="244.2" width="4.0" height="4.0" rx="0.8" fill="#606060" stroke="#222" stroke-width="1.1"/>
<rect x="352.8" y="248.8" width="4.0" height="4.0" rx="0.8" fill="#606060" stroke="#222" stroke-width="1.1"/>
<rect x="354.6" y="272.3" width="4.0" height="4.0" rx="0.8" fill="#606060" stroke="#222" stroke-width="1.1"/>
<rect x="356.6" y="265.7" width="4.0" height="4.0" rx="0.8" fill="#606060" stroke="#222" stroke-width="1.1"/>
<rect x="359.0" y="263.5" width="4.0" height="4.0" rx="0.8" fill="#606060" stroke="#222" stroke-width="1.1"/>
<rect x="361.0" y="284.4" width="4.0" height="4.0" rx="0.8" fill="#606060" stroke="#222" stroke-width="1.1"/>
<rect x="498.8" y="234.1" width="4.0" height="4.0" rx="0.8" fill="#606060" stroke="#222" stroke-width="1.1"/>
<rect x="540.0" y="201.3" width="4.0" height="4.0" rx="0.8" fill="#606060" stroke="#222" stroke-width="1.1"/>
<path d="M564.9 220.2V230.0M562.4 220.2H567.4M562.4 230.0H567.4M561.4 225.1H568.4" stroke="#111" stroke-width="1.1" fill="none"/>
<circle cx="564.9" cy="225.1" r="2.3" fill="#000"/>
<path d="M573.5 217.9V231.4M571.0 217.9H576.0M571.0 231.4H576.0M570.0 224.4H577.0" stroke="#111" stroke-width="1.1" fill="none"/>
<circle cx="573.5" cy="224.4" r="2.3" fill="#000"/>
<path d="M581.3 219.5V231.4M578.8 219.5H583.8M578.8 231.4H583.8M577.8 225.6H584.8" stroke="#111" stroke-width="1.1" fill="none"/>
<circle cx="581.3" cy="225.6" r="2.3" fill="#000"/>
<path d="M588.7 213.9V230.7M586.2 213.9H591.2M586.2 230.7H591.2M585.2 222.4H592.2" stroke="#111" stroke-width="1.1" fill="none"/>
<circle cx="588.7" cy="222.4" r="2.3" fill="#000"/>
<path d="M596.4 227.3V244.9M593.9 227.3H598.9M593.9 244.9H598.9M592.9 236.3H599.9" stroke="#111" stroke-width="1.1" fill="none"/>
<circle cx="596.4" cy="236.3" r="2.3" fill="#000"/>
<path d="M603.8 227.3V244.2M601.3 227.3H606.3M601.3 244.2H606.3M600.3 235.7H607.3" stroke="#111" stroke-width="1.1" fill="none"/>
<circle cx="603.8" cy="235.7" r="2.3" fill="#000"/>
<path d="M610.5 208.3V221.7M608.0 208.3H613.0M608.0 221.7H613.0M607.0 215.0H614.0" stroke="#111" stroke-width="1.1" fill="none"/>
<circle cx="610.5" cy="215.0" r="2.3" fill="#000"/>
<path d="M616.8 200.0V224.7M614.3 200.0H619.3M614.3 224.7H619.3M613.3 212.1H620.3" stroke="#111" stroke-width="1.1" fill="none"/>
<circle cx="616.8" cy="212.1" r="2.3" fill="#000"/>
<path d="M622.9 195.5V213.9M620.4 195.5H625.4M620.4 213.9H625.4M619.4 204.9H626.4" stroke="#111" stroke-width="1.1" fill="none"/>
<circle cx="622.9" cy="204.9" r="2.3" fill="#000"/>
<path d="M629.1 210.5V227.3M626.6 210.5H631.6M626.6 227.3H631.6M625.6 218.8H632.6" stroke="#111" stroke-width="1.1" fill="none"/>
<circle cx="629.1" cy="218.8" r="2.3" fill="#000"/>
<path d="M634.8 210.5V232.3M632.3 210.5H637.3M632.3 232.3H637.3M631.3 220.6H638.3" stroke="#111" stroke-width="1.1" fill="none"/>
<circle cx="634.8" cy="220.6" r="2.3" fill="#000"/>
<path d="M640.4 204.4V227.8M637.9 204.4H642.9M637.9 227.8H642.9M636.9 216.6H643.9" stroke="#111" stroke-width="1.1" fill="none"/>
<circle cx="640.4" cy="216.6" r="2.3" fill="#000"/>
<path d="M646.4 194.8V215.0M643.9 194.8H648.9M643.9 215.0H648.9M642.9 204.9H649.9" stroke="#111" stroke-width="1.1" fill="none"/>
<circle cx="646.4" cy="204.9" r="2.3" fill="#000"/>
<path d="M651.6 173.5V198.6M649.1 173.5H654.1M649.1 198.6H654.1M648.1 186.5H655.1" stroke="#111" stroke-width="1.1" fill="none"/>
<circle cx="651.6" cy="186.5" r="2.3" fill="#000"/>
<path d="M656.5 183.6V207.6M654.0 183.6H659.0M654.0 207.6H659.0M653.0 195.5H660.0" stroke="#111" stroke-width="1.1" fill="none"/>
<circle cx="656.5" cy="195.5" r="2.3" fill="#000"/>
<path d="M661.7 192.6V218.8M659.2 192.6H664.2M659.2 218.8H664.2M658.2 205.3H665.2" stroke="#111" stroke-width="1.1" fill="none"/>
<circle cx="661.7" cy="205.3" r="2.3" fill="#000"/>
<path d="M666.6 218.8V247.1M664.1 218.8H669.1M664.1 247.1H669.1M663.1 233.0H670.1" stroke="#111" stroke-width="1.1" fill="none"/>
<circle cx="666.6" cy="233.0" r="2.3" fill="#000"/>
<path d="M671.1 184.2V217.2M668.6 184.2H673.6M668.6 217.2H673.6M667.6 200.0H674.6" stroke="#111" stroke-width="1.1" fill="none"/>
<circle cx="671.1" cy="200.0" r="2.3" fill="#000"/>
<path d="M675.6 215.0V245.8M673.1 215.0H678.1M673.1 245.8H678.1M672.1 230.3H679.1" stroke="#111" stroke-width="1.1" fill="none"/>
<circle cx="675.6" cy="230.3" r="2.3" fill="#000"/>
<path d="M680.6 193.2V229.6M678.1 193.2H683.1M678.1 229.6H683.1M677.1 211.2H684.1" stroke="#111" stroke-width="1.1" fill="none"/>
<circle cx="680.6" cy="211.2" r="2.3" fill="#000"/>
<path d="M685.0 217.2V259.4M682.5 217.2H687.5M682.5 259.4H687.5M681.5 238.1H688.5" stroke="#111" stroke-width="1.1" fill="none"/>
<circle cx="685.0" cy="238.1" r="2.3" fill="#000"/>
<path d="M689.1 244.2V293.6M686.6 244.2H691.6M686.6 293.6H691.6M685.6 269.3H692.6" stroke="#111" stroke-width="1.1" fill="none"/>
<circle cx="689.1" cy="269.3" r="2.3" fill="#000"/>
<path d="M693.6 194.8V252.0M691.1 194.8H696.1M691.1 252.0H696.1M690.1 223.3H697.1" stroke="#111" stroke-width="1.1" fill="none"/>
<circle cx="693.6" cy="223.3" r="2.3" fill="#000"/>
<path d="M697.4 184.2V256.1M694.9 184.2H699.9M694.9 256.1H699.9M693.9 220.2H700.9" stroke="#111" stroke-width="1.1" fill="none"/>
<circle cx="697.4" cy="220.2" r="2.3" fill="#000"/>
<path d="M701.4 245.3V334.7M698.9 245.3H703.9M698.9 334.7H703.9M697.9 289.8H704.9" stroke="#111" stroke-width="1.1" fill="none"/>
<circle cx="701.4" cy="289.8" r="2.3" fill="#000"/>
<path d="M705.5 215.0V307.7M703.0 215.0H708.0M703.0 307.7H708.0M702.0 261.5H709.0" stroke="#111" stroke-width="1.1" fill="none"/>
<circle cx="705.5" cy="261.5" r="2.3" fill="#000"/>
<path d="M709.3 235.2V344.5M706.8 235.2H711.8M706.8 344.5H711.8M705.8 289.8H712.8" stroke="#111" stroke-width="1.1" fill="none"/>
<circle cx="709.3" cy="289.8" r="2.3" fill="#000"/>
<path d="M713.1 154.3V288.0M710.6 154.3H715.6M710.6 288.0H715.6M709.6 221.1H716.6" stroke="#111" stroke-width="1.1" fill="none"/>
<circle cx="713.1" cy="221.1" r="2.3" fill="#000"/>
<text x="63.00" y="383.50" font-size="15.47" text-anchor="end" textLength="32.19" lengthAdjust="spacingAndGlyphs" stroke="#000" stroke-width="0.2" fill="#000">1.30</text>
<text x="63.00" y="350.68" font-size="15.47" text-anchor="end" textLength="32.19" lengthAdjust="spacingAndGlyphs" stroke="#000" stroke-width="0.2" fill="#000">1.35</text>
<text x="63.00" y="317.86" font-size="15.47" text-anchor="end" textLength="32.19" lengthAdjust="spacingAndGlyphs" stroke="#000" stroke-width="0.2" fill="#000">1.40</text>
<text x="63.00" y="285.04" font-size="15.47" text-anchor="end" textLength="32.19" lengthAdjust="spacingAndGlyphs" stroke="#000" stroke-width="0.2" fill="#000">1.45</text>
<text x="63.00" y="252.22" font-size="15.47" text-anchor="end" textLength="32.19" lengthAdjust="spacingAndGlyphs" stroke="#000" stroke-width="0.2" fill="#000">1.50</text>
<text x="63.00" y="219.40" font-size="15.47" text-anchor="end" textLength="32.19" lengthAdjust="spacingAndGlyphs" stroke="#000" stroke-width="0.2" fill="#000">1.55</text>
<text x="63.00" y="186.58" font-size="15.47" text-anchor="end" textLength="32.19" lengthAdjust="spacingAndGlyphs" stroke="#000" stroke-width="0.2" fill="#000">1.60</text>
<text x="63.00" y="153.76" font-size="15.47" text-anchor="end" textLength="32.19" lengthAdjust="spacingAndGlyphs" stroke="#000" stroke-width="0.2" fill="#000">1.65</text>
<text x="63.00" y="120.94" font-size="15.47" text-anchor="end" textLength="32.19" lengthAdjust="spacingAndGlyphs" stroke="#000" stroke-width="0.2" fill="#000">1.70</text>
<text x="63.00" y="88.12" font-size="15.47" text-anchor="end" textLength="32.19" lengthAdjust="spacingAndGlyphs" stroke="#000" stroke-width="0.2" fill="#000">1.75</text>
<text x="63.00" y="55.30" font-size="15.47" text-anchor="end" textLength="32.19" lengthAdjust="spacingAndGlyphs" stroke="#000" stroke-width="0.2" fill="#000">1.80</text>
<text x="63.00" y="22.48" font-size="15.47" text-anchor="end" textLength="32.19" lengthAdjust="spacingAndGlyphs" stroke="#000" stroke-width="0.2" fill="#000">1.85</text>
<text x="66.50" y="394.80" font-size="15.14" text-anchor="middle" textLength="23.14" lengthAdjust="spacingAndGlyphs" stroke="#000" stroke-width="0.2" fill="#000">0.3</text>
<text x="156.24" y="394.80" font-size="15.14" text-anchor="middle" textLength="23.14" lengthAdjust="spacingAndGlyphs" stroke="#000" stroke-width="0.2" fill="#000">0.5</text>
<text x="215.35" y="394.80" font-size="15.14" text-anchor="middle" textLength="23.14" lengthAdjust="spacingAndGlyphs" stroke="#000" stroke-width="0.2" fill="#000">0.7</text>
<text x="259.50" y="394.80" font-size="15.14" text-anchor="middle" textLength="23.14" lengthAdjust="spacingAndGlyphs" stroke="#000" stroke-width="0.2" fill="#000">0.9</text>
<text x="278.00" y="394.80" font-size="15.14" text-anchor="middle" textLength="9.26" lengthAdjust="spacingAndGlyphs" stroke="#000" stroke-width="0.2" fill="#000">1</text>
<text x="349.23" y="394.80" font-size="15.14" text-anchor="middle" textLength="23.14" lengthAdjust="spacingAndGlyphs" stroke="#000" stroke-width="0.2" fill="#000">1.5</text>
<text x="399.77" y="394.80" font-size="15.14" text-anchor="middle" textLength="9.26" lengthAdjust="spacingAndGlyphs" stroke="#000" stroke-width="0.2" fill="#000">2</text>
<text x="438.97" y="394.80" font-size="15.14" text-anchor="middle" textLength="23.14" lengthAdjust="spacingAndGlyphs" stroke="#000" stroke-width="0.2" fill="#000">2.5</text>
<text x="471.00" y="394.80" font-size="15.14" text-anchor="middle" textLength="9.26" lengthAdjust="spacingAndGlyphs" stroke="#000" stroke-width="0.2" fill="#000">3</text>
<text x="521.54" y="394.80" font-size="15.14" text-anchor="middle" textLength="9.26" lengthAdjust="spacingAndGlyphs" stroke="#000" stroke-width="0.2" fill="#000">4</text>
<text x="560.74" y="394.80" font-size="15.14" text-anchor="middle" textLength="9.26" lengthAdjust="spacingAndGlyphs" stroke="#000" stroke-width="0.2" fill="#000">5</text>
<text x="592.77" y="394.80" font-size="15.14" text-anchor="middle" textLength="9.26" lengthAdjust="spacingAndGlyphs" stroke="#000" stroke-width="0.2" fill="#000">6</text>
<text x="619.85" y="394.80" font-size="15.14" text-anchor="middle" textLength="9.26" lengthAdjust="spacingAndGlyphs" stroke="#000" stroke-width="0.2" fill="#000">7</text>
<text x="643.30" y="394.80" font-size="15.14" text-anchor="middle" textLength="9.26" lengthAdjust="spacingAndGlyphs" stroke="#000" stroke-width="0.2" fill="#000">8</text>
<text x="664.00" y="394.80" font-size="15.14" text-anchor="middle" textLength="9.26" lengthAdjust="spacingAndGlyphs" stroke="#000" stroke-width="0.2" fill="#000">9</text>
<text x="682.50" y="394.80" font-size="15.14" text-anchor="middle" textLength="18.52" lengthAdjust="spacingAndGlyphs" stroke="#000" stroke-width="0.2" fill="#000">10</text>
<text x="714.53" y="394.80" font-size="15.14" text-anchor="middle" textLength="18.52" lengthAdjust="spacingAndGlyphs" stroke="#000" stroke-width="0.2" fill="#000">12</text>
<path d="M66.5 379.00h4.5M721.5 379.00h-4.5M66.5 375.72h2.6M721.5 375.72h-2.6M66.5 372.44h2.6M721.5 372.44h-2.6M66.5 369.15h2.6M721.5 369.15h-2.6M66.5 365.87h2.6M721.5 365.87h-2.6M66.5 362.59h2.6M721.5 362.59h-2.6M66.5 359.31h2.6M721.5 359.31h-2.6M66.5 356.03h2.6M721.5 356.03h-2.6M66.5 352.74h2.6M721.5 352.74h-2.6M66.5 349.46h2.6M721.5 349.46h-2.6M66.5 346.18h4.5M721.5 346.18h-4.5M66.5 342.90h2.6M721.5 342.90h-2.6M66.5 339.62h2.6M721.5 339.62h-2.6M66.5 336.33h2.6M721.5 336.33h-2.6M66.5 333.05h2.6M721.5 333.05h-2.6M66.5 329.77h2.6M721.5 329.77h-2.6M66.5 326.49h2.6M721.5 326.49h-2.6M66.5 323.21h2.6M721.5 323.21h-2.6M66.5 319.92h2.6M721.5 319.92h-2.6M66.5 316.64h2.6M721.5 316.64h-2.6M66.5 313.36h4.5M721.5 313.36h-4.5M66.5 310.08h2.6M721.5 310.08h-2.6M66.5 306.80h2.6M721.5 306.80h-2.6M66.5 303.51h2.6M721.5 303.51h-2.6M66.5 300.23h2.6M721.5 300.23h-2.6M66.5 296.95h2.6M721.5 296.95h-2.6M66.5 293.67h2.6M721.5 293.67h-2.6M66.5 290.39h2.6M721.5 290.39h-2.6M66.5 287.10h2.6M721.5 287.10h-2.6M66.5 283.82h2.6M721.5 283.82h-2.6M66.5 280.54h4.5M721.5 280.54h-4.5M66.5 277.26h2.6M721.5 277.26h-2.6M66.5 273.98h2.6M721.5 273.98h-2.6M66.5 270.69h2.6M721.5 270.69h-2.6M66.5 267.41h2.6M721.5 267.41h-2.6M66.5 264.13h2.6M721.5 264.13h-2.6M66.5 260.85h2.6M721.5 260.85h-2.6M66.5 257.57h2.6M721.5 257.57h-2.6M66.5 254.28h2.6M721.5 254.28h-2.6M66.5 251.00h2.6M721.5 251.00h-2.6M66.5 247.72h4.5M721.5 247.72h-4.5M66.5 244.44h2.6M721.5 244.44h-2.6M66.5 241.16h2.6M721.5 241.16h-2.6M66.5 237.87h2.6M721.5 237.87h-2.6M66.5 234.59h2.6M721.5 234.59h-2.6M66.5 231.31h2.6M721.5 231.31h-2.6M66.5 228.03h2.6M721.5 228.03h-2.6M66.5 224.75h2.6M721.5 224.75h-2.6M66.5 221.46h2.6M721.5 221.46h-2.6M66.5 218.18h2.6M721.5 218.18h-2.6M66.5 214.90h4.5M721.5 214.90h-4.5M66.5 211.62h2.6M721.5 211.62h-2.6M66.5 208.34h2.6M721.5 208.34h-2.6M66.5 205.05h2.6M721.5 205.05h-2.6M66.5 201.77h2.6M721.5 201.77h-2.6M66.5 198.49h2.6M721.5 198.49h-2.6M66.5 195.21h2.6M721.5 195.21h-2.6M66.5 191.93h2.6M721.5 191.93h-2.6M66.5 188.64h2.6M721.5 188.64h-2.6M66.5 185.36h2.6M721.5 185.36h-2.6M66.5 182.08h4.5M721.5 182.08h-4.5M66.5 178.80h2.6M721.5 178.80h-2.6M66.5 175.52h2.6M721.5 175.52h-2.6M66.5 172.23h2.6M721.5 172.23h-2.6M66.5 168.95h2.6M721.5 168.95h-2.6M66.5 165.67h2.6M721.5 165.67h-2.6M66.5 162.39h2.6M721.5 162.39h-2.6M66.5 159.11h2.6M721.5 159.11h-2.6M66.5 155.82h2.6M721.5 155.82h-2.6M66.5 152.54h2.6M721.5 152.54h-2.6M66.5 149.26h4.5M721.5 149.26h-4.5M66.5 145.98h2.6M721.5 145.98h-2.6M66.5 142.70h2.6M721.5 142.70h-2.6M66.5 139.41h2.6M721.5 139.41h-2.6M66.5 136.13h2.6M721.5 136.13h-2.6M66.5 132.85h2.6M721.5 132.85h-2.6M66.5 129.57h2.6M721.5 129.57h-2.6M66.5 126.29h2.6M721.5 126.29h-2.6M66.5 123.00h2.6M721.5 123.00h-2.6M66.5 119.72h2.6M721.5 119.72h-2.6M66.5 116.44h4.5M721.5 116.44h-4.5M66.5 113.16h2.6M721.5 113.16h-2.6M66.5 109.88h2.6M721.5 109.88h-2.6M66.5 106.59h2.6M721.5 106.59h-2.6M66.5 103.31h2.6M721.5 103.31h-2.6M66.5 100.03h2.6M721.5 100.03h-2.6M66.5 96.75h2.6M721.5 96.75h-2.6M66.5 93.47h2.6M721.5 93.47h-2.6M66.5 90.18h2.6M721.5 90.18h-2.6M66.5 86.90h2.6M721.5 86.90h-2.6M66.5 83.62h4.5M721.5 83.62h-4.5M66.5 80.34h2.6M721.5 80.34h-2.6M66.5 77.06h2.6M721.5 77.06h-2.6M66.5 73.77h2.6M721.5 73.77h-2.6M66.5 70.49h2.6M721.5 70.49h-2.6M66.5 67.21h2.6M721.5 67.21h-2.6M66.5 63.93h2.6M721.5 63.93h-2.6M66.5 60.65h2.6M721.5 60.65h-2.6M66.5 57.36h2.6M721.5 57.36h-2.6M66.5 54.08h2.6M721.5 54.08h-2.6M66.5 50.80h4.5M721.5 50.80h-4.5M66.5 47.52h2.6M721.5 47.52h-2.6M66.5 44.24h2.6M721.5 44.24h-2.6M66.5 40.95h2.6M721.5 40.95h-2.6M66.5 37.67h2.6M721.5 37.67h-2.6M66.5 34.39h2.6M721.5 34.39h-2.6M66.5 31.11h2.6M721.5 31.11h-2.6M66.5 27.83h2.6M721.5 27.83h-2.6M66.5 24.54h2.6M721.5 24.54h-2.6M66.5 21.26h2.6M721.5 21.26h-2.6M66.5 17.98h4.5M721.5 17.98h-4.5M66.50 379.0v-4.5M66.50 18.0v4.5M117.04 379.0v-2.2M117.04 18.0v2.2M156.24 379.0v-4.5M156.24 18.0v4.5M188.27 379.0v-2.2M188.27 18.0v2.2M215.35 379.0v-4.5M215.35 18.0v4.5M238.80 379.0v-2.2M238.80 18.0v2.2M259.50 379.0v-4.5M259.50 18.0v4.5M278.00 379.0v-4.5M278.00 18.0v4.5M294.75 379.0v-2.2M294.75 18.0v2.2M310.03 379.0v-2.2M310.03 18.0v2.2M324.09 379.0v-2.2M324.09 18.0v2.2M337.11 379.0v-2.2M337.11 18.0v2.2M349.23 379.0v-4.5M349.23 18.0v4.5M360.57 379.0v-2.2M360.57 18.0v2.2M371.22 379.0v-2.2M371.22 18.0v2.2M381.26 379.0v-2.2M381.26 18.0v2.2M390.76 379.0v-2.2M390.76 18.0v2.2M399.77 379.0v-4.5M399.77 18.0v4.5M408.34 379.0v-2.2M408.34 18.0v2.2M416.51 379.0v-2.2M416.51 18.0v2.2M424.32 379.0v-2.2M424.32 18.0v2.2M431.80 379.0v-2.2M431.80 18.0v2.2M438.97 379.0v-4.5M438.97 18.0v4.5M445.86 379.0v-2.2M445.86 18.0v2.2M452.49 379.0v-2.2M452.49 18.0v2.2M458.88 379.0v-2.2M458.88 18.0v2.2M465.04 379.0v-2.2M465.04 18.0v2.2M471.00 379.0v-4.5M471.00 18.0v4.5M476.76 379.0v-2.2M476.76 18.0v2.2M482.34 379.0v-2.2M482.34 18.0v2.2M487.74 379.0v-2.2M487.74 18.0v2.2M492.99 379.0v-2.2M492.99 18.0v2.2M498.08 379.0v-2.2M498.08 18.0v2.2M503.03 379.0v-2.2M503.03 18.0v2.2M507.84 379.0v-2.2M507.84 18.0v2.2M512.53 379.0v-2.2M512.53 18.0v2.2M517.09 379.0v-2.2M517.09 18.0v2.2M521.54 379.0v-4.5M521.54 18.0v4.5M525.88 379.0v-2.2M525.88 18.0v2.2M530.11 379.0v-2.2M530.11 18.0v2.2M534.24 379.0v-2.2M534.24 18.0v2.2M538.28 379.0v-2.2M538.28 18.0v2.2M542.23 379.0v-2.2M542.23 18.0v2.2M546.09 379.0v-2.2M546.09 18.0v2.2M549.87 379.0v-2.2M549.87 18.0v2.2M553.57 379.0v-2.2M553.57 18.0v2.2M557.19 379.0v-2.2M557.19 18.0v2.2M560.74 379.0v-4.5M560.74 18.0v4.5M564.22 379.0v-2.2M564.22 18.0v2.2M567.63 379.0v-2.2M567.63 18.0v2.2M570.97 379.0v-2.2M570.97 18.0v2.2M574.26 379.0v-2.2M574.26 18.0v2.2M577.48 379.0v-2.2M577.48 18.0v2.2M580.65 379.0v-2.2M580.65 18.0v2.2M583.76 379.0v-2.2M583.76 18.0v2.2M586.81 379.0v-2.2M586.81 18.0v2.2M589.81 379.0v-2.2M589.81 18.0v2.2M592.77 379.0v-4.5M592.77 18.0v4.5M595.67 379.0v-2.2M595.67 18.0v2.2M598.53 379.0v-2.2M598.53 18.0v2.2M601.34 379.0v-2.2M601.34 18.0v2.2M604.10 379.0v-2.2M604.10 18.0v2.2M606.83 379.0v-2.2M606.83 18.0v2.2M609.51 379.0v-2.2M609.51 18.0v2.2M612.15 379.0v-2.2M612.15 18.0v2.2M614.75 379.0v-2.2M614.75 18.0v2.2M617.32 379.0v-2.2M617.32 18.0v2.2M619.85 379.0v-4.5M619.85 18.0v4.5M622.34 379.0v-2.2M622.34 18.0v2.2M624.80 379.0v-2.2M624.80 18.0v2.2M627.22 379.0v-2.2M627.22 18.0v2.2M629.61 379.0v-2.2M629.61 18.0v2.2M631.97 379.0v-2.2M631.97 18.0v2.2M634.29 379.0v-2.2M634.29 18.0v2.2M636.59 379.0v-2.2M636.59 18.0v2.2M638.86 379.0v-2.2M638.86 18.0v2.2M641.09 379.0v-2.2M641.09 18.0v2.2M643.30 379.0v-4.5M643.30 18.0v4.5M645.49 379.0v-2.2M645.49 18.0v2.2M647.64 379.0v-2.2M647.64 18.0v2.2M649.77 379.0v-2.2M649.77 18.0v2.2M651.88 379.0v-2.2M651.88 18.0v2.2M653.95 379.0v-2.2M653.95 18.0v2.2M656.01 379.0v-2.2M656.01 18.0v2.2M658.04 379.0v-2.2M658.04 18.0v2.2M660.05 379.0v-2.2M660.05 18.0v2.2M662.03 379.0v-2.2M662.03 18.0v2.2M664.00 379.0v-4.5M664.00 18.0v4.5M665.94 379.0v-2.2M665.94 18.0v2.2M667.86 379.0v-2.2M667.86 18.0v2.2M669.76 379.0v-2.2M669.76 18.0v2.2M671.63 379.0v-2.2M671.63 18.0v2.2M673.49 379.0v-2.2M673.49 18.0v2.2M675.33 379.0v-2.2M675.33 18.0v2.2M677.15 379.0v-2.2M677.15 18.0v2.2M678.96 379.0v-2.2M678.96 18.0v2.2M680.74 379.0v-2.2M680.74 18.0v2.2M682.50 379.0v-4.5M682.50 18.0v4.5M684.25 379.0v-2.2M684.25 18.0v2.2M685.98 379.0v-2.2M685.98 18.0v2.2M687.70 379.0v-2.2M687.70 18.0v2.2M689.39 379.0v-2.2M689.39 18.0v2.2M691.08 379.0v-2.2M691.08 18.0v2.2M692.74 379.0v-2.2M692.74 18.0v2.2M694.39 379.0v-2.2M694.39 18.0v2.2M696.02 379.0v-2.2M696.02 18.0v2.2M697.64 379.0v-2.2M697.64 18.0v2.2M699.25 379.0v-2.2M699.25 18.0v2.2M700.84 379.0v-2.2M700.84 18.0v2.2M702.41 379.0v-2.2M702.41 18.0v2.2M703.97 379.0v-2.2M703.97 18.0v2.2M705.52 379.0v-2.2M705.52 18.0v2.2M707.06 379.0v-2.2M707.06 18.0v2.2M708.58 379.0v-2.2M708.58 18.0v2.2M710.09 379.0v-2.2M710.09 18.0v2.2M711.58 379.0v-2.2M711.58 18.0v2.2M713.06 379.0v-2.2M713.06 18.0v2.2M714.53 379.0v-4.5M714.53 18.0v4.5M715.99 379.0v-2.2M715.99 18.0v2.2M717.44 379.0v-2.2M717.44 18.0v2.2M718.87 379.0v-2.2M718.87 18.0v2.2M720.29 379.0v-2.2M720.29 18.0v2.2M721.70 379.0v-2.2M721.70 18.0v2.2" stroke="#000" stroke-width="0.9" fill="none"/>
<text x="79.20" y="47.60" font-size="21.20" text-anchor="start" textLength="100.09" lengthAdjust="spacingAndGlyphs" stroke="#000" stroke-width="0.2" fill="#000">WASP-17b</text>
<text x="311.20" y="418.30" font-size="21.26" text-anchor="start" textLength="164.87" lengthAdjust="spacingAndGlyphs" stroke="#000" stroke-width="0.2" fill="#000">Wavelength (μm)</text>
<g transform="translate(18.2,309.6) rotate(-90)"><text x="0.00" y="0.00" font-size="21.15" text-anchor="start" textLength="144.25" lengthAdjust="spacingAndGlyphs" stroke="#000" stroke-width="0.2" fill="#000">Transit Depth </text><text x="144.25" y="0.00" font-size="21.15" text-anchor="start" textLength="7.67" lengthAdjust="spacingAndGlyphs" stroke="#000" stroke-width="0.2" fill="#000">(</text><text x="152.42" y="0.00" font-size="21.15" text-anchor="start" textLength="14.81" lengthAdjust="spacingAndGlyphs" font-style="italic" stroke="#000" stroke-width="0.2" fill="#000">R</text><text x="167.23" y="3.20" font-size="14.80" text-anchor="start" textLength="8.81" lengthAdjust="spacingAndGlyphs" font-style="italic" stroke="#000" stroke-width="0.2" fill="#000">p</text><text x="177.04" y="0.00" font-size="21.15" text-anchor="start" textLength="6.63" lengthAdjust="spacingAndGlyphs" stroke="#000" stroke-width="0.2" fill="#000">/</text><text x="184.17" y="0.00" font-size="21.15" text-anchor="start" textLength="14.81" lengthAdjust="spacingAndGlyphs" font-style="italic" stroke="#000" stroke-width="0.2" fill="#000">R</text><text x="199.48" y="5.50" font-size="16.92" text-anchor="start" textLength="7.87" lengthAdjust="spacingAndGlyphs" stroke="#000" stroke-width="0.2" fill="#000">*</text><text x="208.34" y="0.00" font-size="21.15" text-anchor="start" textLength="7.67" lengthAdjust="spacingAndGlyphs" stroke="#000" stroke-width="0.2" fill="#000">)</text><text x="217.01" y="-8.50" font-size="14.80" text-anchor="start" textLength="8.76" lengthAdjust="spacingAndGlyphs" stroke="#000" stroke-width="0.2" fill="#000">2</text></g>
<text x="67.00" y="14.70" font-size="15.80" text-anchor="start" textLength="29.97" lengthAdjust="spacingAndGlyphs" stroke="#000" stroke-width="0.2" fill="#000">×10</text>
<text x="96.00" y="8.40" font-size="11.13" text-anchor="start" textLength="14.74" lengthAdjust="spacingAndGlyphs" stroke="#000" stroke-width="0.2" fill="#000">−2</text>
<line x1="380.5" y1="34.0" x2="399" y2="34.0" stroke="#a05ab8" stroke-width="2"/>
<text x="411.00" y="38.20" font-size="13.31" text-anchor="start" textLength="222.19" lengthAdjust="spacingAndGlyphs" stroke="#000" stroke-width="0.2" fill="#000">POSEIDON HST + Spitzer Retrieval</text>
<line x1="380.5" y1="51.4" x2="399" y2="51.4" stroke="#ff8a1a" stroke-width="2"/>
<text x="411.00" y="55.60" font-size="13.31" text-anchor="start" textLength="271.00" lengthAdjust="spacingAndGlyphs" stroke="#000" stroke-width="0.2" fill="#000">POSEIDON HST + Spitzer + MIRI Retrieval</text>
<line x1="380.5" y1="69.0" x2="399" y2="69.0" stroke="#4a88cc" stroke-width="2"/>
<text x="411.00" y="73.20" font-size="13.31" text-anchor="start" textLength="301.62" lengthAdjust="spacingAndGlyphs" stroke="#000" stroke-width="0.2" fill="#000">petitRADTRANS HST + Spitzer + MIRI Retrieval</text>
<line x1="380.5" y1="86.5" x2="399" y2="86.5" stroke="#22d8e0" stroke-width="2"/>
<text x="411.00" y="90.70" font-size="13.31" text-anchor="start" textLength="195.14" lengthAdjust="spacingAndGlyphs" stroke="#000" stroke-width="0.2" fill="#000">petitRADTRANS MIRI Retrieval</text>
<text x="411.00" y="108.20" font-size="13.31" text-anchor="start" textLength="102.07" lengthAdjust="spacingAndGlyphs" stroke="#000" stroke-width="0.2" fill="#000">JWST_MIRI_LRS</text>
<text x="411.00" y="126.20" font-size="13.31" text-anchor="start" textLength="88.68" lengthAdjust="spacingAndGlyphs" stroke="#000" stroke-width="0.2" fill="#000">HST + Spitzer</text>
<path d="M381.2 98.0V110.0M378.7 98.0H383.7M378.7 110.0H383.7M375.2 104.0H387.2M375.2 101.5V106.5M387.2 101.5V106.5" stroke="#222" stroke-width="1" fill="none"/>
<path d="M381.2 116.0V128.0M378.7 116.0H383.7M378.7 128.0H383.7M375.2 122.0H387.2M375.2 119.5V124.5M387.2 119.5V124.5" stroke="#444" stroke-width="1" fill="none"/>
<circle cx="381.2" cy="104.0" r="2.3" fill="#000"/>
<rect x="379.2" y="120.0" width="4" height="4" fill="#777" stroke="#222" stroke-width="1"/>
<path d="M398.1 98.0V110.0M395.6 98.0H400.6M395.6 110.0H400.6M392.1 104.0H404.1M392.1 101.5V106.5M404.1 101.5V106.5" stroke="#222" stroke-width="1" fill="none"/>
<path d="M398.1 116.0V128.0M395.6 116.0H400.6M395.6 128.0H400.6M392.1 122.0H404.1M392.1 119.5V124.5M404.1 119.5V124.5" stroke="#444" stroke-width="1" fill="none"/>
<circle cx="398.1" cy="104.0" r="2.3" fill="#000"/>
<rect x="396.1" y="120.0" width="4" height="4" fill="#777" stroke="#222" stroke-width="1"/>
<text x="115.00" y="904.40" font-size="18.61" text-anchor="start" textLength="200.83" lengthAdjust="spacingAndGlyphs" stroke="#000" stroke-width="0.2" fill="#000">Atmospheric Properties</text>
<text x="497.60" y="904.40" font-size="18.55" text-anchor="start" textLength="143.01" lengthAdjust="spacingAndGlyphs" stroke="#000" stroke-width="0.2" fill="#000">Cloud Properties</text>
<path d="M87.56 518.74H91.92V519.80H87.56ZM119.13 466.50H119.56V488.27H119.13ZM119.56 475.21H120.22V488.27H119.56Z" fill="rgb(245,168,82)"/>
<path d="M91.92 474.12H95.84V513.30H91.92ZM95.84 458.88H98.45V513.30H95.84ZM98.45 458.88H100.63V501.33H98.45ZM100.63 455.61H104.98V501.33H100.63ZM104.98 455.61H105.63V477.38H104.98ZM105.63 454.53H106.07V477.38H105.63ZM106.07 454.53H108.25V477.38H106.07ZM108.25 457.36H109.33V477.38H108.25ZM109.33 457.36H111.51V477.38H109.33ZM111.51 465.41H113.69V477.38H111.51ZM113.69 465.41H114.34V470.85H113.69ZM114.34 466.50H114.78V470.85H114.34Z" fill="rgb(122,168,215)"/>
<path d="M91.92 513.30H95.84V516.57H91.92ZM95.84 513.30H98.45V516.57H95.84ZM98.45 501.33H100.63V513.30H98.45ZM100.63 501.33H104.98V513.30H100.63ZM104.98 477.38H105.63V513.30H104.98ZM105.63 477.38H106.07V513.30H105.63ZM106.07 477.38H108.25V510.04H106.07ZM108.25 477.38H109.33V510.04H108.25ZM109.33 477.38H111.51V507.86H109.33ZM111.51 477.38H113.69V507.86H111.51ZM113.69 470.85H114.34V507.86H113.69ZM114.34 470.85H114.78V507.86H114.34ZM114.78 466.50H119.13V488.27H114.78Z" fill="rgb(160,154,148)"/>
<path d="M91.92 516.57H95.84V519.80H91.92ZM95.84 516.57H98.45V519.80H95.84ZM98.45 513.30H100.63V519.80H98.45ZM100.63 513.30H104.98V519.80H100.63ZM104.98 513.30H105.63V519.80H104.98ZM105.63 513.30H106.07V519.80H105.63ZM106.07 510.04H108.25V519.80H106.07ZM108.25 510.04H109.33V519.80H108.25Z" fill="rgb(125,185,170)"/>
<path d="M109.33 507.86H111.51V510.04H109.33ZM111.51 507.86H113.69V510.04H111.51ZM113.69 507.86H114.34V510.04H113.69ZM114.34 507.86H114.78V510.04H114.34ZM114.78 488.27H119.13V505.68H114.78Z" fill="rgb(145,115,165)"/>
<path d="M109.33 510.04H111.51V519.80H109.33ZM111.51 510.04H113.69V519.80H111.51ZM113.69 510.04H114.34V519.80H113.69ZM114.34 510.04H114.78V519.80H114.34ZM114.78 505.68H119.13V519.80H114.78Z" fill="rgb(118,185,178)"/>
<path d="M119.13 488.27H119.56V505.68H119.13ZM119.56 488.27H120.22V505.68H119.56ZM120.22 475.21H121.31V505.68H120.22ZM121.31 475.21H125.66V503.51H121.31ZM125.66 475.21H126.09V503.51H125.66ZM126.09 499.15H127.84V503.51H126.09ZM127.84 499.15H131.10V501.33H127.84ZM131.10 499.15H133.28V501.33H131.10ZM133.28 499.15H134.37V501.33H133.28ZM134.37 499.15H138.72V500.24H134.37ZM138.72 499.15H139.81V500.24H138.72Z" fill="rgb(205,110,110)"/>
<path d="M119.13 505.68H119.56V519.80H119.13ZM119.56 505.68H120.22V519.80H119.56ZM120.22 505.68H121.31V519.80H120.22ZM121.31 503.51H125.66V519.80H121.31ZM125.66 503.51H126.09V519.80H125.66ZM126.09 503.51H127.84V519.80H126.09ZM127.84 501.33H131.10V519.80H127.84ZM131.10 501.33H133.28V519.80H131.10ZM133.28 501.33H134.37V519.80H133.28ZM134.37 500.24H138.72V519.80H134.37ZM138.72 500.24H139.81V519.80H138.72ZM139.81 505.68H143.07V519.80H139.81ZM143.07 505.68H144.16V519.80H143.07ZM144.16 505.68H149.60V519.80H144.16ZM149.60 514.39H156.14V519.80H149.60Z" fill="rgb(180,195,170)"/>
<path d="M120.22 470.85H121.31V475.21H120.22ZM121.31 470.85H125.66V475.21H121.31ZM125.66 467.59H126.09V475.21H125.66ZM126.09 467.59H127.84V499.15H126.09ZM127.84 467.59H131.10V499.15H127.84ZM131.10 465.41H133.28V499.15H131.10ZM133.28 476.30H134.37V499.15H133.28ZM134.37 476.30H138.72V499.15H134.37ZM138.72 489.36H139.81V499.15H138.72ZM139.81 489.36H143.07V500.24H139.81ZM143.07 489.36H144.16V498.06H143.07Z" fill="rgb(190,134,204)"/>
<path d="M139.81 500.24H143.07V505.68H139.81ZM143.07 498.06H144.16V505.68H143.07ZM144.16 499.15H149.60V505.68H144.16ZM149.60 510.04H156.14V514.39H149.60Z" fill="rgb(160,180,200)"/>
<path d="M144.16 498.06H149.60V499.15H144.16ZM149.60 497.41H156.14V510.04H149.60ZM156.14 497.41H158.31V517.66H156.14ZM158.31 496.98H164.84V517.66H158.31ZM164.84 496.54H171.37V519.80H164.84ZM171.37 499.15H177.91V519.80H171.37ZM177.91 501.33H186.61V519.80H177.91ZM186.61 505.68H192.05V519.80H186.61ZM192.05 510.04H197.50V519.80H192.05Z" fill="rgb(163,247,222)"/>
<path d="M156.14 517.66H158.31V519.80H156.14ZM158.31 517.66H164.84V519.80H158.31Z" fill="rgb(170,195,160)"/>
<path d="M87.56 519.80V518.74H91.92V513.30H98.45V501.33H104.98V477.38H113.69V470.85H114.78V466.50H119.56V475.21H126.10V499.15H139.81V505.68H149.61V514.39H156.14V517.66H164.84V519.80" fill="none" stroke="#000" stroke-width="1.1" stroke-opacity="0.85"/>
<path d="M91.92 519.80V474.12H95.84V458.88H100.63V455.61H105.63V454.53H108.24V457.36H111.51V465.41H114.34V466.50H119.13V519.80" fill="none" stroke="#000" stroke-width="1.1" stroke-opacity="0.85"/>
<path d="M109.33 519.80V507.86H114.78V488.27H120.22V470.85H125.66V467.59H131.10V465.41H133.28V476.30H138.72V489.36H144.16V499.15H149.61V510.04H156.14V519.80" fill="none" stroke="#000" stroke-width="1.1" stroke-opacity="0.85"/>
<path d="M91.92 519.80V516.57H98.45V513.30H106.07V510.04H114.78V505.68H121.31V503.51H127.84V501.33H134.37V500.24H143.07V498.06H149.61V497.41H158.31V496.98H164.84V496.54H171.37V499.15H177.90V501.33H186.61V505.68H192.05V510.04H197.50V519.80" fill="none" stroke="#000" stroke-width="1.1" stroke-opacity="0.85"/>
<line x1="106.50" y1="448.2" x2="106.50" y2="519.8" stroke="#000" stroke-width="1.5" stroke-dasharray="6.6 7.9" stroke-dashoffset="7.0"/>
<line x1="118.48" y1="448.2" x2="118.48" y2="519.8" stroke="#7a7a7a" stroke-width="2"/>
<line x1="133.28" y1="448.2" x2="133.28" y2="519.8" stroke="#000" stroke-width="1.5" stroke-dasharray="6.6 7.9" stroke-dashoffset="7.0"/>
<text x="66.00" y="532.40" font-size="9.95" text-anchor="middle" textLength="17.06" lengthAdjust="spacingAndGlyphs" stroke="#000" stroke-width="0.2" fill="#000">750</text>
<text x="92.26" y="532.40" font-size="9.95" text-anchor="middle" textLength="22.75" lengthAdjust="spacingAndGlyphs" stroke="#000" stroke-width="0.2" fill="#000">1000</text>
<text x="118.52" y="532.40" font-size="9.95" text-anchor="middle" textLength="22.75" lengthAdjust="spacingAndGlyphs" stroke="#000" stroke-width="0.2" fill="#000">1250</text>
<text x="144.78" y="532.40" font-size="9.95" text-anchor="middle" textLength="22.75" lengthAdjust="spacingAndGlyphs" stroke="#000" stroke-width="0.2" fill="#000">1500</text>
<text x="171.04" y="532.40" font-size="9.95" text-anchor="middle" textLength="22.75" lengthAdjust="spacingAndGlyphs" stroke="#000" stroke-width="0.2" fill="#000">1750</text>
<text x="197.30" y="532.40" font-size="9.95" text-anchor="middle" textLength="22.75" lengthAdjust="spacingAndGlyphs" stroke="#000" stroke-width="0.2" fill="#000">2000</text>
<path d="M66.00 448.2v3M66.00 519.8v-3M92.26 448.2v3M92.26 519.8v-3M118.52 448.2v3M118.52 519.8v-3M144.78 448.2v3M144.78 519.8v-3M171.04 448.2v3M171.04 519.8v-3M197.30 448.2v3M197.30 519.8v-3" stroke="#000" stroke-width="0.9"/>
<rect x="66.0" y="448.2" width="131.3" height="71.6" fill="none" stroke="#000" stroke-width="1.3"/>
<text x="93.81" y="442.10" font-size="12.58" text-anchor="start" textLength="7.54" lengthAdjust="spacingAndGlyphs" stroke="#000" stroke-width="0.2" fill="#000">T</text>
<text x="101.35" y="442.10" font-size="12.58" text-anchor="start" textLength="45.41" lengthAdjust="spacingAndGlyphs" stroke="#000" stroke-width="0.2" fill="#000"> = 1250</text>
<text x="147.76" y="437.20" font-size="8.80" text-anchor="start" textLength="21.73" lengthAdjust="spacingAndGlyphs" stroke="#000" stroke-width="0.2" fill="#000">+143</text>
<text x="147.76" y="445.40" font-size="8.80" text-anchor="start" textLength="21.73" lengthAdjust="spacingAndGlyphs" stroke="#000" stroke-width="0.2" fill="#000">−113</text>
<path d="M241.11 465.41H246.77V482.83H241.11ZM246.77 463.89H248.51V474.12H246.77ZM248.51 463.89H252.87V474.12H248.51ZM252.87 463.89H258.31V470.85H252.87ZM258.31 455.61H261.58V466.06H258.31ZM261.58 455.61H263.75V466.06H261.58ZM263.75 454.53H265.93V466.06H263.75ZM265.93 454.53H268.11V464.32H265.93ZM268.11 456.70H272.46V464.32H268.11ZM272.46 458.88H273.55V464.32H272.46ZM273.55 458.88H274.64V467.59H273.55ZM274.64 458.88H282.26V467.59H274.64ZM282.26 458.88H287.70V466.06H282.26ZM287.70 458.88H289.88V466.06H287.70ZM289.88 459.32H290.96V466.06H289.88ZM290.96 459.32H296.41V464.76H290.96ZM296.41 461.06H300.76V462.15H296.41Z" fill="rgb(190,134,204)"/>
<path d="M241.11 482.83H246.77V485.00H241.11Z" fill="rgb(160,180,200)"/>
<path d="M241.11 485.00H246.77V519.80H241.11ZM246.77 485.00H248.51V519.80H246.77ZM248.51 482.83H252.87V519.80H248.51ZM252.87 482.83H258.31V519.80H252.87ZM258.31 482.83H261.58V519.80H258.31ZM261.58 480.65H263.75V519.80H261.58ZM263.75 480.65H265.93V519.80H263.75ZM265.93 480.65H268.11V519.80H265.93ZM268.11 480.65H272.46V519.80H268.11ZM272.46 480.65H273.55V519.80H272.46ZM273.55 480.65H274.64V519.80H273.55ZM274.64 478.47H282.26V519.80H274.64ZM282.26 478.47H287.70V519.80H282.26ZM287.70 476.30H289.88V519.80H287.70ZM289.88 476.30H290.96V519.80H289.88ZM290.96 476.30H296.41V519.80H290.96ZM296.41 474.12H300.76V519.80H296.41ZM300.76 474.12H306.20V519.80H300.76ZM306.20 474.12H307.29V519.80H306.20ZM307.29 470.85H312.73V519.80H307.29ZM312.73 471.94H316.00V519.80H312.73ZM316.00 478.47H317.09V519.80H316.00ZM317.09 478.47H320.35V519.80H317.09ZM320.35 478.47H321.44V519.80H320.35ZM321.44 478.47H326.88V519.80H321.44Z" fill="rgb(118,185,178)"/>
<path d="M246.77 474.12H248.51V482.83H246.77ZM248.51 474.12H252.87V480.65H248.51ZM252.87 470.85H258.31V480.65H252.87ZM258.31 466.06H261.58V480.65H258.31ZM261.58 466.06H263.75V480.65H261.58ZM263.75 466.06H265.93V477.38H263.75ZM265.93 464.32H268.11V477.38H265.93ZM268.11 464.32H272.46V477.38H268.11ZM272.46 464.32H273.55V477.38H272.46ZM273.55 467.59H274.64V477.38H273.55ZM274.64 467.59H282.26V473.03H274.64ZM282.26 466.06H287.70V473.03H282.26ZM287.70 466.06H289.88V470.85H287.70ZM289.88 466.06H290.96V470.85H289.88ZM290.96 464.76H296.41V470.85H290.96ZM296.41 462.15H300.76V468.68H296.41ZM300.76 461.06H306.20V468.68H300.76Z" fill="rgb(205,110,110)"/>
<path d="M246.77 482.83H248.51V485.00H246.77ZM248.51 480.65H252.87V482.83H248.51ZM252.87 480.65H258.31V482.83H252.87ZM258.31 480.65H261.58V482.83H258.31ZM263.75 477.38H265.93V480.65H263.75ZM265.93 477.38H268.11V480.65H265.93ZM268.11 477.38H272.46V480.65H268.11ZM272.46 477.38H273.55V480.65H272.46ZM273.55 477.38H274.64V480.65H273.55ZM274.64 473.03H282.26V478.47H274.64ZM282.26 473.03H287.70V478.47H282.26ZM287.70 470.85H289.88V476.30H287.70ZM289.88 470.85H290.96V476.30H289.88ZM290.96 470.85H296.41V476.30H290.96ZM296.41 468.68H300.76V474.12H296.41ZM300.76 468.68H306.20V474.12H300.76ZM306.20 470.85H307.29V474.12H306.20Z" fill="rgb(180,195,170)"/>
<path d="M300.76 456.05H306.20V461.06H300.76ZM306.20 458.23H307.29V470.85H306.20ZM307.29 458.23H312.73V464.32H307.29ZM312.73 458.23H316.00V464.32H312.73ZM316.00 462.15H317.09V464.32H316.00ZM317.09 462.15H320.35V462.58H317.09Z" fill="rgb(245,168,82)"/>
<path d="M307.29 464.32H312.73V470.85H307.29ZM312.73 464.32H316.00V470.85H312.73ZM316.00 464.32H317.09V470.85H316.00ZM317.09 462.58H320.35V476.30H317.09ZM320.35 470.85H321.44V476.30H320.35ZM321.44 470.85H326.88V476.30H321.44Z" fill="rgb(160,154,148)"/>
<path d="M312.73 470.85H316.00V471.94H312.73ZM316.00 470.85H317.09V478.47H316.00ZM317.09 476.30H320.35V478.47H317.09ZM320.35 476.30H321.44V478.47H320.35ZM321.44 476.30H326.88V478.47H321.44ZM326.88 485.00H332.32V519.80H326.88ZM332.32 510.04H333.41V519.80H332.32Z" fill="rgb(125,185,170)"/>
<path d="M320.35 462.58H321.44V470.85H320.35ZM321.44 465.41H326.88V470.85H321.44ZM326.88 480.65H332.32V485.00H326.88Z" fill="rgb(122,168,215)"/>
<path d="M332.32 485.00H333.41V510.04H332.32Z" fill="rgb(120,210,203)"/>
<path d="M333.41 488.70H335.59V510.04H333.41ZM335.59 488.70H338.86V519.80H335.59ZM338.86 502.42H345.39V519.80H338.86ZM345.39 510.04H351.92V519.80H345.39Z" fill="rgb(163,247,222)"/>
<path d="M333.41 510.04H335.59V519.80H333.41Z" fill="rgb(170,195,160)"/>
<path d="M241.11 519.80V485.00H246.77V474.12H252.87V470.85H258.31V466.06H265.93V464.32H273.55V467.59H282.26V466.06H290.96V464.76H296.41V462.15H300.76V456.05H306.20V458.23H316.00V462.15H320.35V470.85H326.88V485.00H332.32V510.04H335.59V519.80" fill="none" stroke="#000" stroke-width="1.1" stroke-opacity="0.85"/>
<path d="M241.11 519.80V485.00H248.51V482.83H261.58V480.65H274.64V478.47H287.70V476.30H296.41V474.12H307.29V464.32H317.09V462.58H321.44V465.41H326.88V480.65H332.32V485.00H333.41V519.80" fill="none" stroke="#000" stroke-width="1.1" stroke-opacity="0.85"/>
<path d="M241.11 519.80V465.41H246.77V463.89H258.31V455.61H263.75V454.53H268.11V456.70H272.46V458.88H282.26V458.88H289.88V459.32H296.41V461.06H306.20V470.85H312.73V471.94H316.00V478.47H326.88V519.80" fill="none" stroke="#000" stroke-width="1.1" stroke-opacity="0.85"/>
<path d="M241.11 519.80V482.83H248.51V480.65H263.75V477.38H274.64V473.03H287.70V470.85H296.41V468.68H306.20V470.85H317.09V476.30H326.88V485.00H333.41V488.70H338.86V502.42H345.39V510.04H351.92V519.80" fill="none" stroke="#000" stroke-width="1.1" stroke-opacity="0.85"/>
<line x1="258.31" y1="448.2" x2="258.31" y2="519.8" stroke="#000" stroke-width="1.5" stroke-dasharray="6.6 7.9" stroke-dashoffset="7.0"/>
<line x1="289.44" y1="448.2" x2="289.44" y2="519.8" stroke="#7a7a7a" stroke-width="2"/>
<line x1="316.65" y1="448.2" x2="316.65" y2="519.8" stroke="#000" stroke-width="1.5" stroke-dasharray="6.6 7.9" stroke-dashoffset="7.0"/>
<text x="241.10" y="532.40" font-size="9.95" text-anchor="middle" textLength="18.87" lengthAdjust="spacingAndGlyphs" stroke="#000" stroke-width="0.2" fill="#000">−12</text>
<text x="262.98" y="532.40" font-size="9.95" text-anchor="middle" textLength="18.87" lengthAdjust="spacingAndGlyphs" stroke="#000" stroke-width="0.2" fill="#000">−10</text>
<text x="284.87" y="532.40" font-size="9.95" text-anchor="middle" textLength="13.18" lengthAdjust="spacingAndGlyphs" stroke="#000" stroke-width="0.2" fill="#000">−8</text>
<text x="306.75" y="532.40" font-size="9.95" text-anchor="middle" textLength="13.18" lengthAdjust="spacingAndGlyphs" stroke="#000" stroke-width="0.2" fill="#000">−6</text>
<text x="328.63" y="532.40" font-size="9.95" text-anchor="middle" textLength="13.18" lengthAdjust="spacingAndGlyphs" stroke="#000" stroke-width="0.2" fill="#000">−4</text>
<text x="350.52" y="532.40" font-size="9.95" text-anchor="middle" textLength="13.18" lengthAdjust="spacingAndGlyphs" stroke="#000" stroke-width="0.2" fill="#000">−2</text>
<text x="372.40" y="532.40" font-size="9.95" text-anchor="middle" textLength="5.69" lengthAdjust="spacingAndGlyphs" stroke="#000" stroke-width="0.2" fill="#000">0</text>
<path d="M241.10 448.2v3M241.10 519.8v-3M262.98 448.2v3M262.98 519.8v-3M284.87 448.2v3M284.87 519.8v-3M306.75 448.2v3M306.75 519.8v-3M328.63 448.2v3M328.63 519.8v-3M350.52 448.2v3M350.52 519.8v-3M372.40 448.2v3M372.40 519.8v-3" stroke="#000" stroke-width="0.9"/>
<rect x="241.1" y="448.2" width="131.3" height="71.6" fill="none" stroke="#000" stroke-width="1.3"/>
<text x="248.91" y="442.10" font-size="12.58" text-anchor="start" textLength="39.15" lengthAdjust="spacingAndGlyphs" stroke="#000" stroke-width="0.2" fill="#000">log CO</text>
<text x="288.07" y="442.10" font-size="12.58" text-anchor="start" textLength="51.28" lengthAdjust="spacingAndGlyphs" stroke="#000" stroke-width="0.2" fill="#000"> = −7.61</text>
<text x="340.35" y="437.20" font-size="8.80" text-anchor="start" textLength="24.24" lengthAdjust="spacingAndGlyphs" stroke="#000" stroke-width="0.2" fill="#000">+2.53</text>
<text x="340.35" y="445.40" font-size="8.80" text-anchor="start" textLength="24.24" lengthAdjust="spacingAndGlyphs" stroke="#000" stroke-width="0.2" fill="#000">−2.83</text>
<path d="M416.21 512.21H422.53V519.80H416.21ZM422.53 510.04H438.85V519.80H422.53ZM438.85 511.13H453.00V519.80H438.85ZM453.00 512.21H469.33V519.80H453.00ZM469.33 513.96H478.04V519.80H469.33ZM478.04 513.96H484.57V519.18H478.04ZM484.57 514.83H485.00V519.18H484.57ZM504.16 517.00H519.40V519.80H504.16ZM519.40 517.66H536.81V519.80H519.40ZM536.81 518.31H542.91V519.80H536.81Z" fill="rgb(190,134,204)"/>
<path d="M478.04 519.18H484.57V519.80H478.04ZM484.57 519.18H485.00V519.80H484.57ZM485.00 514.83H491.53V519.80H485.00ZM491.53 514.83H497.63V519.80H491.53ZM497.63 514.83H504.16V519.80H497.63Z" fill="rgb(205,110,110)"/>
<path d="M485.00 473.03H491.53V514.83H485.00ZM491.53 454.53H497.63V514.83H491.53ZM497.63 514.39H504.16V514.83H497.63Z" fill="rgb(245,168,82)"/>
<path d="M478.04 519.80V519.18H485.00V473.03H491.53V454.53H497.63V514.39H504.16V519.80" fill="none" stroke="#000" stroke-width="1.1" stroke-opacity="0.85"/>
<path d="M416.21 519.80V512.21H422.53V510.04H438.85V511.13H453.00V512.21H469.33V513.96H484.57V514.83H504.16V517.00H519.40V517.66H536.81V518.31H542.91V519.80" fill="none" stroke="#000" stroke-width="1.1" stroke-opacity="0.85"/>
<line x1="488.92" y1="448.2" x2="488.92" y2="519.8" stroke="#000" stroke-width="1.5" stroke-dasharray="6.6 7.9" stroke-dashoffset="7.0"/>
<line x1="492.62" y1="448.2" x2="492.62" y2="519.8" stroke="#7a7a7a" stroke-width="2"/>
<line x1="495.89" y1="448.2" x2="495.89" y2="519.8" stroke="#000" stroke-width="1.5" stroke-dasharray="6.6 7.9" stroke-dashoffset="7.0"/>
<text x="416.20" y="532.40" font-size="9.95" text-anchor="middle" textLength="18.87" lengthAdjust="spacingAndGlyphs" stroke="#000" stroke-width="0.2" fill="#000">−30</text>
<text x="438.08" y="532.40" font-size="9.95" text-anchor="middle" textLength="18.87" lengthAdjust="spacingAndGlyphs" stroke="#000" stroke-width="0.2" fill="#000">−25</text>
<text x="459.97" y="532.40" font-size="9.95" text-anchor="middle" textLength="18.87" lengthAdjust="spacingAndGlyphs" stroke="#000" stroke-width="0.2" fill="#000">−20</text>
<text x="481.85" y="532.40" font-size="9.95" text-anchor="middle" textLength="18.87" lengthAdjust="spacingAndGlyphs" stroke="#000" stroke-width="0.2" fill="#000">−15</text>
<text x="503.73" y="532.40" font-size="9.95" text-anchor="middle" textLength="18.87" lengthAdjust="spacingAndGlyphs" stroke="#000" stroke-width="0.2" fill="#000">−10</text>
<text x="525.62" y="532.40" font-size="9.95" text-anchor="middle" textLength="13.18" lengthAdjust="spacingAndGlyphs" stroke="#000" stroke-width="0.2" fill="#000">−5</text>
<text x="547.50" y="532.40" font-size="9.95" text-anchor="middle" textLength="5.69" lengthAdjust="spacingAndGlyphs" stroke="#000" stroke-width="0.2" fill="#000">0</text>
<path d="M416.20 448.2v3M416.20 519.8v-3M438.08 448.2v3M438.08 519.8v-3M459.97 448.2v3M459.97 519.8v-3M481.85 448.2v3M481.85 519.8v-3M503.73 448.2v3M503.73 519.8v-3M525.62 448.2v3M525.62 519.8v-3M547.50 448.2v3M547.50 519.8v-3" stroke="#000" stroke-width="0.9"/>
<rect x="416.2" y="448.2" width="131.3" height="71.6" fill="none" stroke="#000" stroke-width="1.3"/>
<text x="416.55" y="442.10" font-size="12.58" text-anchor="start" textLength="41.86" lengthAdjust="spacingAndGlyphs" stroke="#000" stroke-width="0.2" fill="#000">log SiO</text>
<text x="458.41" y="444.70" font-size="8.80" text-anchor="start" textLength="5.03" lengthAdjust="spacingAndGlyphs" stroke="#000" stroke-width="0.2" fill="#000">2</text>
<text x="463.44" y="442.10" font-size="12.58" text-anchor="start" textLength="58.47" lengthAdjust="spacingAndGlyphs" stroke="#000" stroke-width="0.2" fill="#000"> = −12.55</text>
<text x="522.91" y="437.20" font-size="8.80" text-anchor="start" textLength="24.24" lengthAdjust="spacingAndGlyphs" stroke="#000" stroke-width="0.2" fill="#000">+0.75</text>
<text x="522.91" y="445.40" font-size="8.80" text-anchor="start" textLength="24.24" lengthAdjust="spacingAndGlyphs" stroke="#000" stroke-width="0.2" fill="#000">−0.69</text>
<path d="M591.11 516.80H607.65V519.80H591.11ZM607.65 515.93H627.25V519.80H607.65ZM627.25 515.28H635.95V519.80H627.25ZM689.29 482.63H697.99V503.31H689.29ZM697.99 482.63H699.08V513.10H697.99ZM699.08 484.15H707.79V513.10H699.08ZM707.79 494.16H716.50V516.80H707.79ZM716.50 494.16H717.59V519.80H716.50ZM717.59 507.22H722.59V519.80H717.59Z" fill="rgb(163,247,222)"/>
<path d="M635.95 514.19H644.66V514.63H635.95ZM644.66 500.04H653.37V513.10H644.66ZM653.37 500.04H653.80V508.75H653.37ZM653.80 475.44H662.08V508.75H653.80ZM662.08 475.44H663.16V502.22H662.08ZM663.16 454.33H670.78V502.22H663.16ZM670.78 459.77H680.58V491.33H670.78ZM680.58 483.71H689.29V484.80H680.58Z" fill="rgb(122,168,215)"/>
<path d="M635.95 514.63H644.66V519.80H635.95ZM644.66 513.10H653.37V519.80H644.66ZM653.37 508.75H653.80V519.80H653.37ZM653.80 508.75H662.08V519.80H653.80ZM662.08 502.22H663.16V519.80H662.08ZM663.16 502.22H670.78V519.80H663.16ZM670.78 491.33H680.58V519.80H670.78ZM680.58 484.80H689.29V519.80H680.58ZM689.29 503.31H697.99V519.80H689.29ZM697.99 513.10H699.08V519.80H697.99ZM699.08 513.10H707.79V519.80H699.08ZM707.79 516.80H716.50V519.80H707.79Z" fill="rgb(120,210,203)"/>
<path d="M635.95 519.80V514.19H644.66V500.04H653.80V475.44H663.16V454.33H670.78V459.77H680.58V483.71H689.29V503.31H697.99V513.10H707.79V516.80H716.50V519.80" fill="none" stroke="#000" stroke-width="1.1" stroke-opacity="0.85"/>
<path d="M591.11 519.80V516.80H607.65V515.93H627.24V515.28H635.95V514.63H644.66V513.10H653.37V508.75H662.07V502.22H670.78V491.33H680.58V484.80H689.29V482.63H699.08V484.15H707.79V494.16H717.59V507.22H722.59V519.80" fill="none" stroke="#000" stroke-width="1.1" stroke-opacity="0.85"/>
<line x1="656.63" y1="448.2" x2="656.63" y2="519.8" stroke="#000" stroke-width="1.5" stroke-dasharray="6.6 7.9" stroke-dashoffset="7.0"/>
<line x1="670.35" y1="448.2" x2="670.35" y2="519.8" stroke="#7a7a7a" stroke-width="2"/>
<line x1="684.93" y1="448.2" x2="684.93" y2="519.8" stroke="#000" stroke-width="1.5" stroke-dasharray="6.6 7.9" stroke-dashoffset="7.0"/>
<text x="591.20" y="532.40" font-size="9.95" text-anchor="middle" textLength="18.87" lengthAdjust="spacingAndGlyphs" stroke="#000" stroke-width="0.2" fill="#000">−10</text>
<text x="609.96" y="532.40" font-size="9.95" text-anchor="middle" textLength="13.18" lengthAdjust="spacingAndGlyphs" stroke="#000" stroke-width="0.2" fill="#000">−9</text>
<text x="628.71" y="532.40" font-size="9.95" text-anchor="middle" textLength="13.18" lengthAdjust="spacingAndGlyphs" stroke="#000" stroke-width="0.2" fill="#000">−8</text>
<text x="647.47" y="532.40" font-size="9.95" text-anchor="middle" textLength="13.18" lengthAdjust="spacingAndGlyphs" stroke="#000" stroke-width="0.2" fill="#000">−7</text>
<text x="666.23" y="532.40" font-size="9.95" text-anchor="middle" textLength="13.18" lengthAdjust="spacingAndGlyphs" stroke="#000" stroke-width="0.2" fill="#000">−6</text>
<text x="684.99" y="532.40" font-size="9.95" text-anchor="middle" textLength="13.18" lengthAdjust="spacingAndGlyphs" stroke="#000" stroke-width="0.2" fill="#000">−5</text>
<text x="703.74" y="532.40" font-size="9.95" text-anchor="middle" textLength="13.18" lengthAdjust="spacingAndGlyphs" stroke="#000" stroke-width="0.2" fill="#000">−4</text>
<text x="722.50" y="532.40" font-size="9.95" text-anchor="middle" textLength="13.18" lengthAdjust="spacingAndGlyphs" stroke="#000" stroke-width="0.2" fill="#000">−3</text>
<path d="M591.20 448.2v3M591.20 519.8v-3M609.96 448.2v3M609.96 519.8v-3M628.71 448.2v3M628.71 519.8v-3M647.47 448.2v3M647.47 519.8v-3M666.23 448.2v3M666.23 519.8v-3M684.99 448.2v3M684.99 519.8v-3M703.74 448.2v3M703.74 519.8v-3M722.50 448.2v3M722.50 519.8v-3" stroke="#000" stroke-width="0.9"/>
<rect x="591.2" y="448.2" width="131.3" height="71.6" fill="none" stroke="#000" stroke-width="1.3"/>
<text x="584.63" y="442.10" font-size="12.58" text-anchor="start" textLength="41.86" lengthAdjust="spacingAndGlyphs" stroke="#000" stroke-width="0.2" fill="#000">log SiO</text>
<text x="626.49" y="444.70" font-size="8.80" text-anchor="start" textLength="26.07" lengthAdjust="spacingAndGlyphs" stroke="#000" stroke-width="0.2" fill="#000">2 base</text>
<text x="652.55" y="442.10" font-size="12.58" text-anchor="start" textLength="51.28" lengthAdjust="spacingAndGlyphs" stroke="#000" stroke-width="0.2" fill="#000"> = −5.75</text>
<text x="704.83" y="437.20" font-size="8.80" text-anchor="start" textLength="24.24" lengthAdjust="spacingAndGlyphs" stroke="#000" stroke-width="0.2" fill="#000">+0.77</text>
<text x="704.83" y="445.40" font-size="8.80" text-anchor="start" textLength="24.24" lengthAdjust="spacingAndGlyphs" stroke="#000" stroke-width="0.2" fill="#000">−0.72</text>
<path d="M119.13 630.98H126.75V631.20H119.13ZM126.75 628.37H132.19V631.20H126.75ZM132.19 624.01H136.54V631.20H132.19ZM153.52 619.22H155.05V624.01H153.52ZM155.05 619.22H158.31V631.20H155.05ZM158.31 621.84H164.84V631.20H158.31ZM164.84 627.28H172.46V631.20H164.84Z" fill="rgb(163,247,222)"/>
<path d="M136.54 621.84H137.63V624.01H136.54ZM138.29 597.89H138.72V621.84H138.29ZM138.72 597.89H139.59V619.66H138.72ZM139.59 582.65H139.81V619.66H139.59ZM139.81 582.65H140.90V610.95H139.81ZM140.90 567.41H141.99V610.95H140.90ZM141.99 567.41H143.07V593.54H141.99ZM143.07 566.33H144.16V593.54H143.07ZM144.16 582.65H145.25V584.83H144.16Z" fill="rgb(190,134,204)"/>
<path d="M136.54 624.01H137.63V631.20H136.54ZM138.72 619.66H139.59V621.84H138.72ZM139.59 619.66H139.81V621.84H139.59Z" fill="rgb(160,180,200)"/>
<path d="M137.63 621.84H138.29V624.01H137.63ZM138.29 621.84H138.72V624.01H138.29ZM139.81 610.95H140.90V619.66H139.81ZM140.90 610.95H141.99V619.66H140.90ZM141.99 593.54H143.07V619.66H141.99ZM143.07 593.54H144.16V619.66H143.07ZM144.16 584.83H145.25V604.42H144.16Z" fill="rgb(150,128,190)"/>
<path d="M137.63 624.01H138.29V631.20H137.63ZM138.29 624.01H138.72V631.20H138.29ZM138.72 621.84H139.59V631.20H138.72ZM139.59 621.84H139.81V631.20H139.59ZM139.81 619.66H140.90V631.20H139.81ZM140.90 619.66H141.99V631.20H140.90ZM141.99 619.66H143.07V621.84H141.99ZM143.07 619.66H144.16V621.84H143.07Z" fill="rgb(120,186,184)"/>
<path d="M141.99 621.84H143.07V631.20H141.99ZM143.07 621.84H144.16V631.20H143.07ZM144.16 619.66H145.25V631.20H144.16ZM145.25 619.66H145.69V631.20H145.25ZM145.69 619.66H146.34V631.20H145.69Z" fill="rgb(118,185,178)"/>
<path d="M144.16 604.42H145.25V619.66H144.16ZM145.25 615.31H145.69V619.66H145.25ZM145.69 615.31H146.34V619.66H145.69Z" fill="rgb(145,115,165)"/>
<path d="M145.25 584.83H145.69V604.42H145.25ZM145.69 588.10H146.34V604.42H145.69ZM146.34 588.10H146.99V589.18H146.34Z" fill="rgb(122,168,215)"/>
<path d="M145.25 604.42H145.69V615.31H145.25ZM145.69 604.42H146.34V615.31H145.69ZM146.34 589.18H146.99V619.66H146.34ZM146.99 613.13H148.52V619.66H146.99Z" fill="rgb(160,154,148)"/>
<path d="M146.34 619.66H146.99V631.20H146.34ZM146.99 619.66H148.52V631.20H146.99Z" fill="rgb(125,185,170)"/>
<path d="M146.99 589.18H148.52V613.13H146.99ZM148.52 593.54H149.60V619.66H148.52ZM149.60 593.54H150.04V619.22H149.60ZM150.04 602.24H151.78V619.22H150.04ZM151.78 615.31H153.52V619.22H151.78Z" fill="rgb(245,168,82)"/>
<path d="M148.52 619.66H149.60V631.20H148.52ZM149.60 619.22H150.04V631.20H149.60ZM150.04 619.22H151.78V631.20H150.04ZM151.78 619.22H153.52V631.20H151.78ZM153.52 624.01H155.05V631.20H153.52Z" fill="rgb(170,195,160)"/>
<path d="M141.99 631.20V621.84H144.16V604.42H146.34V589.18H148.52V593.54H150.04V602.24H151.78V615.31H153.52V624.01H155.05V631.20" fill="none" stroke="#000" stroke-width="1.1" stroke-opacity="0.85"/>
<path d="M137.63 631.20V621.84H139.81V610.95H141.99V593.54H144.16V584.83H145.69V588.10H146.99V613.13H148.52V631.20" fill="none" stroke="#000" stroke-width="1.1" stroke-opacity="0.85"/>
<path d="M136.54 631.20V621.84H138.29V597.89H139.59V582.65H140.90V567.41H143.07V566.33H144.16V582.65H145.25V615.31H146.34V631.20" fill="none" stroke="#000" stroke-width="1.1" stroke-opacity="0.85"/>
<path d="M119.13 631.20V630.98H126.75V628.37H132.19V624.01H138.72V619.66H149.61V619.22H158.31V621.84H164.84V627.28H172.46V631.20" fill="none" stroke="#000" stroke-width="1.1" stroke-opacity="0.85"/>
<line x1="148.08" y1="559.6" x2="148.08" y2="631.2" stroke="#7a7a7a" stroke-width="2"/>
<line x1="151.78" y1="559.6" x2="151.78" y2="631.2" stroke="#000" stroke-width="1.5" stroke-dasharray="6.6 7.9" stroke-dashoffset="7.0"/>
<text x="66.00" y="643.80" font-size="9.95" text-anchor="middle" textLength="18.87" lengthAdjust="spacingAndGlyphs" stroke="#000" stroke-width="0.2" fill="#000">−12</text>
<text x="87.88" y="643.80" font-size="9.95" text-anchor="middle" textLength="18.87" lengthAdjust="spacingAndGlyphs" stroke="#000" stroke-width="0.2" fill="#000">−10</text>
<text x="109.77" y="643.80" font-size="9.95" text-anchor="middle" textLength="13.18" lengthAdjust="spacingAndGlyphs" stroke="#000" stroke-width="0.2" fill="#000">−8</text>
<text x="131.65" y="643.80" font-size="9.95" text-anchor="middle" textLength="13.18" lengthAdjust="spacingAndGlyphs" stroke="#000" stroke-width="0.2" fill="#000">−6</text>
<text x="153.53" y="643.80" font-size="9.95" text-anchor="middle" textLength="13.18" lengthAdjust="spacingAndGlyphs" stroke="#000" stroke-width="0.2" fill="#000">−4</text>
<text x="175.42" y="643.80" font-size="9.95" text-anchor="middle" textLength="13.18" lengthAdjust="spacingAndGlyphs" stroke="#000" stroke-width="0.2" fill="#000">−2</text>
<text x="197.30" y="643.80" font-size="9.95" text-anchor="middle" textLength="5.69" lengthAdjust="spacingAndGlyphs" stroke="#000" stroke-width="0.2" fill="#000">0</text>
<path d="M66.00 559.6v3M66.00 631.2v-3M87.88 559.6v3M87.88 631.2v-3M109.77 559.6v3M109.77 631.2v-3M131.65 559.6v3M131.65 631.2v-3M153.53 559.6v3M153.53 631.2v-3M175.42 559.6v3M175.42 631.2v-3M197.30 559.6v3M197.30 631.2v-3" stroke="#000" stroke-width="0.9"/>
<rect x="66.0" y="559.6" width="131.3" height="71.6" fill="none" stroke="#000" stroke-width="1.3"/>
<text x="70.69" y="553.50" font-size="12.58" text-anchor="start" textLength="31.10" lengthAdjust="spacingAndGlyphs" stroke="#000" stroke-width="0.2" fill="#000">log H</text>
<text x="101.79" y="556.10" font-size="8.80" text-anchor="start" textLength="5.03" lengthAdjust="spacingAndGlyphs" stroke="#000" stroke-width="0.2" fill="#000">2</text>
<text x="106.82" y="553.50" font-size="12.58" text-anchor="start" textLength="9.26" lengthAdjust="spacingAndGlyphs" stroke="#000" stroke-width="0.2" fill="#000">O</text>
<text x="116.09" y="553.50" font-size="12.58" text-anchor="start" textLength="51.28" lengthAdjust="spacingAndGlyphs" stroke="#000" stroke-width="0.2" fill="#000"> = −4.53</text>
<text x="168.37" y="548.60" font-size="8.80" text-anchor="start" textLength="24.24" lengthAdjust="spacingAndGlyphs" stroke="#000" stroke-width="0.2" fill="#000">+0.37</text>
<text x="168.37" y="556.80" font-size="8.80" text-anchor="start" textLength="24.24" lengthAdjust="spacingAndGlyphs" stroke="#000" stroke-width="0.2" fill="#000">−0.36</text>
<path d="M241.32 584.83H245.24V603.33H241.32ZM245.24 582.65H247.41V603.33H245.24ZM247.41 582.65H249.59V600.07H247.41ZM249.59 582.65H251.77V600.07H249.59ZM251.77 582.65H258.30V600.07H251.77ZM258.30 582.22H262.65V596.80H258.30ZM262.65 582.22H269.18V596.80H262.65ZM269.18 584.83H271.36V596.80H269.18ZM271.36 584.83H272.45V596.80H271.36ZM272.45 584.83H273.54V596.80H272.45ZM273.54 584.83H280.07V594.63H273.54ZM280.07 582.65H287.69V594.63H280.07ZM287.69 582.65H288.78V594.63H287.69ZM288.78 582.65H290.95V596.80H288.78ZM290.95 582.65H293.13V596.80H290.95ZM293.13 595.71H299.66V596.80H293.13Z" fill="rgb(145,115,165)"/>
<path d="M241.32 603.33H245.24V631.20H241.32ZM245.24 603.33H247.41V631.20H245.24ZM247.41 600.07H249.59V631.20H247.41ZM249.59 600.07H251.77V631.20H249.59ZM251.77 600.07H258.30V631.20H251.77ZM258.30 596.80H262.65V631.20H258.30ZM262.65 596.80H269.18V631.20H262.65ZM269.18 596.80H271.36V631.20H269.18ZM271.36 596.80H272.45V631.20H271.36ZM272.45 596.80H273.54V631.20H272.45ZM273.54 594.63H280.07V631.20H273.54ZM280.07 594.63H287.69V631.20H280.07ZM287.69 594.63H288.78V631.20H287.69ZM288.78 596.80H290.95V631.20H288.78ZM290.95 596.80H293.13V631.20H290.95ZM293.13 596.80H299.66V631.20H293.13ZM299.66 615.31H302.93V631.20H299.66ZM302.93 615.31H304.01V631.20H302.93ZM304.01 627.28H305.10V631.20H304.01Z" fill="rgb(118,185,178)"/>
<path d="M245.24 576.12H247.41V582.65H245.24ZM247.41 576.12H249.59V582.65H247.41ZM249.59 576.12H251.77V582.65H249.59ZM251.77 572.86H258.30V582.65H251.77ZM258.30 572.86H262.65V582.22H258.30ZM262.65 571.77H269.18V582.22H262.65ZM269.18 571.77H271.36V584.83H269.18ZM271.36 571.77H272.45V584.83H271.36ZM272.45 570.68H273.54V584.83H272.45ZM273.54 570.68H280.07V584.83H273.54ZM280.07 572.86H287.69V582.65H280.07ZM287.69 572.86H288.78V582.65H287.69ZM288.78 572.86H290.95V582.65H288.78ZM290.95 577.21H293.13V582.65H290.95Z" fill="rgb(205,110,110)"/>
<path d="M249.59 566.98H251.77V576.12H249.59ZM251.77 566.98H258.30V572.86H251.77ZM258.30 566.98H262.65V572.86H258.30ZM262.65 566.98H269.18V571.77H262.65ZM269.18 566.98H271.36V571.77H269.18ZM271.36 570.68H272.45V571.77H271.36ZM290.95 572.86H293.13V577.21H290.95Z" fill="rgb(245,168,82)"/>
<path d="M280.07 569.16H287.69V572.86H280.07ZM287.69 570.03H288.78V572.86H287.69ZM288.78 570.03H290.95V572.86H288.78ZM293.13 577.21H299.66V595.71H293.13ZM299.66 589.18H302.93V596.80H299.66Z" fill="rgb(190,134,204)"/>
<path d="M299.66 596.80H302.93V615.31H299.66ZM302.93 596.80H304.01V615.31H302.93ZM304.01 596.80H305.10V627.28H304.01Z" fill="rgb(120,186,184)"/>
<path d="M305.10 596.80H306.19V602.24H305.10ZM306.19 600.50H307.28V602.24H306.19ZM307.28 600.50H311.63V613.13H307.28ZM311.63 600.50H315.99V620.75H311.63ZM315.99 600.50H319.25V627.28H315.99ZM319.25 602.24H320.34V627.28H319.25ZM320.34 602.24H321.43V627.28H320.34ZM321.43 602.24H325.78V631.20H321.43ZM325.78 604.42H338.84V631.20H325.78ZM338.84 606.60H345.37V631.20H338.84ZM345.37 620.75H351.90V631.20H345.37Z" fill="rgb(163,247,222)"/>
<path d="M305.10 602.24H306.19V627.28H305.10ZM306.19 602.24H307.28V627.28H306.19ZM307.28 613.13H311.63V627.28H307.28ZM311.63 620.75H315.99V627.28H311.63Z" fill="rgb(120,210,203)"/>
<path d="M305.10 627.28H306.19V631.20H305.10ZM306.19 627.28H307.28V631.20H306.19ZM307.28 627.28H311.63V631.20H307.28ZM311.63 627.28H315.99V631.20H311.63ZM315.99 627.28H319.25V631.20H315.99ZM319.25 627.28H320.34V631.20H319.25Z" fill="rgb(125,185,170)"/>
<path d="M320.34 627.28H321.43V631.20H320.34Z" fill="rgb(170,195,160)"/>
<path d="M241.32 631.20V584.83H245.24V576.12H249.59V566.98H271.36V570.68H280.07V572.86H293.13V595.71H299.66V615.31H304.01V627.28H321.43V631.20" fill="none" stroke="#000" stroke-width="1.1" stroke-opacity="0.85"/>
<path d="M241.32 631.20V584.83H245.24V582.65H258.30V582.22H269.18V584.83H280.07V582.65H293.13V595.71H299.66V596.80H305.10V602.24H307.28V613.13H311.63V620.75H315.99V627.28H320.34V631.20" fill="none" stroke="#000" stroke-width="1.1" stroke-opacity="0.85"/>
<path d="M241.32 631.20V584.83H245.24V576.12H251.77V572.86H262.65V571.77H272.45V570.68H280.07V569.16H287.69V570.03H290.95V577.21H299.66V589.18H302.93V596.80H305.10V631.20" fill="none" stroke="#000" stroke-width="1.1" stroke-opacity="0.85"/>
<path d="M241.32 631.20V603.33H247.41V600.07H258.30V596.80H273.54V594.63H288.78V596.80H304.01V596.80H306.19V600.50H319.25V602.24H325.78V604.42H338.84V606.60H345.37V620.75H351.90V631.20" fill="none" stroke="#000" stroke-width="1.1" stroke-opacity="0.85"/>
<line x1="252.42" y1="559.6" x2="252.42" y2="631.2" stroke="#000" stroke-width="1.5" stroke-dasharray="6.6 7.9" stroke-dashoffset="7.0"/>
<line x1="271.80" y1="559.6" x2="271.80" y2="631.2" stroke="#7a7a7a" stroke-width="2"/>
<line x1="292.69" y1="559.6" x2="292.69" y2="631.2" stroke="#000" stroke-width="1.5" stroke-dasharray="6.6 7.9" stroke-dashoffset="7.0"/>
<text x="241.10" y="643.80" font-size="9.95" text-anchor="middle" textLength="18.87" lengthAdjust="spacingAndGlyphs" stroke="#000" stroke-width="0.2" fill="#000">−12</text>
<text x="262.98" y="643.80" font-size="9.95" text-anchor="middle" textLength="18.87" lengthAdjust="spacingAndGlyphs" stroke="#000" stroke-width="0.2" fill="#000">−10</text>
<text x="284.87" y="643.80" font-size="9.95" text-anchor="middle" textLength="13.18" lengthAdjust="spacingAndGlyphs" stroke="#000" stroke-width="0.2" fill="#000">−8</text>
<text x="306.75" y="643.80" font-size="9.95" text-anchor="middle" textLength="13.18" lengthAdjust="spacingAndGlyphs" stroke="#000" stroke-width="0.2" fill="#000">−6</text>
<text x="328.63" y="643.80" font-size="9.95" text-anchor="middle" textLength="13.18" lengthAdjust="spacingAndGlyphs" stroke="#000" stroke-width="0.2" fill="#000">−4</text>
<text x="350.52" y="643.80" font-size="9.95" text-anchor="middle" textLength="13.18" lengthAdjust="spacingAndGlyphs" stroke="#000" stroke-width="0.2" fill="#000">−2</text>
<text x="372.40" y="643.80" font-size="9.95" text-anchor="middle" textLength="5.69" lengthAdjust="spacingAndGlyphs" stroke="#000" stroke-width="0.2" fill="#000">0</text>
<path d="M241.10 559.6v3M241.10 631.2v-3M262.98 559.6v3M262.98 631.2v-3M284.87 559.6v3M284.87 631.2v-3M306.75 559.6v3M306.75 631.2v-3M328.63 559.6v3M328.63 631.2v-3M350.52 559.6v3M350.52 631.2v-3M372.40 559.6v3M372.40 631.2v-3" stroke="#000" stroke-width="0.9"/>
<rect x="241.1" y="559.6" width="131.3" height="71.6" fill="none" stroke="#000" stroke-width="1.3"/>
<text x="249.56" y="553.50" font-size="12.58" text-anchor="start" textLength="37.87" lengthAdjust="spacingAndGlyphs" stroke="#000" stroke-width="0.2" fill="#000">log Na</text>
<text x="287.42" y="553.50" font-size="12.58" text-anchor="start" textLength="51.28" lengthAdjust="spacingAndGlyphs" stroke="#000" stroke-width="0.2" fill="#000"> = −9.20</text>
<text x="339.70" y="548.60" font-size="8.80" text-anchor="start" textLength="24.24" lengthAdjust="spacingAndGlyphs" stroke="#000" stroke-width="0.2" fill="#000">+1.91</text>
<text x="339.70" y="556.80" font-size="8.80" text-anchor="start" textLength="24.24" lengthAdjust="spacingAndGlyphs" stroke="#000" stroke-width="0.2" fill="#000">−1.80</text>
<path d="M416.01 624.45H422.33V631.20H416.01ZM422.33 624.45H427.77V630.11H422.33ZM427.77 623.58H441.92V630.11H427.77ZM462.16 624.01H481.10V631.20H462.16ZM481.10 625.76H497.43V631.20H481.10ZM497.43 626.63H514.84V631.20H497.43ZM514.84 626.19H527.90V631.20H514.84ZM527.90 627.28H536.61V631.20H527.90ZM536.61 627.93H547.06V631.20H536.61Z" fill="rgb(190,134,204)"/>
<path d="M422.33 630.11H427.77V631.20H422.33ZM427.77 630.11H441.92V631.20H427.77ZM441.92 622.93H448.45V631.20H441.92ZM448.45 622.93H456.50V631.20H448.45ZM456.50 622.93H461.51V631.20H456.50ZM461.51 624.01H462.16V631.20H461.51Z" fill="rgb(205,110,110)"/>
<path d="M441.92 606.16H448.45V622.93H441.92ZM448.45 566.33H456.50V622.93H448.45ZM456.50 606.16H461.51V622.93H456.50ZM461.51 606.16H462.16V624.01H461.51Z" fill="rgb(245,168,82)"/>
<path d="M422.33 631.20V630.11H441.92V606.16H448.45V566.33H456.50V606.16H462.16V631.20" fill="none" stroke="#000" stroke-width="1.1" stroke-opacity="0.85"/>
<path d="M416.01 631.20V624.45H427.77V623.58H441.92V622.93H461.51V624.01H481.10V625.76H497.43V626.63H514.84V626.19H527.90V627.28H536.61V627.93H547.06V631.20" fill="none" stroke="#000" stroke-width="1.1" stroke-opacity="0.85"/>
<line x1="446.93" y1="559.6" x2="446.93" y2="631.2" stroke="#000" stroke-width="1.5" stroke-dasharray="6.6 7.9" stroke-dashoffset="7.0"/>
<line x1="451.71" y1="559.6" x2="451.71" y2="631.2" stroke="#7a7a7a" stroke-width="2"/>
<line x1="456.07" y1="559.6" x2="456.07" y2="631.2" stroke="#000" stroke-width="1.5" stroke-dasharray="6.6 7.9" stroke-dashoffset="7.0"/>
<text x="416.20" y="643.80" font-size="9.95" text-anchor="middle" textLength="13.18" lengthAdjust="spacingAndGlyphs" stroke="#000" stroke-width="0.2" fill="#000">−3</text>
<text x="449.02" y="643.80" font-size="9.95" text-anchor="middle" textLength="13.18" lengthAdjust="spacingAndGlyphs" stroke="#000" stroke-width="0.2" fill="#000">−2</text>
<text x="481.85" y="643.80" font-size="9.95" text-anchor="middle" textLength="13.18" lengthAdjust="spacingAndGlyphs" stroke="#000" stroke-width="0.2" fill="#000">−1</text>
<text x="514.67" y="643.80" font-size="9.95" text-anchor="middle" textLength="5.69" lengthAdjust="spacingAndGlyphs" stroke="#000" stroke-width="0.2" fill="#000">0</text>
<text x="547.50" y="643.80" font-size="9.95" text-anchor="middle" textLength="5.69" lengthAdjust="spacingAndGlyphs" stroke="#000" stroke-width="0.2" fill="#000">1</text>
<path d="M416.20 559.6v3M416.20 631.2v-3M449.02 559.6v3M449.02 631.2v-3M481.85 559.6v3M481.85 631.2v-3M514.67 559.6v3M514.67 631.2v-3M547.50 559.6v3M547.50 631.2v-3" stroke="#000" stroke-width="0.9"/>
<rect x="416.2" y="559.6" width="131.3" height="71.6" fill="none" stroke="#000" stroke-width="1.3"/>
<text x="411.90" y="553.50" font-size="12.58" text-anchor="start" textLength="26.64" lengthAdjust="spacingAndGlyphs" stroke="#000" stroke-width="0.2" fill="#000">log r</text>
<text x="438.54" y="556.10" font-size="8.80" text-anchor="start" textLength="7.50" lengthAdjust="spacingAndGlyphs" stroke="#000" stroke-width="0.2" fill="#000">m</text>
<text x="446.04" y="553.50" font-size="12.58" text-anchor="start" textLength="24.21" lengthAdjust="spacingAndGlyphs" stroke="#000" stroke-width="0.2" fill="#000"> SiO</text>
<text x="470.25" y="556.10" font-size="8.80" text-anchor="start" textLength="5.03" lengthAdjust="spacingAndGlyphs" stroke="#000" stroke-width="0.2" fill="#000">2</text>
<text x="475.28" y="553.50" font-size="12.58" text-anchor="start" textLength="51.28" lengthAdjust="spacingAndGlyphs" stroke="#000" stroke-width="0.2" fill="#000"> = −1.91</text>
<text x="527.56" y="548.60" font-size="8.80" text-anchor="start" textLength="24.24" lengthAdjust="spacingAndGlyphs" stroke="#000" stroke-width="0.2" fill="#000">+0.14</text>
<text x="527.56" y="556.80" font-size="8.80" text-anchor="start" textLength="24.24" lengthAdjust="spacingAndGlyphs" stroke="#000" stroke-width="0.2" fill="#000">−0.16</text>
<path d="M591.11 590.27H596.77V619.66H591.11ZM596.77 576.56H598.95V619.66H596.77ZM598.95 576.56H604.39V609.86H598.95ZM604.39 566.33H609.83V601.16H604.39ZM609.83 572.86H610.92V601.16H609.83ZM610.92 572.86H616.80V593.54H610.92ZM616.80 584.83H617.45V593.54H616.80ZM617.45 584.83H623.33V589.18H617.45Z" fill="rgb(122,168,215)"/>
<path d="M591.11 619.66H596.77V631.20H591.11ZM596.77 619.66H598.95V631.20H596.77ZM598.95 609.86H604.39V631.20H598.95ZM604.39 601.16H609.83V631.20H604.39ZM609.83 601.16H610.92V631.20H609.83ZM610.92 593.54H616.80V631.20H610.92ZM616.80 593.54H617.45V631.20H616.80ZM617.45 589.18H623.33V631.20H617.45ZM623.33 590.27H623.98V631.20H623.33ZM623.98 590.27H630.51V631.20H623.98ZM630.51 607.69H637.04V631.20H630.51ZM637.04 615.31H638.13V631.20H637.04ZM638.13 615.31H644.22V631.20H638.13ZM644.22 615.31H644.66V631.20H644.22ZM644.66 620.10H650.10V631.20H644.66ZM650.10 623.58H656.63V631.20H650.10ZM656.63 627.28H663.16V631.20H656.63ZM663.16 627.28H664.25V631.20H663.16ZM664.25 629.46H670.78V631.20H664.25ZM670.78 630.98H677.31V631.20H670.78Z" fill="rgb(120,210,203)"/>
<path d="M623.33 589.18H623.98V590.27H623.33ZM623.98 588.10H630.51V590.27H623.98ZM630.51 591.80H637.04V607.69H630.51ZM637.04 591.80H638.13V615.31H637.04ZM638.13 597.46H644.22V615.31H638.13ZM644.22 603.33H644.66V615.31H644.22ZM644.66 603.33H650.10V620.10H644.66ZM650.10 612.04H656.63V623.58H650.10ZM656.63 619.22H663.16V627.28H656.63ZM663.16 621.84H664.25V627.28H663.16ZM664.25 621.84H670.78V629.46H664.25ZM670.78 625.10H677.31V630.98H670.78ZM677.31 625.10H679.49V631.20H677.31ZM679.49 626.19H689.29V631.20H679.49ZM689.29 625.76H703.43V631.20H689.29ZM703.43 626.63H714.32V631.20H703.43ZM714.32 627.93H722.59V631.20H714.32Z" fill="rgb(163,247,222)"/>
<path d="M591.11 631.20V590.27H596.77V576.56H604.39V566.33H609.83V572.86H616.80V584.83H623.33V590.27H630.51V607.69H637.04V615.31H644.66V620.10H650.10V623.58H656.63V627.28H664.25V629.46H670.78V630.98H677.31V631.20" fill="none" stroke="#000" stroke-width="1.1" stroke-opacity="0.85"/>
<path d="M591.11 631.20V619.66H598.95V609.86H604.39V601.16H610.92V593.54H617.45V589.18H623.98V588.10H630.51V591.80H638.13V597.46H644.22V603.33H650.10V612.04H656.63V619.22H663.16V621.84H670.78V625.10H679.49V626.19H689.29V625.76H703.44V626.63H714.32V627.93H722.59V631.20" fill="none" stroke="#000" stroke-width="1.1" stroke-opacity="0.85"/>
<line x1="600.03" y1="559.6" x2="600.03" y2="631.2" stroke="#000" stroke-width="1.5" stroke-dasharray="6.6 7.9" stroke-dashoffset="7.0"/>
<line x1="613.10" y1="559.6" x2="613.10" y2="631.2" stroke="#7a7a7a" stroke-width="2"/>
<line x1="633.78" y1="559.6" x2="633.78" y2="631.2" stroke="#000" stroke-width="1.5" stroke-dasharray="6.6 7.9" stroke-dashoffset="7.0"/>
<text x="591.20" y="643.80" font-size="9.95" text-anchor="middle" textLength="5.69" lengthAdjust="spacingAndGlyphs" stroke="#000" stroke-width="0.2" fill="#000">5</text>
<text x="607.61" y="643.80" font-size="9.95" text-anchor="middle" textLength="5.69" lengthAdjust="spacingAndGlyphs" stroke="#000" stroke-width="0.2" fill="#000">6</text>
<text x="624.03" y="643.80" font-size="9.95" text-anchor="middle" textLength="5.69" lengthAdjust="spacingAndGlyphs" stroke="#000" stroke-width="0.2" fill="#000">7</text>
<text x="640.44" y="643.80" font-size="9.95" text-anchor="middle" textLength="5.69" lengthAdjust="spacingAndGlyphs" stroke="#000" stroke-width="0.2" fill="#000">8</text>
<text x="656.85" y="643.80" font-size="9.95" text-anchor="middle" textLength="5.69" lengthAdjust="spacingAndGlyphs" stroke="#000" stroke-width="0.2" fill="#000">9</text>
<text x="673.26" y="643.80" font-size="9.95" text-anchor="middle" textLength="11.38" lengthAdjust="spacingAndGlyphs" stroke="#000" stroke-width="0.2" fill="#000">10</text>
<text x="689.68" y="643.80" font-size="9.95" text-anchor="middle" textLength="11.38" lengthAdjust="spacingAndGlyphs" stroke="#000" stroke-width="0.2" fill="#000">11</text>
<text x="706.09" y="643.80" font-size="9.95" text-anchor="middle" textLength="11.38" lengthAdjust="spacingAndGlyphs" stroke="#000" stroke-width="0.2" fill="#000">12</text>
<text x="722.50" y="643.80" font-size="9.95" text-anchor="middle" textLength="11.38" lengthAdjust="spacingAndGlyphs" stroke="#000" stroke-width="0.2" fill="#000">13</text>
<path d="M591.20 559.6v3M591.20 631.2v-3M607.61 559.6v3M607.61 631.2v-3M624.03 559.6v3M624.03 631.2v-3M640.44 559.6v3M640.44 631.2v-3M656.85 559.6v3M656.85 631.2v-3M673.26 559.6v3M673.26 631.2v-3M689.68 559.6v3M689.68 631.2v-3M706.09 559.6v3M706.09 631.2v-3M722.50 559.6v3M722.50 631.2v-3" stroke="#000" stroke-width="0.9"/>
<rect x="591.2" y="559.6" width="131.3" height="71.6" fill="none" stroke="#000" stroke-width="1.3"/>
<text x="602.53" y="553.50" font-size="12.58" text-anchor="start" textLength="41.59" lengthAdjust="spacingAndGlyphs" stroke="#000" stroke-width="0.2" fill="#000">log Kzz</text>
<text x="644.12" y="553.50" font-size="12.58" text-anchor="start" textLength="41.81" lengthAdjust="spacingAndGlyphs" stroke="#000" stroke-width="0.2" fill="#000"> = 6.36</text>
<text x="686.93" y="548.60" font-size="8.80" text-anchor="start" textLength="24.24" lengthAdjust="spacingAndGlyphs" stroke="#000" stroke-width="0.2" fill="#000">+1.26</text>
<text x="686.93" y="556.80" font-size="8.80" text-anchor="start" textLength="24.24" lengthAdjust="spacingAndGlyphs" stroke="#000" stroke-width="0.2" fill="#000">−0.82</text>
<path d="M66.01 705.63H70.15V707.80H66.01ZM70.15 703.45H71.24V707.80H70.15ZM71.24 703.45H73.42V704.54H71.24ZM73.42 703.45H75.59V704.54H73.42ZM75.59 703.45H77.77V704.54H75.59ZM79.95 698.01H82.12V701.27H79.95ZM82.12 698.01H84.30V701.27H82.12ZM84.30 698.01H86.48V703.45H84.30ZM86.48 698.01H88.65V703.45H86.48ZM88.65 700.18H94.09V703.45H88.65ZM94.09 700.18H95.18V702.36H94.09ZM95.18 695.83H96.27V702.36H95.18ZM96.27 695.83H102.80V702.36H96.27ZM102.80 700.18H103.89V704.10H102.80ZM103.89 700.18H108.25V704.10H103.89ZM112.16 693.22H112.60V693.65H112.16ZM112.60 693.22H114.78V693.65H112.60ZM116.95 691.04H120.22V691.48H116.95Z" fill="rgb(190,134,204)"/>
<path d="M66.01 707.80H70.15V708.89H66.01ZM70.15 707.80H71.24V708.89H70.15ZM71.24 704.54H73.42V708.89H71.24ZM73.42 704.54H75.59V708.46H73.42ZM75.59 704.54H77.77V708.46H75.59ZM77.77 703.45H79.95V708.46H77.77ZM79.95 701.27H82.12V708.46H79.95ZM82.12 701.27H84.30V707.15H82.12ZM84.30 703.45H86.48V707.15H84.30ZM86.48 703.45H88.65V707.15H86.48ZM88.65 703.45H94.09V707.80H88.65ZM94.09 702.36H95.18V707.80H94.09ZM95.18 702.36H96.27V707.80H95.18ZM96.27 702.36H102.80V708.46H96.27ZM102.80 704.10H103.89V707.15H102.80ZM103.89 704.10H108.25V707.15H103.89ZM108.25 698.01H110.42V707.15H108.25ZM110.42 698.01H112.16V711.07H110.42ZM112.16 693.65H112.60V711.07H112.16ZM112.60 693.65H114.78V711.07H112.60ZM114.78 693.22H115.86V711.07H114.78ZM115.86 693.22H116.95V711.07H115.86ZM116.95 691.48H120.22V711.07H116.95ZM120.22 691.04H121.31V716.51H120.22ZM121.31 705.63H123.48V716.51H121.31ZM123.48 705.63H124.57V716.51H123.48ZM124.57 712.16H125.66V716.51H124.57ZM125.66 712.16H126.75V725.22H125.66Z" fill="rgb(205,110,110)"/>
<path d="M66.01 708.89H70.15V712.16H66.01ZM70.15 708.89H71.24V712.16H70.15ZM71.24 708.89H73.42V712.16H71.24ZM73.42 708.46H75.59V712.16H73.42ZM75.59 708.46H77.77V709.98H75.59ZM77.77 708.46H79.95V709.98H77.77ZM79.95 708.46H82.12V709.98H79.95ZM82.12 707.15H84.30V709.98H82.12ZM84.30 707.15H86.48V709.98H84.30ZM86.48 707.15H88.65V709.33H86.48ZM88.65 707.80H94.09V709.33H88.65ZM94.09 707.80H95.18V709.33H94.09ZM95.18 707.80H96.27V709.98H95.18ZM96.27 708.46H102.80V709.98H96.27ZM102.80 707.15H103.89V709.98H102.80ZM103.89 707.15H108.25V711.07H103.89ZM108.25 707.15H110.42V711.07H108.25ZM112.60 711.07H114.78V712.16H112.60ZM114.78 711.07H115.86V712.16H114.78ZM115.86 711.07H116.95V712.16H115.86ZM116.95 711.07H120.22V712.16H116.95Z" fill="rgb(145,115,165)"/>
<path d="M66.01 712.16H70.15V742.80H66.01ZM70.15 712.16H71.24V742.80H70.15ZM71.24 712.16H73.42V742.80H71.24ZM73.42 712.16H75.59V742.80H73.42ZM75.59 709.98H77.77V742.80H75.59ZM77.77 709.98H79.95V742.80H77.77ZM79.95 709.98H82.12V742.80H79.95ZM82.12 709.98H84.30V742.80H82.12ZM84.30 709.98H86.48V742.80H84.30ZM86.48 709.33H88.65V742.80H86.48ZM88.65 709.33H94.09V742.80H88.65ZM94.09 709.33H95.18V742.80H94.09ZM95.18 709.98H96.27V742.80H95.18ZM96.27 709.98H102.80V742.80H96.27ZM102.80 709.98H103.89V742.80H102.80ZM103.89 711.07H108.25V742.80H103.89ZM108.25 711.07H110.42V742.80H108.25ZM110.42 711.07H112.16V742.80H110.42ZM112.16 711.07H112.60V742.80H112.16ZM112.60 712.16H114.78V742.80H112.60ZM114.78 712.16H115.86V742.80H114.78ZM115.86 712.16H116.95V742.80H115.86ZM116.95 712.16H120.22V742.80H116.95ZM120.22 716.51H121.31V742.80H120.22ZM121.31 716.51H123.48V742.80H121.31ZM123.48 716.51H124.57V742.80H123.48ZM124.57 716.51H125.66V742.80H124.57ZM125.66 725.22H126.75V742.80H125.66Z" fill="rgb(118,185,178)"/>
<path d="M77.77 701.27H79.95V703.45H77.77ZM108.25 693.65H110.42V698.01H108.25ZM110.42 693.65H112.16V698.01H110.42ZM114.78 691.48H115.86V693.22H114.78ZM115.86 691.48H116.95V693.22H115.86ZM120.22 677.33H121.31V691.04H120.22ZM121.31 677.33H123.48V705.63H121.31ZM123.48 688.21H124.57V705.63H123.48ZM124.57 688.21H125.66V712.16H124.57ZM125.66 688.21H126.75V712.16H125.66ZM126.75 711.07H131.10V725.22H126.75Z" fill="rgb(245,168,82)"/>
<path d="M126.75 725.22H131.10V742.80H126.75ZM131.10 732.84H133.28V742.80H131.10ZM133.28 737.19H135.46V742.80H133.28Z" fill="rgb(125,185,170)"/>
<path d="M131.10 725.22H133.28V732.84H131.10Z" fill="rgb(170,195,160)"/>
<path d="M133.28 731.75H135.46V732.84H133.28ZM135.46 731.75H136.54V732.84H135.46ZM136.54 731.75H139.81V742.80H136.54ZM139.81 737.19H146.34V742.80H139.81ZM146.34 739.80H158.31V742.80H146.34ZM158.31 741.11H165.93V742.80H158.31ZM165.93 740.46H172.46V742.80H165.93Z" fill="rgb(163,247,222)"/>
<path d="M133.28 732.84H135.46V737.19H133.28ZM135.46 732.84H136.54V742.80H135.46Z" fill="rgb(120,210,203)"/>
<path d="M66.01 742.80V707.80H71.24V704.54H77.77V701.27H84.30V703.45H94.10V702.36H102.80V704.10H108.24V693.65H114.78V691.48H120.22V677.33H123.48V688.21H126.75V711.07H131.10V725.22H133.28V737.19H135.46V742.80" fill="none" stroke="#000" stroke-width="1.1" stroke-opacity="0.85"/>
<path d="M66.01 742.80V708.89H73.41V708.46H82.12V707.15H88.65V707.80H96.27V708.46H102.80V707.15H110.42V711.07H115.86V711.07H120.22V716.51H125.66V725.22H131.10V732.84H136.54V742.80" fill="none" stroke="#000" stroke-width="1.1" stroke-opacity="0.85"/>
<path d="M66.01 742.80V705.63H70.15V703.45H79.95V698.01H88.65V700.18H95.18V695.83H102.80V700.18H108.24V698.01H112.16V693.22H116.95V691.04H121.31V705.63H124.57V712.16H126.75V742.80" fill="none" stroke="#000" stroke-width="1.1" stroke-opacity="0.85"/>
<path d="M66.01 742.80V712.16H75.59V709.98H86.48V709.33H95.18V709.98H103.89V711.07H112.60V712.16H120.22V716.51H125.66V725.22H133.28V731.75H139.81V737.19H146.34V739.80H158.31V741.11H165.93V740.46H172.46V742.80" fill="none" stroke="#000" stroke-width="1.1" stroke-opacity="0.85"/>
<line x1="79.51" y1="671.2" x2="79.51" y2="742.8000000000001" stroke="#000" stroke-width="1.5" stroke-dasharray="6.6 7.9" stroke-dashoffset="7.0"/>
<line x1="104.33" y1="671.2" x2="104.33" y2="742.8000000000001" stroke="#7a7a7a" stroke-width="2"/>
<line x1="122.39" y1="671.2" x2="122.39" y2="742.8000000000001" stroke="#000" stroke-width="1.5" stroke-dasharray="6.6 7.9" stroke-dashoffset="7.0"/>
<text x="66.00" y="755.40" font-size="9.95" text-anchor="middle" textLength="18.87" lengthAdjust="spacingAndGlyphs" stroke="#000" stroke-width="0.2" fill="#000">−12</text>
<text x="87.88" y="755.40" font-size="9.95" text-anchor="middle" textLength="18.87" lengthAdjust="spacingAndGlyphs" stroke="#000" stroke-width="0.2" fill="#000">−10</text>
<text x="109.77" y="755.40" font-size="9.95" text-anchor="middle" textLength="13.18" lengthAdjust="spacingAndGlyphs" stroke="#000" stroke-width="0.2" fill="#000">−8</text>
<text x="131.65" y="755.40" font-size="9.95" text-anchor="middle" textLength="13.18" lengthAdjust="spacingAndGlyphs" stroke="#000" stroke-width="0.2" fill="#000">−6</text>
<text x="153.53" y="755.40" font-size="9.95" text-anchor="middle" textLength="13.18" lengthAdjust="spacingAndGlyphs" stroke="#000" stroke-width="0.2" fill="#000">−4</text>
<text x="175.42" y="755.40" font-size="9.95" text-anchor="middle" textLength="13.18" lengthAdjust="spacingAndGlyphs" stroke="#000" stroke-width="0.2" fill="#000">−2</text>
<text x="197.30" y="755.40" font-size="9.95" text-anchor="middle" textLength="5.69" lengthAdjust="spacingAndGlyphs" stroke="#000" stroke-width="0.2" fill="#000">0</text>
<path d="M66.00 671.2v3M66.00 742.8000000000001v-3M87.88 671.2v3M87.88 742.8000000000001v-3M109.77 671.2v3M109.77 742.8000000000001v-3M131.65 671.2v3M131.65 742.8000000000001v-3M153.53 671.2v3M153.53 742.8000000000001v-3M175.42 671.2v3M175.42 742.8000000000001v-3M197.30 671.2v3M197.30 742.8000000000001v-3" stroke="#000" stroke-width="0.9"/>
<rect x="66.0" y="671.2" width="131.3" height="71.6" fill="none" stroke="#000" stroke-width="1.3"/>
<text x="71.00" y="665.10" font-size="12.58" text-anchor="start" textLength="39.74" lengthAdjust="spacingAndGlyphs" stroke="#000" stroke-width="0.2" fill="#000">log CH</text>
<text x="110.75" y="667.70" font-size="8.80" text-anchor="start" textLength="5.03" lengthAdjust="spacingAndGlyphs" stroke="#000" stroke-width="0.2" fill="#000">4</text>
<text x="115.78" y="665.10" font-size="12.58" text-anchor="start" textLength="51.28" lengthAdjust="spacingAndGlyphs" stroke="#000" stroke-width="0.2" fill="#000"> = −8.52</text>
<text x="168.06" y="660.20" font-size="8.80" text-anchor="start" textLength="24.24" lengthAdjust="spacingAndGlyphs" stroke="#000" stroke-width="0.2" fill="#000">+1.69</text>
<text x="168.06" y="668.40" font-size="8.80" text-anchor="start" textLength="24.24" lengthAdjust="spacingAndGlyphs" stroke="#000" stroke-width="0.2" fill="#000">−2.23</text>
<path d="M241.01 725.22H247.33V726.31H241.01ZM247.33 724.13H248.41V726.31H247.33ZM248.41 724.13H254.95V725.22H248.41ZM254.95 724.13H257.12V725.22H254.95ZM257.12 723.04H259.30V725.22H257.12ZM259.30 723.04H263.65V724.13H259.30Z" fill="rgb(122,168,215)"/>
<path d="M241.01 726.31H247.33V730.22H241.01ZM247.33 726.31H248.41V730.22H247.33ZM248.41 725.22H254.95V730.22H248.41ZM254.95 725.22H257.12V729.57H254.95ZM257.12 725.22H259.30V729.57H257.12ZM259.30 724.13H263.65V729.57H259.30ZM263.65 724.13H266.92V728.48H263.65ZM266.92 724.13H270.18V728.48H266.92ZM270.18 720.86H272.36V728.48H270.18ZM272.36 720.86H273.45V726.31H272.36ZM273.45 720.86H274.54V726.31H273.45ZM274.54 712.16H275.63V726.31H274.54ZM277.80 704.54H279.33V711.07H277.80Z" fill="rgb(150,128,190)"/>
<path d="M241.01 730.22H247.33V742.80H241.01ZM247.33 730.22H248.41V742.80H247.33ZM248.41 730.22H254.95V742.80H248.41ZM254.95 729.57H257.12V742.80H254.95ZM257.12 729.57H259.30V742.80H257.12ZM259.30 729.57H263.65V742.80H259.30ZM263.65 728.48H266.92V731.75H263.65ZM266.92 728.48H270.18V731.75H266.92ZM270.18 728.48H272.36V731.75H270.18Z" fill="rgb(120,186,184)"/>
<path d="M263.65 731.75H266.92V742.80H263.65ZM266.92 731.75H270.18V742.80H266.92ZM270.18 731.75H272.36V742.80H270.18ZM272.36 728.48H273.45V742.80H272.36ZM273.45 728.48H274.54V742.80H273.45ZM274.54 727.39H275.63V742.80H274.54ZM275.63 727.39H276.71V742.80H275.63ZM276.71 727.39H277.80V742.80H276.71ZM277.80 727.39H279.33V742.80H277.80ZM279.33 727.39H281.07V742.80H279.33ZM281.07 727.39H282.16V742.80H281.07ZM282.16 727.39H283.25V742.80H282.16ZM283.25 727.39H284.33V742.80H283.25ZM284.33 728.05H284.99V742.80H284.33ZM284.99 728.05H285.42V742.80H284.99ZM285.42 728.05H287.60V742.80H285.42ZM287.60 728.05H289.78V742.80H287.60ZM289.78 728.05H290.21V742.80H289.78ZM290.21 728.05H290.86V742.80H290.21Z" fill="rgb(118,185,178)"/>
<path d="M266.92 719.78H270.18V724.13H266.92ZM270.18 713.24H272.36V720.86H270.18ZM272.36 713.24H273.45V720.86H272.36ZM273.45 706.71H274.54V720.86H273.45ZM274.54 706.71H275.63V712.16H274.54ZM275.63 706.71H276.71V711.07H275.63ZM276.71 687.12H277.80V711.07H276.71ZM277.80 687.12H279.33V704.54H277.80ZM279.33 677.33H281.07V693.65H279.33ZM281.07 677.33H282.16V693.65H281.07ZM282.16 682.77H283.25V693.65H282.16ZM290.21 700.18H290.86V701.27H290.21Z" fill="rgb(190,134,204)"/>
<path d="M272.36 726.31H273.45V728.48H272.36ZM273.45 726.31H274.54V728.48H273.45ZM274.54 726.31H275.63V727.39H274.54ZM275.63 712.16H276.71V727.39H275.63ZM276.71 712.16H277.80V727.39H276.71ZM277.80 711.07H279.33V727.39H277.80ZM279.33 704.54H281.07V727.39H279.33ZM281.07 702.36H282.16V727.39H281.07ZM282.16 702.36H283.25V727.39H282.16ZM283.25 702.36H284.33V727.39H283.25ZM284.33 702.36H284.99V728.05H284.33ZM284.99 702.36H285.42V728.05H284.99ZM285.42 711.07H287.60V728.05H285.42ZM287.60 711.07H289.78V728.05H287.60ZM289.78 725.22H290.21V728.05H289.78ZM290.21 725.22H290.86V728.05H290.21Z" fill="rgb(145,115,165)"/>
<path d="M275.63 711.07H276.71V712.16H275.63ZM276.71 711.07H277.80V712.16H276.71ZM279.33 693.65H281.07V704.54H279.33ZM281.07 693.65H282.16V702.36H281.07ZM282.16 693.65H283.25V702.36H282.16ZM283.25 682.77H284.33V702.36H283.25ZM284.33 682.77H284.99V702.36H284.33ZM284.99 700.18H285.42V702.36H284.99ZM285.42 700.18H287.60V711.07H285.42ZM287.60 700.18H289.78V711.07H287.60ZM289.78 700.18H290.21V725.22H289.78ZM290.21 701.27H290.86V725.22H290.21Z" fill="rgb(205,110,110)"/>
<path d="M283.25 679.50H284.33V682.77H283.25ZM284.33 679.50H284.99V682.77H284.33ZM284.99 679.50H285.42V700.18H284.99ZM285.42 679.50H287.60V700.18H285.42ZM287.60 688.21H289.78V700.18H287.60ZM289.78 688.21H290.21V700.18H289.78ZM290.86 701.27H293.04V725.22H290.86ZM293.04 721.95H294.13V725.22H293.04ZM294.13 721.95H296.31V728.05H294.13ZM296.31 721.95H297.39V728.48H296.31Z" fill="rgb(245,168,82)"/>
<path d="M290.86 725.22H293.04V728.05H290.86ZM293.04 725.22H294.13V728.05H293.04Z" fill="rgb(160,154,148)"/>
<path d="M290.86 728.05H293.04V742.80H290.86ZM293.04 728.05H294.13V742.80H293.04ZM294.13 732.84H296.31V742.80H294.13ZM296.31 732.84H297.39V742.80H296.31Z" fill="rgb(125,185,170)"/>
<path d="M294.13 728.05H296.31V732.84H294.13ZM296.31 728.48H297.39V732.84H296.31Z" fill="rgb(170,195,160)"/>
<path d="M297.39 728.48H298.48V732.84H297.39ZM298.48 728.48H307.19V742.80H298.48ZM307.19 730.22H318.07V742.80H307.19ZM318.07 731.75H328.96V742.80H318.07ZM328.96 733.27H338.75V742.80H328.96ZM338.75 736.10H352.90V742.80H338.75Z" fill="rgb(163,247,222)"/>
<path d="M297.39 732.84H298.48V742.80H297.39Z" fill="rgb(120,210,203)"/>
<path d="M263.65 742.80V731.75H272.36V726.31H275.63V711.07H279.33V693.65H283.24V679.50H287.60V688.21H290.21V701.27H293.04V721.95H297.39V742.80" fill="none" stroke="#000" stroke-width="1.1" stroke-opacity="0.85"/>
<path d="M241.01 742.80V725.22H247.33V724.13H257.12V723.04H263.65V724.13H270.18V720.86H274.54V712.16H277.80V704.54H281.07V702.36H285.42V711.07H289.78V725.22H294.13V732.84H298.48V742.80" fill="none" stroke="#000" stroke-width="1.1" stroke-opacity="0.85"/>
<path d="M241.01 742.80V726.31H248.41V725.22H259.30V724.13H266.92V719.78H270.18V713.24H273.45V706.71H276.71V687.12H279.33V677.33H282.16V682.77H284.99V700.18H290.86V742.80" fill="none" stroke="#000" stroke-width="1.1" stroke-opacity="0.85"/>
<path d="M241.01 742.80V730.22H254.95V729.57H263.65V728.48H274.54V727.39H284.33V728.05H296.31V728.48H307.19V730.22H318.07V731.75H328.96V733.27H338.76V736.10H352.90V742.80" fill="none" stroke="#000" stroke-width="1.1" stroke-opacity="0.85"/>
<line x1="262.56" y1="671.2" x2="262.56" y2="742.8000000000001" stroke="#000" stroke-width="1.5" stroke-dasharray="6.6 7.9" stroke-dashoffset="7.0"/>
<line x1="281.50" y1="671.2" x2="281.50" y2="742.8000000000001" stroke="#7a7a7a" stroke-width="2"/>
<line x1="289.78" y1="671.2" x2="289.78" y2="742.8000000000001" stroke="#000" stroke-width="1.5" stroke-dasharray="6.6 7.9" stroke-dashoffset="7.0"/>
<text x="241.10" y="755.40" font-size="9.95" text-anchor="middle" textLength="18.87" lengthAdjust="spacingAndGlyphs" stroke="#000" stroke-width="0.2" fill="#000">−12</text>
<text x="262.98" y="755.40" font-size="9.95" text-anchor="middle" textLength="18.87" lengthAdjust="spacingAndGlyphs" stroke="#000" stroke-width="0.2" fill="#000">−10</text>
<text x="284.87" y="755.40" font-size="9.95" text-anchor="middle" textLength="13.18" lengthAdjust="spacingAndGlyphs" stroke="#000" stroke-width="0.2" fill="#000">−8</text>
<text x="306.75" y="755.40" font-size="9.95" text-anchor="middle" textLength="13.18" lengthAdjust="spacingAndGlyphs" stroke="#000" stroke-width="0.2" fill="#000">−6</text>
<text x="328.63" y="755.40" font-size="9.95" text-anchor="middle" textLength="13.18" lengthAdjust="spacingAndGlyphs" stroke="#000" stroke-width="0.2" fill="#000">−4</text>
<text x="350.52" y="755.40" font-size="9.95" text-anchor="middle" textLength="13.18" lengthAdjust="spacingAndGlyphs" stroke="#000" stroke-width="0.2" fill="#000">−2</text>
<text x="372.40" y="755.40" font-size="9.95" text-anchor="middle" textLength="5.69" lengthAdjust="spacingAndGlyphs" stroke="#000" stroke-width="0.2" fill="#000">0</text>
<path d="M241.10 671.2v3M241.10 742.8000000000001v-3M262.98 671.2v3M262.98 742.8000000000001v-3M284.87 671.2v3M284.87 742.8000000000001v-3M306.75 671.2v3M306.75 742.8000000000001v-3M328.63 671.2v3M328.63 742.8000000000001v-3M350.52 671.2v3M350.52 742.8000000000001v-3M372.40 671.2v3M372.40 742.8000000000001v-3" stroke="#000" stroke-width="0.9"/>
<rect x="241.1" y="671.2" width="131.3" height="71.6" fill="none" stroke="#000" stroke-width="1.3"/>
<text x="253.65" y="665.10" font-size="12.58" text-anchor="start" textLength="29.68" lengthAdjust="spacingAndGlyphs" stroke="#000" stroke-width="0.2" fill="#000">log K</text>
<text x="283.33" y="665.10" font-size="12.58" text-anchor="start" textLength="51.28" lengthAdjust="spacingAndGlyphs" stroke="#000" stroke-width="0.2" fill="#000"> = −8.31</text>
<text x="335.61" y="660.20" font-size="8.80" text-anchor="start" textLength="24.24" lengthAdjust="spacingAndGlyphs" stroke="#000" stroke-width="0.2" fill="#000">+0.80</text>
<text x="335.61" y="668.40" font-size="8.80" text-anchor="start" textLength="24.24" lengthAdjust="spacingAndGlyphs" stroke="#000" stroke-width="0.2" fill="#000">−1.74</text>
<path d="M416.32 695.48H422.42V724.21H416.32ZM422.42 683.50H426.77V722.03H422.42ZM426.77 680.67H435.48V722.03H426.77ZM435.48 677.63H448.54V722.69H435.48ZM448.54 677.63H455.50V724.21H448.54ZM455.50 683.50H461.60V723.34H455.50ZM461.60 699.39H468.13V723.34H461.60Z" fill="rgb(245,168,82)"/>
<path d="M416.32 724.21H422.42V742.80H416.32ZM422.42 722.03H426.77V742.80H422.42ZM426.77 722.03H435.48V742.80H426.77ZM435.48 722.69H448.54V742.80H435.48ZM448.54 724.21H455.50V742.80H448.54ZM455.50 723.34H461.60V742.80H455.50ZM461.60 723.34H468.13V742.80H461.60ZM468.13 725.95H474.66V742.80H468.13ZM474.66 741.19H481.19V742.80H474.66Z" fill="rgb(205,110,110)"/>
<path d="M468.13 725.52H474.66V725.95H468.13ZM474.66 725.95H481.19V741.19H474.66ZM481.19 725.52H487.72V742.80H481.19ZM487.72 727.04H494.25V742.80H487.72ZM494.25 725.95H500.78V742.80H494.25ZM500.78 723.78H507.31V742.80H500.78ZM507.31 716.16H513.84V742.80H507.31ZM513.84 705.27H520.37V742.80H513.84ZM520.37 697.22H526.90V742.80H520.37ZM526.90 699.83H533.43V742.80H526.90ZM533.43 705.27H547.59V742.80H533.43Z" fill="rgb(190,134,204)"/>
<path d="M416.32 742.80V695.48H422.41V683.50H426.77V680.67H435.48V677.63H455.50V683.50H461.60V699.39H468.13V725.95H474.66V741.19H481.19V742.80" fill="none" stroke="#000" stroke-width="1.1" stroke-opacity="0.85"/>
<path d="M416.32 742.80V724.21H422.41V722.03H435.48V722.69H448.54V724.21H455.50V723.34H468.13V725.52H474.66V725.95H481.19V725.52H487.72V727.04H494.25V725.95H500.78V723.78H507.31V716.16H513.84V705.27H520.37V697.22H526.90V699.83H533.44V705.27H547.59V742.80" fill="none" stroke="#000" stroke-width="1.1" stroke-opacity="0.85"/>
<line x1="425.68" y1="671.2" x2="425.68" y2="742.8000000000001" stroke="#000" stroke-width="1.5" stroke-dasharray="6.6 7.9" stroke-dashoffset="7.0"/>
<line x1="443.75" y1="671.2" x2="443.75" y2="742.8000000000001" stroke="#7a7a7a" stroke-width="2"/>
<line x1="460.51" y1="671.2" x2="460.51" y2="742.8000000000001" stroke="#000" stroke-width="1.5" stroke-dasharray="6.6 7.9" stroke-dashoffset="7.0"/>
<text x="416.20" y="755.40" font-size="9.95" text-anchor="middle" textLength="13.18" lengthAdjust="spacingAndGlyphs" stroke="#000" stroke-width="0.2" fill="#000">−7</text>
<text x="430.79" y="755.40" font-size="9.95" text-anchor="middle" textLength="13.18" lengthAdjust="spacingAndGlyphs" stroke="#000" stroke-width="0.2" fill="#000">−6</text>
<text x="445.38" y="755.40" font-size="9.95" text-anchor="middle" textLength="13.18" lengthAdjust="spacingAndGlyphs" stroke="#000" stroke-width="0.2" fill="#000">−5</text>
<text x="459.97" y="755.40" font-size="9.95" text-anchor="middle" textLength="13.18" lengthAdjust="spacingAndGlyphs" stroke="#000" stroke-width="0.2" fill="#000">−4</text>
<text x="474.56" y="755.40" font-size="9.95" text-anchor="middle" textLength="13.18" lengthAdjust="spacingAndGlyphs" stroke="#000" stroke-width="0.2" fill="#000">−3</text>
<text x="489.14" y="755.40" font-size="9.95" text-anchor="middle" textLength="13.18" lengthAdjust="spacingAndGlyphs" stroke="#000" stroke-width="0.2" fill="#000">−2</text>
<text x="503.73" y="755.40" font-size="9.95" text-anchor="middle" textLength="13.18" lengthAdjust="spacingAndGlyphs" stroke="#000" stroke-width="0.2" fill="#000">−1</text>
<text x="518.32" y="755.40" font-size="9.95" text-anchor="middle" textLength="5.69" lengthAdjust="spacingAndGlyphs" stroke="#000" stroke-width="0.2" fill="#000">0</text>
<text x="532.91" y="755.40" font-size="9.95" text-anchor="middle" textLength="5.69" lengthAdjust="spacingAndGlyphs" stroke="#000" stroke-width="0.2" fill="#000">1</text>
<text x="547.50" y="755.40" font-size="9.95" text-anchor="middle" textLength="5.69" lengthAdjust="spacingAndGlyphs" stroke="#000" stroke-width="0.2" fill="#000">2</text>
<path d="M416.20 671.2v3M416.20 742.8000000000001v-3M430.79 671.2v3M430.79 742.8000000000001v-3M445.38 671.2v3M445.38 742.8000000000001v-3M459.97 671.2v3M459.97 742.8000000000001v-3M474.56 671.2v3M474.56 742.8000000000001v-3M489.14 671.2v3M489.14 742.8000000000001v-3M503.73 671.2v3M503.73 742.8000000000001v-3M518.32 671.2v3M518.32 742.8000000000001v-3M532.91 671.2v3M532.91 742.8000000000001v-3M547.50 671.2v3M547.50 742.8000000000001v-3" stroke="#000" stroke-width="0.9"/>
<rect x="416.2" y="671.2" width="131.3" height="71.6" fill="none" stroke="#000" stroke-width="1.3"/>
<text x="403.60" y="665.10" font-size="12.58" text-anchor="start" textLength="28.85" lengthAdjust="spacingAndGlyphs" stroke="#000" stroke-width="0.2" fill="#000">log P</text>
<text x="432.45" y="667.70" font-size="8.80" text-anchor="start" textLength="21.88" lengthAdjust="spacingAndGlyphs" stroke="#000" stroke-width="0.2" fill="#000">cloud</text>
<text x="454.33" y="665.10" font-size="12.58" text-anchor="start" textLength="24.21" lengthAdjust="spacingAndGlyphs" stroke="#000" stroke-width="0.2" fill="#000"> SiO</text>
<text x="478.54" y="667.70" font-size="8.80" text-anchor="start" textLength="5.03" lengthAdjust="spacingAndGlyphs" stroke="#000" stroke-width="0.2" fill="#000">2</text>
<text x="483.57" y="665.10" font-size="12.58" text-anchor="start" textLength="51.28" lengthAdjust="spacingAndGlyphs" stroke="#000" stroke-width="0.2" fill="#000"> = −5.12</text>
<text x="535.86" y="660.20" font-size="8.80" text-anchor="start" textLength="24.24" lengthAdjust="spacingAndGlyphs" stroke="#000" stroke-width="0.2" fill="#000">+1.17</text>
<text x="535.86" y="668.40" font-size="8.80" text-anchor="start" textLength="24.24" lengthAdjust="spacingAndGlyphs" stroke="#000" stroke-width="0.2" fill="#000">−1.19</text>
<path d="M591.11 703.45H598.51V707.80H591.11ZM598.51 689.30H605.48V693.65H598.51ZM605.48 681.68H613.10V683.86H605.48ZM613.10 686.69H618.54V689.30H613.10ZM618.54 681.68H625.07V684.95H618.54ZM625.07 681.03H631.60V682.77H625.07ZM644.66 683.42H651.19V683.86H644.66ZM657.72 681.68H663.16V683.86H657.72ZM664.25 683.86H670.78V689.73H664.25ZM683.84 689.30H690.37V690.39H683.84ZM690.37 690.39H696.90V691.48H690.37ZM696.90 693.65H703.43V695.83H696.90ZM703.43 699.75H709.97V702.36H703.43ZM709.97 707.15H716.50V709.98H709.97ZM716.50 712.81H722.59V716.51H716.50Z" fill="rgb(122,168,215)"/>
<path d="M591.11 707.80H598.51V742.80H591.11ZM598.51 693.65H605.48V742.80H598.51ZM605.48 683.86H613.10V742.80H605.48ZM613.10 689.30H618.54V742.80H613.10ZM618.54 684.95H625.07V742.80H618.54ZM625.07 682.77H631.60V742.80H625.07ZM631.60 687.12H638.13V742.80H631.60ZM638.13 685.38H644.66V742.80H638.13ZM644.66 683.86H651.19V742.80H644.66ZM651.19 683.42H657.72V742.80H651.19ZM657.72 683.86H663.16V742.80H657.72ZM663.16 683.86H664.25V742.80H663.16ZM664.25 689.73H670.78V742.80H664.25ZM670.78 682.77H677.31V742.80H670.78ZM677.31 686.03H683.84V742.80H677.31ZM683.84 690.39H690.37V742.80H683.84ZM690.37 691.48H696.90V742.80H690.37ZM696.90 695.83H703.43V742.80H696.90ZM703.43 702.36H709.97V742.80H703.43ZM709.97 709.98H716.50V742.80H709.97ZM716.50 716.51H722.59V742.80H716.50Z" fill="rgb(120,210,203)"/>
<path d="M638.13 683.86H644.66V685.38H638.13ZM651.19 682.77H657.72V683.42H651.19ZM670.78 681.68H677.31V682.77H670.78ZM677.31 677.98H683.84V686.03H677.31Z" fill="rgb(163,247,222)"/>
<path d="M591.11 742.80V703.45H598.51V689.30H605.48V681.68H613.10V686.69H618.54V681.68H625.07V681.03H631.60V687.12H638.13V685.38H644.66V683.42H657.72V681.68H663.16V683.86H670.78V682.77H677.31V686.03H683.84V689.30H690.37V690.39H696.90V693.65H703.44V699.75H709.97V707.15H716.50V712.81H722.59V742.80" fill="none" stroke="#000" stroke-width="1.1" stroke-opacity="0.85"/>
<path d="M591.11 742.80V707.80H598.51V693.65H605.48V683.86H613.10V689.30H618.54V684.95H625.07V682.77H631.60V687.12H638.13V683.86H651.19V682.77H657.72V683.86H664.25V689.73H670.78V681.68H677.31V677.98H683.84V690.39H690.37V691.48H696.90V695.83H703.44V702.36H709.97V709.98H716.50V716.51H722.59V742.80" fill="none" stroke="#000" stroke-width="1.1" stroke-opacity="0.85"/>
<line x1="613.75" y1="671.2" x2="613.75" y2="742.8000000000001" stroke="#000" stroke-width="1.5" stroke-dasharray="6.6 7.9" stroke-dashoffset="7.0"/>
<line x1="652.93" y1="671.2" x2="652.93" y2="742.8000000000001" stroke="#7a7a7a" stroke-width="2"/>
<line x1="695.16" y1="671.2" x2="695.16" y2="742.8000000000001" stroke="#000" stroke-width="1.5" stroke-dasharray="6.6 7.9" stroke-dashoffset="7.0"/>
<text x="591.20" y="755.40" font-size="9.95" text-anchor="middle" textLength="5.69" lengthAdjust="spacingAndGlyphs" stroke="#000" stroke-width="0.2" fill="#000">0</text>
<text x="617.46" y="755.40" font-size="9.95" text-anchor="middle" textLength="5.69" lengthAdjust="spacingAndGlyphs" stroke="#000" stroke-width="0.2" fill="#000">2</text>
<text x="643.72" y="755.40" font-size="9.95" text-anchor="middle" textLength="5.69" lengthAdjust="spacingAndGlyphs" stroke="#000" stroke-width="0.2" fill="#000">4</text>
<text x="669.98" y="755.40" font-size="9.95" text-anchor="middle" textLength="5.69" lengthAdjust="spacingAndGlyphs" stroke="#000" stroke-width="0.2" fill="#000">6</text>
<text x="696.24" y="755.40" font-size="9.95" text-anchor="middle" textLength="5.69" lengthAdjust="spacingAndGlyphs" stroke="#000" stroke-width="0.2" fill="#000">8</text>
<text x="722.50" y="755.40" font-size="9.95" text-anchor="middle" textLength="11.38" lengthAdjust="spacingAndGlyphs" stroke="#000" stroke-width="0.2" fill="#000">10</text>
<path d="M591.20 671.2v3M591.20 742.8000000000001v-3M617.46 671.2v3M617.46 742.8000000000001v-3M643.72 671.2v3M643.72 742.8000000000001v-3M669.98 671.2v3M669.98 742.8000000000001v-3M696.24 671.2v3M696.24 742.8000000000001v-3M722.50 671.2v3M722.50 742.8000000000001v-3" stroke="#000" stroke-width="0.9"/>
<rect x="591.2" y="671.2" width="131.3" height="71.6" fill="none" stroke="#000" stroke-width="1.3"/>
<text x="611.37" y="665.10" font-size="12.58" text-anchor="start" textLength="23.90" lengthAdjust="spacingAndGlyphs" stroke="#000" stroke-width="0.2" fill="#000">fsed</text>
<text x="635.27" y="665.10" font-size="12.58" text-anchor="start" textLength="41.81" lengthAdjust="spacingAndGlyphs" stroke="#000" stroke-width="0.2" fill="#000"> = 4.74</text>
<text x="678.09" y="660.20" font-size="8.80" text-anchor="start" textLength="24.24" lengthAdjust="spacingAndGlyphs" stroke="#000" stroke-width="0.2" fill="#000">+3.24</text>
<text x="678.09" y="668.40" font-size="8.80" text-anchor="start" textLength="24.24" lengthAdjust="spacingAndGlyphs" stroke="#000" stroke-width="0.2" fill="#000">−2.98</text>
<path d="M66.01 843.10H73.42V854.40H66.01ZM73.42 841.57H86.48V854.40H73.42ZM86.48 840.48H97.36V854.40H86.48ZM97.36 840.92H108.25V854.40H97.36ZM108.25 842.22H114.78V854.40H108.25ZM114.78 843.75H119.13V854.40H114.78Z" fill="rgb(163,247,222)"/>
<path d="M119.13 836.13H121.31V844.84H119.13ZM121.31 836.13H123.48V842.66H121.31ZM123.48 816.54H125.66V842.66H123.48ZM125.66 816.54H127.84V825.24H125.66ZM127.84 793.68H130.01V825.24H127.84ZM130.01 793.68H131.10V807.83H130.01ZM131.10 793.68H133.28V807.83H131.10Z" fill="rgb(190,134,204)"/>
<path d="M119.13 844.84H121.31V854.40H119.13Z" fill="rgb(160,180,200)"/>
<path d="M121.31 842.66H123.48V844.84H121.31ZM123.48 842.66H125.66V847.01H123.48ZM125.66 825.24H127.84V847.01H125.66ZM127.84 825.24H130.01V847.01H127.84ZM130.01 807.83H131.10V847.01H130.01ZM131.10 807.83H133.28V849.19H131.10ZM133.28 800.21H134.37V849.19H133.28ZM134.37 800.21H137.63V820.89H134.37ZM137.63 800.21H138.72V820.89H137.63Z" fill="rgb(150,128,190)"/>
<path d="M121.31 844.84H123.48V854.40H121.31ZM123.48 847.01H125.66V854.40H123.48ZM125.66 847.01H127.84V854.40H125.66ZM127.84 847.01H130.01V854.40H127.84ZM130.01 847.01H131.10V849.19H130.01Z" fill="rgb(120,186,184)"/>
<path d="M130.01 849.19H131.10V854.40H130.01ZM131.10 851.37H133.28V854.40H131.10ZM133.28 851.37H134.37V854.40H133.28ZM134.37 851.37H137.63V854.40H134.37ZM137.63 851.37H138.72V854.40H137.63ZM138.72 851.37H141.99V854.40H138.72ZM141.99 851.37H143.07V854.40H141.99ZM143.07 853.11H144.16V854.40H143.07ZM144.16 853.11H144.82V854.40H144.16ZM144.82 853.11H145.25V854.40H144.82ZM145.25 853.11H146.34V854.40H145.25Z" fill="rgb(118,185,178)"/>
<path d="M131.10 849.19H133.28V851.37H131.10ZM133.28 849.19H134.37V851.37H133.28ZM134.37 820.89H137.63V851.37H134.37ZM137.63 820.89H138.72V851.37H137.63ZM138.72 800.21H141.99V851.37H138.72ZM141.99 805.65H143.07V851.37H141.99ZM143.07 805.65H144.16V853.11H143.07ZM144.16 805.65H144.82V853.11H144.16ZM144.82 844.84H145.25V853.11H144.82ZM145.25 849.19H146.34V853.11H145.25Z" fill="rgb(145,115,165)"/>
<path d="M133.28 789.33H134.37V800.21H133.28ZM134.37 789.33H137.63V800.21H134.37ZM137.63 789.98H138.72V800.21H137.63Z" fill="rgb(122,168,215)"/>
<path d="M138.72 789.98H141.99V800.21H138.72ZM145.25 844.84H146.34V849.19H145.25ZM146.34 844.84H147.43V853.11H146.34ZM147.43 844.84H149.60V853.11H147.43ZM149.60 851.37H151.78V854.40H149.60Z" fill="rgb(160,154,148)"/>
<path d="M141.99 789.98H143.07V803.48H141.99ZM143.07 789.98H144.16V803.48H143.07ZM144.16 796.95H144.82V803.48H144.16ZM144.82 796.95H145.25V803.48H144.82ZM145.25 796.95H146.34V844.84H145.25ZM146.34 796.95H147.43V844.84H146.34ZM147.43 840.48H149.60V844.84H147.43ZM149.60 840.48H151.78V851.37H149.60ZM151.78 851.37H152.87V854.40H151.78Z" fill="rgb(245,168,82)"/>
<path d="M141.99 803.48H143.07V805.65H141.99ZM143.07 803.48H144.16V805.65H143.07ZM144.16 803.48H144.82V805.65H144.16ZM144.82 803.48H145.25V844.84H144.82Z" fill="rgb(205,110,110)"/>
<path d="M146.34 853.11H147.43V854.40H146.34ZM147.43 853.11H149.60V854.40H147.43Z" fill="rgb(125,185,170)"/>
<path d="M130.01 854.40V849.19H134.37V820.89H138.72V789.98H144.16V796.95H147.43V840.48H151.78V851.37H152.87V854.40" fill="none" stroke="#000" stroke-width="1.1" stroke-opacity="0.85"/>
<path d="M121.31 854.40V842.66H125.66V825.24H130.01V807.83H133.28V789.33H137.63V789.98H141.99V805.65H144.82V844.84H149.61V851.37H151.78V854.40" fill="none" stroke="#000" stroke-width="1.1" stroke-opacity="0.85"/>
<path d="M119.13 854.40V836.13H123.48V816.54H127.84V793.68H133.28V800.21H141.99V803.48H145.25V849.19H146.34V854.40" fill="none" stroke="#000" stroke-width="1.1" stroke-opacity="0.85"/>
<path d="M66.01 854.40V843.10H73.41V841.57H86.48V840.48H97.36V840.92H108.24V842.22H114.78V843.75H119.13V844.84H123.48V847.01H131.10V851.37H143.07V853.11H149.61V854.40" fill="none" stroke="#000" stroke-width="1.1" stroke-opacity="0.85"/>
<line x1="131.10" y1="782.8" x2="131.10" y2="854.4" stroke="#000" stroke-width="1.5" stroke-dasharray="6.6 7.9" stroke-dashoffset="7.0"/>
<line x1="137.63" y1="782.8" x2="137.63" y2="854.4" stroke="#7a7a7a" stroke-width="2"/>
<line x1="144.82" y1="782.8" x2="144.82" y2="854.4" stroke="#000" stroke-width="1.5" stroke-dasharray="6.6 7.9" stroke-dashoffset="7.0"/>
<text x="66.00" y="867.00" font-size="9.95" text-anchor="middle" textLength="18.87" lengthAdjust="spacingAndGlyphs" stroke="#000" stroke-width="0.2" fill="#000">−12</text>
<text x="87.88" y="867.00" font-size="9.95" text-anchor="middle" textLength="18.87" lengthAdjust="spacingAndGlyphs" stroke="#000" stroke-width="0.2" fill="#000">−10</text>
<text x="109.77" y="867.00" font-size="9.95" text-anchor="middle" textLength="13.18" lengthAdjust="spacingAndGlyphs" stroke="#000" stroke-width="0.2" fill="#000">−8</text>
<text x="131.65" y="867.00" font-size="9.95" text-anchor="middle" textLength="13.18" lengthAdjust="spacingAndGlyphs" stroke="#000" stroke-width="0.2" fill="#000">−6</text>
<text x="153.53" y="867.00" font-size="9.95" text-anchor="middle" textLength="13.18" lengthAdjust="spacingAndGlyphs" stroke="#000" stroke-width="0.2" fill="#000">−4</text>
<text x="175.42" y="867.00" font-size="9.95" text-anchor="middle" textLength="13.18" lengthAdjust="spacingAndGlyphs" stroke="#000" stroke-width="0.2" fill="#000">−2</text>
<text x="197.30" y="867.00" font-size="9.95" text-anchor="middle" textLength="5.69" lengthAdjust="spacingAndGlyphs" stroke="#000" stroke-width="0.2" fill="#000">0</text>
<path d="M66.00 782.8v3M66.00 854.4v-3M87.88 782.8v3M87.88 854.4v-3M109.77 782.8v3M109.77 854.4v-3M131.65 782.8v3M131.65 854.4v-3M153.53 782.8v3M153.53 854.4v-3M175.42 782.8v3M175.42 854.4v-3M197.30 782.8v3M197.30 854.4v-3" stroke="#000" stroke-width="0.9"/>
<rect x="66.0" y="782.8" width="131.3" height="71.6" fill="none" stroke="#000" stroke-width="1.3"/>
<text x="71.30" y="776.70" font-size="12.58" text-anchor="start" textLength="39.15" lengthAdjust="spacingAndGlyphs" stroke="#000" stroke-width="0.2" fill="#000">log CO</text>
<text x="110.45" y="779.30" font-size="8.80" text-anchor="start" textLength="5.03" lengthAdjust="spacingAndGlyphs" stroke="#000" stroke-width="0.2" fill="#000">2</text>
<text x="115.48" y="776.70" font-size="12.58" text-anchor="start" textLength="51.28" lengthAdjust="spacingAndGlyphs" stroke="#000" stroke-width="0.2" fill="#000"> = −5.40</text>
<text x="167.76" y="771.80" font-size="8.80" text-anchor="start" textLength="24.24" lengthAdjust="spacingAndGlyphs" stroke="#000" stroke-width="0.2" fill="#000">+0.56</text>
<text x="167.76" y="780.00" font-size="8.80" text-anchor="start" textLength="24.24" lengthAdjust="spacingAndGlyphs" stroke="#000" stroke-width="0.2" fill="#000">−0.67</text>
<path d="M241.01 793.68H246.24V803.04H241.01ZM246.24 793.68H247.33V801.30H246.24ZM247.33 792.16H252.77V801.30H247.33ZM252.77 792.16H253.86V792.59H252.77Z" fill="rgb(122,168,215)"/>
<path d="M241.01 803.04H246.24V854.40H241.01ZM246.24 801.30H247.33V854.40H246.24ZM247.33 801.30H252.77V854.40H247.33ZM252.77 792.59H253.86V854.40H252.77ZM253.86 794.77H260.39V854.40H253.86ZM260.39 797.38H265.83V854.40H260.39ZM265.83 797.38H269.10V854.40H265.83ZM269.10 795.86H277.80V854.40H269.10ZM277.80 797.38H283.25V854.40H277.80ZM283.25 807.83H287.60V854.40H283.25ZM287.60 815.45H289.78V854.40H287.60ZM289.78 815.45H291.95V854.40H289.78ZM291.95 826.33H295.22V854.40H291.95ZM295.22 840.48H296.31V854.40H295.22ZM296.31 840.48H300.66V854.40H296.31ZM300.66 853.54H302.84V854.40H300.66Z" fill="rgb(120,210,203)"/>
<path d="M253.86 792.59H260.39V794.77H253.86ZM260.39 792.59H265.83V797.38H260.39ZM265.83 792.16H269.10V797.38H265.83ZM269.10 792.16H277.80V795.86H269.10ZM277.80 794.33H283.25V797.38H277.80ZM283.25 801.73H287.60V807.83H283.25ZM287.60 801.73H289.78V815.45H287.60ZM289.78 813.27H291.95V815.45H289.78ZM291.95 813.27H295.22V826.33H291.95ZM295.22 813.27H296.31V840.48H295.22ZM296.31 824.16H300.66V840.48H296.31ZM300.66 824.16H302.84V853.54H300.66ZM302.84 840.48H309.37V854.40H302.84ZM309.37 847.01H315.90V854.40H309.37ZM315.90 852.46H322.43V854.40H315.90ZM322.43 853.98H335.49V854.40H322.43Z" fill="rgb(163,247,222)"/>
<path d="M241.01 854.40V793.68H247.33V792.16H253.86V794.77H260.39V797.38H269.10V795.86H277.80V797.38H283.24V807.83H287.60V815.45H291.95V826.33H295.22V840.48H300.66V853.54H302.84V854.40" fill="none" stroke="#000" stroke-width="1.1" stroke-opacity="0.85"/>
<path d="M241.01 854.40V803.04H246.24V801.30H252.77V792.59H265.83V792.16H277.80V794.33H283.24V801.73H289.78V813.27H296.31V824.16H302.84V840.48H309.37V847.01H315.90V852.46H322.43V853.98H335.49V854.40" fill="none" stroke="#000" stroke-width="1.1" stroke-opacity="0.85"/>
<line x1="253.86" y1="782.8" x2="253.86" y2="854.4" stroke="#7a7a7a" stroke-width="2"/>
<line x1="277.80" y1="782.8" x2="277.80" y2="854.4" stroke="#000" stroke-width="1.5" stroke-dasharray="6.6 7.9" stroke-dashoffset="7.0"/>
<text x="241.10" y="867.00" font-size="9.95" text-anchor="middle" textLength="18.87" lengthAdjust="spacingAndGlyphs" stroke="#000" stroke-width="0.2" fill="#000">−12</text>
<text x="262.98" y="867.00" font-size="9.95" text-anchor="middle" textLength="18.87" lengthAdjust="spacingAndGlyphs" stroke="#000" stroke-width="0.2" fill="#000">−10</text>
<text x="284.87" y="867.00" font-size="9.95" text-anchor="middle" textLength="13.18" lengthAdjust="spacingAndGlyphs" stroke="#000" stroke-width="0.2" fill="#000">−8</text>
<text x="306.75" y="867.00" font-size="9.95" text-anchor="middle" textLength="13.18" lengthAdjust="spacingAndGlyphs" stroke="#000" stroke-width="0.2" fill="#000">−6</text>
<text x="328.63" y="867.00" font-size="9.95" text-anchor="middle" textLength="13.18" lengthAdjust="spacingAndGlyphs" stroke="#000" stroke-width="0.2" fill="#000">−4</text>
<text x="350.52" y="867.00" font-size="9.95" text-anchor="middle" textLength="13.18" lengthAdjust="spacingAndGlyphs" stroke="#000" stroke-width="0.2" fill="#000">−2</text>
<text x="372.40" y="867.00" font-size="9.95" text-anchor="middle" textLength="5.69" lengthAdjust="spacingAndGlyphs" stroke="#000" stroke-width="0.2" fill="#000">0</text>
<path d="M241.10 782.8v3M241.10 854.4v-3M262.98 782.8v3M262.98 854.4v-3M284.87 782.8v3M284.87 854.4v-3M306.75 782.8v3M306.75 854.4v-3M328.63 782.8v3M328.63 854.4v-3M350.52 782.8v3M350.52 854.4v-3M372.40 782.8v3M372.40 854.4v-3" stroke="#000" stroke-width="0.9"/>
<rect x="241.1" y="782.8" width="131.3" height="71.6" fill="none" stroke="#000" stroke-width="1.3"/>
<text x="243.25" y="776.70" font-size="12.58" text-anchor="start" textLength="38.25" lengthAdjust="spacingAndGlyphs" stroke="#000" stroke-width="0.2" fill="#000">log SO</text>
<text x="281.50" y="779.30" font-size="8.80" text-anchor="start" textLength="5.03" lengthAdjust="spacingAndGlyphs" stroke="#000" stroke-width="0.2" fill="#000">2</text>
<text x="286.54" y="776.70" font-size="12.58" text-anchor="start" textLength="58.47" lengthAdjust="spacingAndGlyphs" stroke="#000" stroke-width="0.2" fill="#000"> = −10.82</text>
<text x="346.01" y="771.80" font-size="8.80" text-anchor="start" textLength="24.24" lengthAdjust="spacingAndGlyphs" stroke="#000" stroke-width="0.2" fill="#000">+2.22</text>
<text x="346.01" y="780.00" font-size="8.80" text-anchor="start" textLength="24.24" lengthAdjust="spacingAndGlyphs" stroke="#000" stroke-width="0.2" fill="#000">−2.17</text>
<path d="M416.01 829.16H422.98V832.86H416.01ZM481.10 826.99H488.29V835.04H481.10ZM488.29 826.99H495.25V849.19H488.29ZM495.25 829.16H501.78V851.37H495.25ZM501.78 830.03H508.31V851.37H501.78ZM508.31 827.42H514.84V851.37H508.31ZM514.84 829.60H521.37V852.46H514.84ZM521.37 826.33H527.90V852.46H521.37ZM527.90 828.51H534.43V852.46H527.90ZM534.43 830.69H540.97V852.46H534.43ZM540.97 831.78H547.06V852.46H540.97Z" fill="rgb(190,134,204)"/>
<path d="M416.01 832.86H422.98V854.40H416.01ZM422.98 825.24H429.95V854.40H422.98ZM429.95 823.07H435.39V854.40H429.95ZM435.39 819.80H436.48V854.40H435.39ZM436.48 819.80H441.92V854.40H436.48ZM441.92 821.33H449.10V854.40H441.92ZM449.10 821.33H449.54V854.40H449.10ZM449.54 822.63H456.07V854.40H449.54ZM456.07 822.63H458.25V854.40H456.07ZM458.25 825.24H462.60V854.40H458.25ZM462.60 825.24H469.13V854.40H462.60ZM469.13 824.81H475.22V854.40H469.13ZM475.22 825.24H481.10V854.40H475.22ZM481.10 835.04H488.29V854.40H481.10ZM488.29 849.19H495.25V854.40H488.29ZM495.25 851.37H501.78V854.40H495.25ZM501.78 851.37H508.31V854.40H501.78ZM508.31 851.37H514.84V854.40H508.31ZM514.84 852.46H521.37V854.40H514.84ZM521.37 852.46H527.90V854.40H521.37ZM527.90 852.46H534.43V854.40H527.90ZM534.43 852.46H540.97V854.40H534.43ZM540.97 852.46H547.06V854.40H540.97Z" fill="rgb(205,110,110)"/>
<path d="M422.98 799.12H429.95V825.24H422.98ZM429.95 794.77H435.39V823.07H429.95ZM435.39 794.77H436.48V819.80H435.39ZM436.48 789.33H441.92V819.80H436.48ZM441.92 789.33H449.10V821.33H441.92ZM449.10 793.03H449.54V821.33H449.10ZM449.54 793.03H456.07V822.63H449.54ZM456.07 798.69H458.25V822.63H456.07ZM458.25 798.69H462.60V825.24H458.25ZM462.60 803.48H469.13V825.24H462.60ZM469.13 811.75H475.22V824.81H469.13Z" fill="rgb(245,168,82)"/>
<path d="M416.01 854.40V832.86H422.98V799.12H429.95V794.77H436.48V789.33H449.10V793.03H456.07V798.69H462.60V803.48H469.13V811.75H475.22V825.24H481.10V835.04H488.29V849.19H495.25V851.37H514.84V852.46H547.06V854.40" fill="none" stroke="#000" stroke-width="1.1" stroke-opacity="0.85"/>
<path d="M416.01 854.40V829.16H422.98V825.24H429.95V823.07H435.39V819.80H441.92V821.33H449.54V822.63H458.24V825.24H469.13V824.81H475.22V825.24H481.10V826.99H495.25V829.16H501.78V830.03H508.31V827.42H514.84V829.60H521.37V826.33H527.90V828.51H534.44V830.69H540.97V831.78H547.06V854.40" fill="none" stroke="#000" stroke-width="1.1" stroke-opacity="0.85"/>
<line x1="430.38" y1="782.8" x2="430.38" y2="854.4" stroke="#000" stroke-width="1.5" stroke-dasharray="6.6 7.9" stroke-dashoffset="7.0"/>
<line x1="450.63" y1="782.8" x2="450.63" y2="854.4" stroke="#7a7a7a" stroke-width="2"/>
<line x1="474.57" y1="782.8" x2="474.57" y2="854.4" stroke="#000" stroke-width="1.5" stroke-dasharray="6.6 7.9" stroke-dashoffset="7.0"/>
<text x="416.20" y="867.00" font-size="9.95" text-anchor="middle" textLength="5.69" lengthAdjust="spacingAndGlyphs" stroke="#000" stroke-width="0.2" fill="#000">0</text>
<text x="430.79" y="867.00" font-size="9.95" text-anchor="middle" textLength="5.69" lengthAdjust="spacingAndGlyphs" stroke="#000" stroke-width="0.2" fill="#000">1</text>
<text x="445.38" y="867.00" font-size="9.95" text-anchor="middle" textLength="5.69" lengthAdjust="spacingAndGlyphs" stroke="#000" stroke-width="0.2" fill="#000">2</text>
<text x="459.97" y="867.00" font-size="9.95" text-anchor="middle" textLength="5.69" lengthAdjust="spacingAndGlyphs" stroke="#000" stroke-width="0.2" fill="#000">3</text>
<text x="474.56" y="867.00" font-size="9.95" text-anchor="middle" textLength="5.69" lengthAdjust="spacingAndGlyphs" stroke="#000" stroke-width="0.2" fill="#000">4</text>
<text x="489.14" y="867.00" font-size="9.95" text-anchor="middle" textLength="5.69" lengthAdjust="spacingAndGlyphs" stroke="#000" stroke-width="0.2" fill="#000">5</text>
<text x="503.73" y="867.00" font-size="9.95" text-anchor="middle" textLength="5.69" lengthAdjust="spacingAndGlyphs" stroke="#000" stroke-width="0.2" fill="#000">6</text>
<text x="518.32" y="867.00" font-size="9.95" text-anchor="middle" textLength="5.69" lengthAdjust="spacingAndGlyphs" stroke="#000" stroke-width="0.2" fill="#000">7</text>
<text x="532.91" y="867.00" font-size="9.95" text-anchor="middle" textLength="5.69" lengthAdjust="spacingAndGlyphs" stroke="#000" stroke-width="0.2" fill="#000">8</text>
<text x="547.50" y="867.00" font-size="9.95" text-anchor="middle" textLength="5.69" lengthAdjust="spacingAndGlyphs" stroke="#000" stroke-width="0.2" fill="#000">9</text>
<path d="M416.20 782.8v3M416.20 854.4v-3M430.79 782.8v3M430.79 854.4v-3M445.38 782.8v3M445.38 854.4v-3M459.97 782.8v3M459.97 854.4v-3M474.56 782.8v3M474.56 854.4v-3M489.14 782.8v3M489.14 854.4v-3M503.73 782.8v3M503.73 854.4v-3M518.32 782.8v3M518.32 854.4v-3M532.91 782.8v3M532.91 854.4v-3M547.50 782.8v3M547.50 854.4v-3" stroke="#000" stroke-width="0.9"/>
<rect x="416.2" y="782.8" width="131.3" height="71.6" fill="none" stroke="#000" stroke-width="1.3"/>
<text x="413.40" y="776.70" font-size="12.58" text-anchor="start" textLength="64.81" lengthAdjust="spacingAndGlyphs" stroke="#000" stroke-width="0.2" fill="#000">Δ log P SiO</text>
<text x="478.21" y="779.30" font-size="8.80" text-anchor="start" textLength="5.03" lengthAdjust="spacingAndGlyphs" stroke="#000" stroke-width="0.2" fill="#000">2</text>
<text x="483.25" y="776.70" font-size="12.58" text-anchor="start" textLength="41.81" lengthAdjust="spacingAndGlyphs" stroke="#000" stroke-width="0.2" fill="#000"> = 2.36</text>
<text x="526.06" y="771.80" font-size="8.80" text-anchor="start" textLength="24.24" lengthAdjust="spacingAndGlyphs" stroke="#000" stroke-width="0.2" fill="#000">+1.65</text>
<text x="526.06" y="780.00" font-size="8.80" text-anchor="start" textLength="24.24" lengthAdjust="spacingAndGlyphs" stroke="#000" stroke-width="0.2" fill="#000">−1.36</text>
<path d="M591.11 848.10H603.30V849.19H591.11ZM603.30 841.57H615.27V844.84H603.30ZM615.27 832.21H627.25V842.66H615.27ZM627.25 823.50H638.13V837.22H627.25ZM638.13 815.45H650.10V828.51H638.13Z" fill="rgb(163,247,222)"/>
<path d="M591.11 849.19H603.30V854.40H591.11ZM603.30 844.84H615.27V854.40H603.30ZM615.27 842.66H627.25V854.40H615.27ZM627.25 837.22H638.13V854.40H627.25ZM638.13 828.51H650.10V854.40H638.13ZM650.10 815.45H661.64V854.40H650.10ZM661.64 820.89H672.96V854.40H661.64ZM672.96 831.78H684.93V854.40H672.96ZM684.93 838.31H696.47V854.40H684.93ZM696.47 847.01H708.88V854.40H696.47ZM708.88 848.10H722.59V854.40H708.88Z" fill="rgb(120,210,203)"/>
<path d="M650.10 812.62H661.64V815.45H650.10ZM661.64 789.33H672.96V820.89H661.64ZM672.96 789.33H684.93V831.78H672.96ZM684.93 826.33H696.47V838.31H684.93ZM696.47 844.84H708.88V847.01H696.47Z" fill="rgb(122,168,215)"/>
<path d="M591.11 854.40V849.19H603.30V844.84H615.27V842.66H627.24V837.22H638.13V828.51H650.10V812.62H661.64V789.33H684.93V826.33H696.47V844.84H708.88V848.10H722.59V854.40" fill="none" stroke="#000" stroke-width="1.1" stroke-opacity="0.85"/>
<path d="M591.11 854.40V848.10H603.30V841.57H615.27V832.21H627.24V823.50H638.13V815.45H650.10V815.45H661.64V820.89H672.96V831.78H684.93V838.31H696.47V847.01H708.88V848.10H722.59V854.40" fill="none" stroke="#000" stroke-width="1.1" stroke-opacity="0.85"/>
<line x1="637.69" y1="782.8" x2="637.69" y2="854.4" stroke="#000" stroke-width="1.5" stroke-dasharray="6.6 7.9" stroke-dashoffset="7.0"/>
<line x1="666.86" y1="782.8" x2="666.86" y2="854.4" stroke="#7a7a7a" stroke-width="2"/>
<line x1="683.41" y1="782.8" x2="683.41" y2="854.4" stroke="#000" stroke-width="1.5" stroke-dasharray="6.6 7.9" stroke-dashoffset="7.0"/>
<text x="591.20" y="867.00" font-size="9.95" text-anchor="middle" textLength="13.18" lengthAdjust="spacingAndGlyphs" stroke="#000" stroke-width="0.2" fill="#000">−6</text>
<text x="617.46" y="867.00" font-size="9.95" text-anchor="middle" textLength="13.18" lengthAdjust="spacingAndGlyphs" stroke="#000" stroke-width="0.2" fill="#000">−5</text>
<text x="643.72" y="867.00" font-size="9.95" text-anchor="middle" textLength="13.18" lengthAdjust="spacingAndGlyphs" stroke="#000" stroke-width="0.2" fill="#000">−4</text>
<text x="669.98" y="867.00" font-size="9.95" text-anchor="middle" textLength="13.18" lengthAdjust="spacingAndGlyphs" stroke="#000" stroke-width="0.2" fill="#000">−3</text>
<text x="696.24" y="867.00" font-size="9.95" text-anchor="middle" textLength="13.18" lengthAdjust="spacingAndGlyphs" stroke="#000" stroke-width="0.2" fill="#000">−2</text>
<text x="722.50" y="867.00" font-size="9.95" text-anchor="middle" textLength="13.18" lengthAdjust="spacingAndGlyphs" stroke="#000" stroke-width="0.2" fill="#000">−1</text>
<path d="M591.20 782.8v3M591.20 854.4v-3M617.46 782.8v3M617.46 854.4v-3M643.72 782.8v3M643.72 854.4v-3M669.98 782.8v3M669.98 854.4v-3M696.24 782.8v3M696.24 854.4v-3M722.50 782.8v3M722.50 854.4v-3" stroke="#000" stroke-width="0.9"/>
<rect x="591.2" y="782.8" width="131.3" height="71.6" fill="none" stroke="#000" stroke-width="1.3"/>
<text x="580.28" y="776.70" font-size="12.58" text-anchor="start" textLength="28.85" lengthAdjust="spacingAndGlyphs" stroke="#000" stroke-width="0.2" fill="#000">log P</text>
<text x="609.13" y="779.30" font-size="8.80" text-anchor="start" textLength="18.52" lengthAdjust="spacingAndGlyphs" stroke="#000" stroke-width="0.2" fill="#000">base</text>
<text x="627.65" y="776.70" font-size="12.58" text-anchor="start" textLength="24.21" lengthAdjust="spacingAndGlyphs" stroke="#000" stroke-width="0.2" fill="#000"> SiO</text>
<text x="651.86" y="779.30" font-size="8.80" text-anchor="start" textLength="5.03" lengthAdjust="spacingAndGlyphs" stroke="#000" stroke-width="0.2" fill="#000">2</text>
<text x="656.89" y="776.70" font-size="12.58" text-anchor="start" textLength="51.28" lengthAdjust="spacingAndGlyphs" stroke="#000" stroke-width="0.2" fill="#000"> = −3.10</text>
<text x="709.18" y="771.80" font-size="8.80" text-anchor="start" textLength="24.24" lengthAdjust="spacingAndGlyphs" stroke="#000" stroke-width="0.2" fill="#000">+0.63</text>
<text x="709.18" y="780.00" font-size="8.80" text-anchor="start" textLength="24.24" lengthAdjust="spacingAndGlyphs" stroke="#000" stroke-width="0.2" fill="#000">−1.11</text>
<rect x="66.5" y="18.0" width="655.0" height="361.0" fill="none" stroke="#000" stroke-width="1.4"/>
</svg></body></html>
